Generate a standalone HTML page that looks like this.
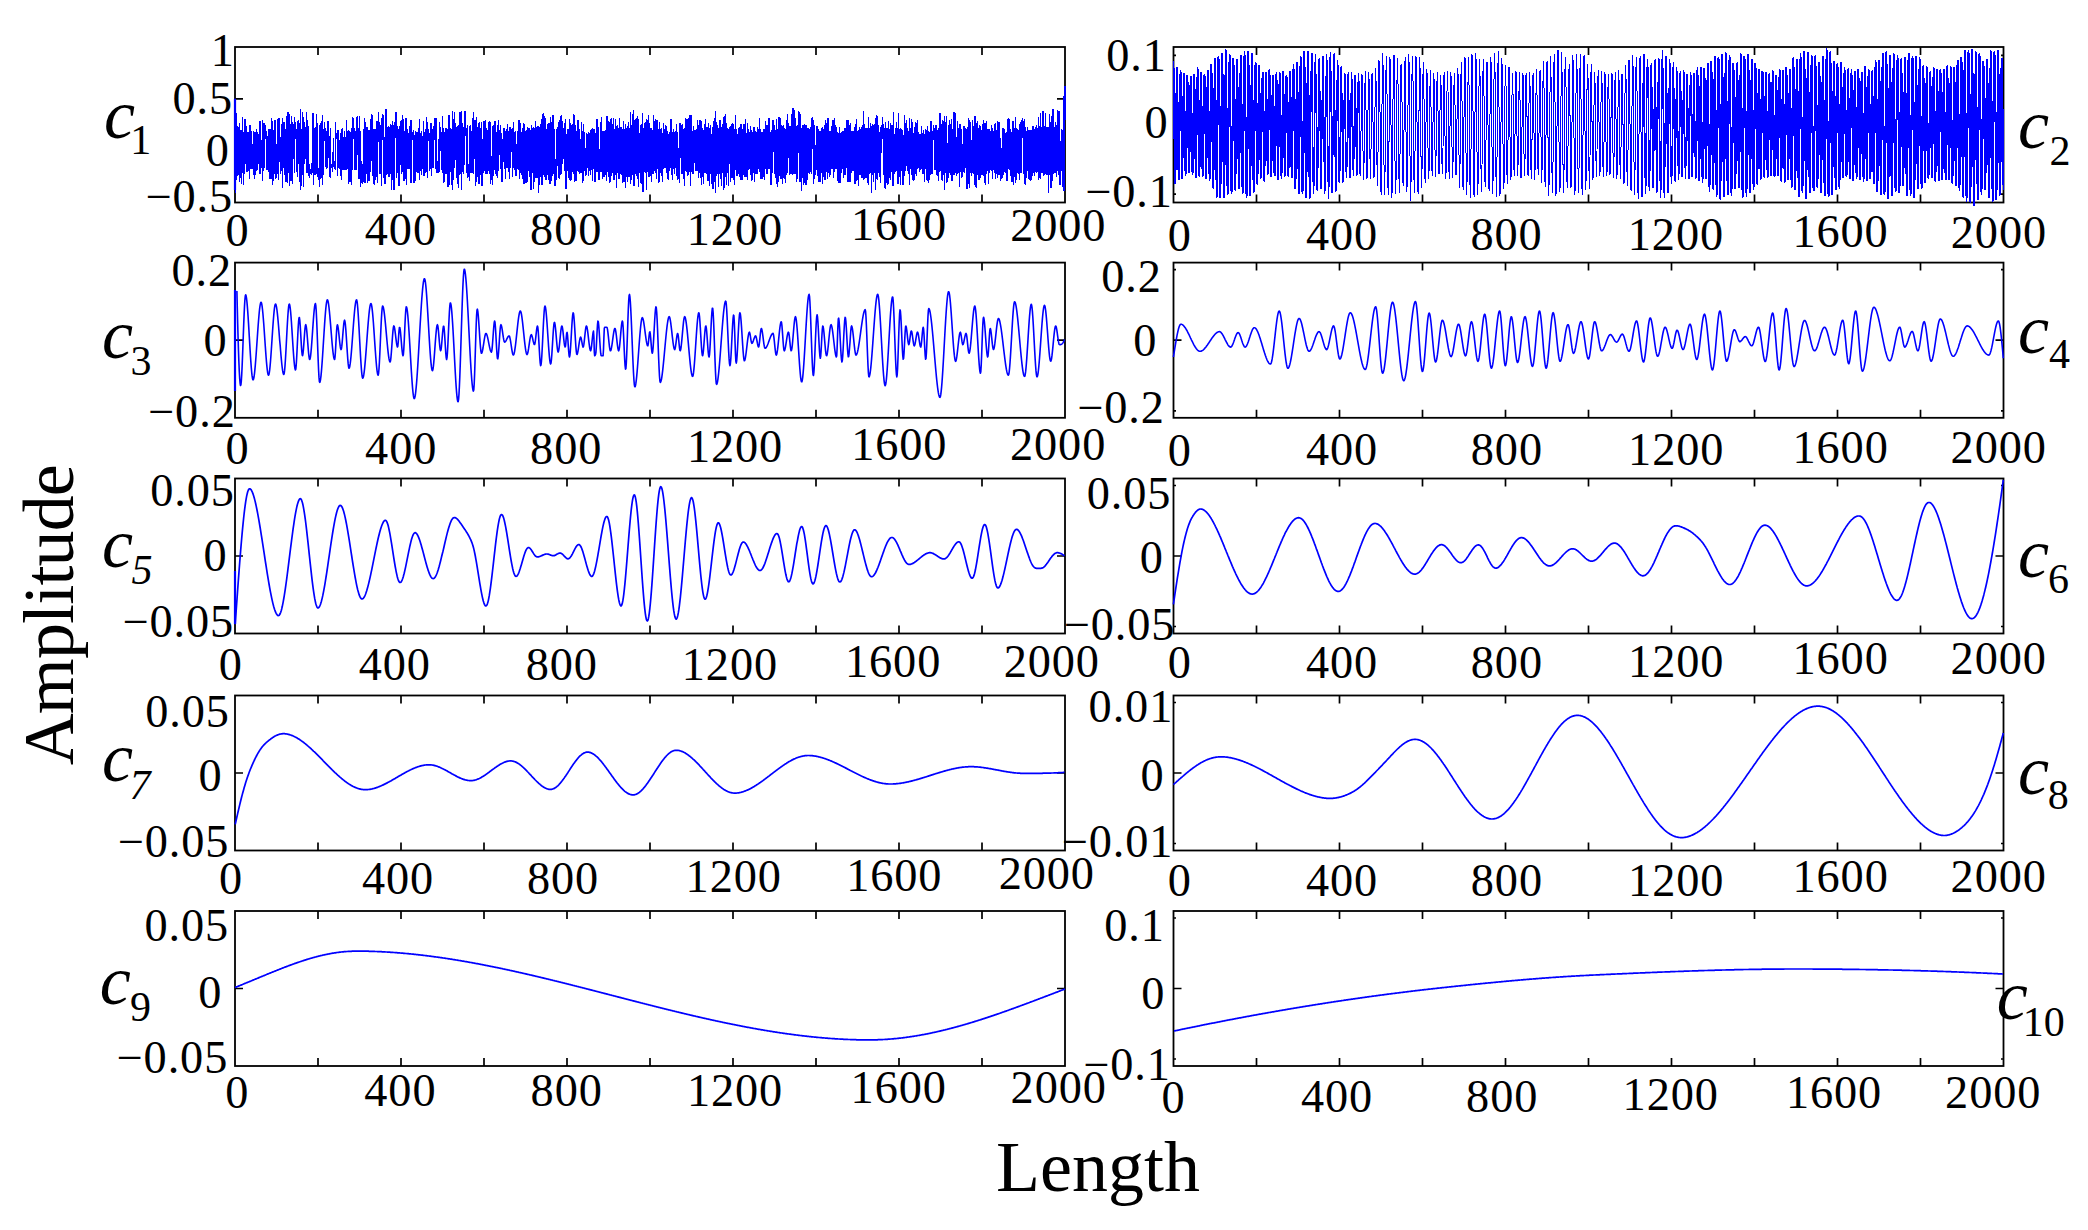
<!DOCTYPE html>
<html lang="en"><head><meta charset="utf-8"><title>IMF components</title>
<style>html,body{margin:0;padding:0;background:#fff}svg{display:block}</style></head>
<body>
<svg width="2088" height="1230" viewBox="0 0 2088 1230" font-family="'Liberation Serif', 'Times New Roman', serif" fill="#000">
<rect width="2088" height="1230" fill="#fff"/>
<rect x="235.0" y="47.0" width="830.0" height="155.5" fill="none" stroke="#000" stroke-width="1.8"/>
<path d="M318.0 47.0v8.0M318.0 202.5v-8.0M401.0 47.0v8.0M401.0 202.5v-8.0M484.0 47.0v8.0M484.0 202.5v-8.0M567.0 47.0v8.0M567.0 202.5v-8.0M650.0 47.0v8.0M650.0 202.5v-8.0M733.0 47.0v8.0M733.0 202.5v-8.0M816.0 47.0v8.0M816.0 202.5v-8.0M899.0 47.0v8.0M899.0 202.5v-8.0M982.0 47.0v8.0M982.0 202.5v-8.0M235.0 98.8h8.0M1065.0 98.8h-8.0M235.0 150.7h8.0M1065.0 150.7h-8.0" stroke="#000" stroke-width="1.7" fill="none"/>
<polyline points="235.0,98.8 235.4,192.1 235.8,119.6 236.2,179.7 236.7,113.3 237.1,175.2 237.5,126.9 237.9,138.8 238.3,130.0 238.7,174.2 239.2,123.5 239.6,181.1 240.0,163.5 240.4,169.9 240.8,130.4 241.2,183.9 241.6,131.1 242.1,172.5 242.5,117.2 242.9,139.5 243.3,165.1 243.7,184.2 244.1,131.7 244.5,173.3 245.0,119.1 245.4,139.8 245.8,163.7 246.2,134.8 246.6,126.4 247.0,171.2 247.5,132.8 247.9,171.3 248.3,162.1 248.7,138.6 249.1,132.0 249.5,178.1 249.9,125.2 250.4,168.6 250.8,129.6 251.2,168.1 251.6,131.6 252.0,168.6 252.4,164.0 252.9,168.6 253.3,131.8 253.7,174.0 254.1,132.5 254.5,178.6 254.9,134.3 255.3,174.2 255.8,132.5 256.2,139.8 256.6,129.4 257.0,170.1 257.4,132.6 257.8,166.6 258.3,134.6 258.7,137.0 259.1,162.4 259.5,173.3 259.9,121.3 260.3,173.2 260.7,160.4 261.2,140.3 261.6,163.3 262.0,167.6 262.4,120.3 262.8,180.5 263.2,123.5 263.6,170.2 264.1,123.4 264.5,167.7 264.9,132.6 265.3,138.7 265.7,125.4 266.1,138.4 266.6,133.2 267.0,169.6 267.4,162.0 267.8,169.4 268.2,132.6 268.6,170.9 269.0,129.9 269.5,178.2 269.9,167.6 270.3,172.9 270.7,129.2 271.1,178.9 271.5,119.0 272.0,176.6 272.4,121.3 272.8,184.6 273.2,162.1 273.6,131.4 274.0,130.5 274.4,173.3 274.9,120.6 275.3,178.6 275.7,130.9 276.1,177.4 276.5,162.5 276.9,172.2 277.4,119.4 277.8,173.3 278.2,124.9 278.6,179.7 279.0,118.8 279.4,132.6 279.8,130.6 280.3,173.5 280.7,164.8 281.1,170.8 281.5,125.7 281.9,134.8 282.3,118.2 282.7,187.2 283.2,130.2 283.6,138.1 284.0,122.9 284.4,171.2 284.8,163.3 285.2,176.6 285.7,129.9 286.1,182.0 286.5,116.9 286.9,171.1 287.3,125.6 287.7,182.5 288.1,112.5 288.6,172.2 289.0,129.8 289.4,185.2 289.8,114.9 290.2,171.7 290.6,164.9 291.1,180.4 291.5,117.0 291.9,138.1 292.3,122.3 292.7,183.2 293.1,124.9 293.5,138.0 294.0,129.9 294.4,172.6 294.8,117.9 295.2,138.2 295.6,129.8 296.0,136.9 296.5,129.7 296.9,171.9 297.3,129.7 297.7,176.4 298.1,120.8 298.5,136.2 298.9,163.5 299.4,136.9 299.8,123.3 300.2,189.1 300.6,110.0 301.0,172.9 301.4,129.3 301.8,185.2 302.3,112.5 302.7,135.6 303.1,117.9 303.5,186.7 303.9,122.4 304.3,128.9 304.8,163.7 305.2,137.0 305.6,127.8 306.0,137.5 306.4,112.7 306.8,172.4 307.2,120.6 307.7,172.4 308.1,126.9 308.5,175.3 308.9,163.9 309.3,177.0 309.7,166.6 310.2,173.8 310.6,169.6 311.0,172.5 311.4,163.8 311.8,174.0 312.2,164.8 312.6,172.5 313.1,113.4 313.5,184.5 313.9,129.5 314.3,173.7 314.7,129.1 315.1,174.7 315.6,128.9 316.0,135.9 316.4,114.6 316.8,173.2 317.2,123.3 317.6,176.6 318.0,168.5 318.5,170.5 318.9,168.2 319.3,186.1 319.7,125.4 320.1,171.1 320.5,124.1 320.9,178.0 321.4,124.9 321.8,169.7 322.2,115.9 322.6,184.6 323.0,129.7 323.4,174.2 323.9,132.5 324.3,130.2 324.7,122.2 325.1,136.4 325.5,166.6 325.9,139.9 326.3,132.0 326.8,168.7 327.2,164.0 327.6,140.3 328.0,121.3 328.4,138.8 328.8,131.2 329.3,167.6 329.7,164.7 330.1,177.1 330.5,128.6 330.9,167.9 331.3,165.9 331.7,167.3 332.2,166.5 332.6,171.6 333.0,161.1 333.4,138.8 333.8,163.7 334.2,167.7 334.6,166.7 335.1,169.2 335.5,122.7 335.9,134.8 336.3,134.2 336.7,137.4 337.1,133.1 337.6,175.2 338.0,130.3 338.4,139.1 338.8,167.7 339.2,140.7 339.6,163.2 340.0,168.7 340.5,133.9 340.9,175.7 341.3,129.5 341.7,179.7 342.1,128.7 342.5,169.1 343.0,170.0 343.4,140.3 343.8,161.0 344.2,135.5 344.6,131.5 345.0,169.8 345.4,168.4 345.9,169.6 346.3,120.6 346.7,136.4 347.1,131.5 347.5,168.5 347.9,132.1 348.4,183.8 348.8,130.5 349.2,168.9 349.6,131.5 350.0,181.9 350.4,132.2 350.8,178.4 351.3,132.3 351.7,184.3 352.1,128.2 352.5,169.0 352.9,117.9 353.3,138.6 353.7,123.8 354.2,137.2 354.6,132.1 355.0,169.3 355.4,131.9 355.8,169.5 356.2,132.1 356.7,169.3 357.1,116.8 357.5,139.4 357.9,128.1 358.3,169.5 358.7,131.4 359.1,178.9 359.6,116.9 360.0,137.4 360.4,161.9 360.8,186.8 361.2,162.0 361.6,171.7 362.1,164.7 362.5,183.2 362.9,168.9 363.3,175.6 363.7,129.3 364.1,181.6 364.5,118.6 365.0,182.9 365.4,122.9 365.8,139.0 366.2,130.1 366.6,173.7 367.0,127.2 367.5,182.2 367.9,130.3 368.3,134.4 368.7,163.8 369.1,180.9 369.5,130.2 369.9,136.5 370.4,130.5 370.8,171.4 371.2,114.4 371.6,137.6 372.0,115.6 372.4,175.7 372.8,130.1 373.3,131.4 373.7,129.9 374.1,184.2 374.5,129.7 374.9,179.8 375.3,129.2 375.8,173.7 376.2,174.0 376.6,176.1 377.0,121.3 377.4,182.5 377.8,128.9 378.2,129.5 378.7,112.4 379.1,137.3 379.5,167.0 379.9,173.9 380.3,170.2 380.7,137.4 381.2,123.8 381.6,185.1 382.0,118.1 382.4,137.2 382.8,114.7 383.2,136.8 383.6,115.5 384.1,177.4 384.5,164.3 384.9,183.4 385.3,115.5 385.7,182.3 386.1,109.4 386.6,174.0 387.0,127.6 387.4,173.2 387.8,167.1 388.2,135.8 388.6,126.5 389.0,176.3 389.5,127.6 389.9,172.5 390.3,125.0 390.7,173.5 391.1,125.6 391.5,189.0 391.9,128.8 392.4,179.3 392.8,122.0 393.2,137.3 393.6,126.0 394.0,189.5 394.4,128.1 394.9,132.9 395.3,117.3 395.7,137.2 396.1,112.1 396.5,177.5 396.9,126.6 397.3,133.5 397.8,128.1 398.2,178.9 398.6,130.1 399.0,185.2 399.4,126.7 399.8,170.6 400.3,128.7 400.7,131.1 401.1,121.0 401.5,172.9 401.9,130.3 402.3,171.2 402.7,116.0 403.2,169.1 403.6,119.5 404.0,180.7 404.4,132.0 404.8,170.3 405.2,128.0 405.7,178.6 406.1,118.3 406.5,184.4 406.9,132.0 407.3,168.7 407.7,129.8 408.1,137.5 408.6,165.0 409.0,168.2 409.4,127.1 409.8,132.2 410.2,168.9 410.6,182.0 411.0,120.0 411.5,182.5 411.9,133.4 412.3,132.4 412.7,132.5 413.1,139.5 413.5,130.5 414.0,182.3 414.4,164.2 414.8,169.6 415.2,131.6 415.6,180.7 416.0,167.3 416.4,140.2 416.9,132.6 417.3,169.8 417.7,132.8 418.1,172.5 418.5,132.7 418.9,137.4 419.4,119.5 419.8,179.2 420.2,133.2 420.6,168.6 421.0,162.5 421.4,174.2 421.8,131.2 422.3,168.9 422.7,162.1 423.1,139.9 423.5,121.7 423.9,175.4 424.3,162.5 424.7,175.4 425.2,129.4 425.6,172.0 426.0,131.5 426.4,171.4 426.8,117.8 427.2,177.4 427.7,122.7 428.1,140.1 428.5,129.8 428.9,139.2 429.3,133.2 429.7,170.1 430.1,133.3 430.6,168.6 431.0,123.7 431.4,174.9 431.8,126.2 432.2,140.3 432.6,133.1 433.1,167.9 433.5,133.3 433.9,140.2 434.3,118.9 434.7,132.8 435.1,132.9 435.5,168.8 436.0,118.8 436.4,172.6 436.8,162.2 437.2,171.1 437.6,161.7 438.0,173.0 438.5,165.9 438.9,172.0 439.3,122.6 439.7,168.5 440.1,127.6 440.5,130.4 440.9,132.6 441.4,137.8 441.8,165.0 442.2,170.2 442.6,117.1 443.0,172.3 443.4,129.0 443.8,182.6 444.3,132.2 444.7,181.8 445.1,162.0 445.5,171.5 445.9,128.1 446.3,173.1 446.8,131.5 447.2,171.4 447.6,129.4 448.0,186.4 448.4,116.1 448.8,176.0 449.2,115.1 449.7,184.0 450.1,128.4 450.5,171.1 450.9,166.6 451.3,172.7 451.7,130.0 452.2,189.7 452.6,111.9 453.0,176.5 453.4,122.9 453.8,179.9 454.2,112.8 454.6,135.6 455.1,123.1 455.5,137.3 455.9,128.1 456.3,177.2 456.7,128.0 457.1,172.6 457.6,126.4 458.0,183.5 458.4,164.7 458.8,187.5 459.2,119.1 459.6,132.5 460.0,112.5 460.5,173.0 460.9,127.9 461.3,189.7 461.7,111.7 462.1,137.2 462.5,171.1 462.9,137.3 463.4,128.1 463.8,173.1 464.2,127.0 464.6,135.8 465.0,111.8 465.4,135.4 465.9,128.3 466.3,136.7 466.7,128.7 467.1,172.6 467.5,125.6 467.9,177.1 468.3,164.3 468.8,174.7 469.2,163.7 469.6,180.1 470.0,126.7 470.4,172.4 470.8,125.2 471.3,172.5 471.7,164.1 472.1,171.9 472.5,118.6 472.9,172.6 473.3,112.7 473.7,173.9 474.2,129.8 474.6,133.2 475.0,120.8 475.4,185.0 475.8,130.3 476.2,181.8 476.7,117.5 477.1,171.9 477.5,127.6 477.9,176.8 478.3,130.1 478.7,183.6 479.1,122.9 479.6,182.9 480.0,128.1 480.4,174.3 480.8,130.9 481.2,171.3 481.6,122.6 482.0,185.9 482.5,162.3 482.9,139.2 483.3,162.1 483.7,172.5 484.1,121.3 484.5,170.2 485.0,128.4 485.4,173.6 485.8,120.1 486.2,169.8 486.6,131.9 487.0,173.3 487.4,130.2 487.9,170.5 488.3,122.3 488.7,135.0 489.1,161.9 489.5,173.8 489.9,121.7 490.4,183.1 490.8,161.8 491.2,179.8 491.6,161.8 492.0,176.5 492.4,126.8 492.8,184.3 493.3,126.1 493.7,169.1 494.1,125.4 494.5,169.8 494.9,121.2 495.3,139.7 495.8,162.4 496.2,175.8 496.6,132.3 497.0,175.1 497.4,165.9 497.8,177.0 498.2,120.5 498.7,170.8 499.1,132.7 499.5,139.5 499.9,131.0 500.3,168.3 500.7,125.6 501.1,168.2 501.6,133.2 502.0,181.7 502.4,167.0 502.8,139.9 503.2,161.9 503.6,134.2 504.1,128.2 504.5,168.5 504.9,131.1 505.3,178.5 505.7,133.9 506.1,131.5 506.5,129.6 507.0,167.7 507.4,124.7 507.8,167.3 508.2,132.0 508.6,171.6 509.0,133.5 509.5,178.6 509.9,127.5 510.3,167.3 510.7,134.1 511.1,140.9 511.5,130.0 511.9,140.7 512.4,162.8 512.8,176.7 513.2,123.0 513.6,167.2 514.0,133.0 514.4,169.3 514.8,132.4 515.3,169.4 515.7,131.4 516.1,175.5 516.5,161.3 516.9,168.8 517.3,131.9 517.8,167.8 518.2,128.1 518.6,169.8 519.0,120.6 519.4,178.1 519.8,132.7 520.2,139.8 520.7,123.8 521.1,172.8 521.5,132.9 521.9,174.4 522.3,130.6 522.7,178.5 523.2,123.6 523.6,183.1 524.0,124.5 524.4,183.3 524.8,162.6 525.2,138.4 525.6,131.6 526.1,182.6 526.5,131.1 526.9,136.1 527.3,127.1 527.7,181.8 528.1,128.6 528.6,170.8 529.0,128.4 529.4,170.8 529.8,163.6 530.2,177.8 530.6,130.2 531.0,189.7 531.5,125.2 531.9,137.4 532.3,170.9 532.7,171.9 533.1,128.0 533.5,188.6 533.9,128.6 534.4,181.8 534.8,163.5 535.2,177.0 535.6,121.4 536.0,172.8 536.4,127.4 536.9,177.6 537.3,167.4 537.7,172.6 538.1,126.2 538.5,192.2 538.9,127.3 539.3,184.1 539.8,128.4 540.2,176.0 540.6,124.3 541.0,133.8 541.4,119.4 541.8,184.4 542.3,169.1 542.7,184.7 543.1,113.9 543.5,173.9 543.9,116.1 544.3,176.9 544.7,128.2 545.2,172.5 545.6,118.4 546.0,179.3 546.4,129.3 546.8,178.0 547.2,129.4 547.7,174.3 548.1,123.9 548.5,179.3 548.9,129.3 549.3,171.7 549.7,124.0 550.1,184.0 550.6,118.1 551.0,173.6 551.4,124.1 551.8,180.7 552.2,115.7 552.6,175.4 553.0,115.8 553.5,172.9 553.9,129.3 554.3,172.6 554.7,168.7 555.1,185.7 555.5,165.2 556.0,179.7 556.4,129.9 556.8,175.4 557.2,127.2 557.6,136.6 558.0,129.7 558.4,177.7 558.9,122.4 559.3,178.0 559.7,120.5 560.1,174.4 560.5,117.1 560.9,135.2 561.4,116.1 561.8,173.6 562.2,121.8 562.6,138.2 563.0,130.3 563.4,128.9 563.8,128.3 564.3,170.9 564.7,124.0 565.1,129.0 565.5,120.1 565.9,188.7 566.3,172.3 566.8,174.0 567.2,129.9 567.6,170.7 568.0,129.7 568.4,177.2 568.8,171.4 569.2,138.8 569.7,119.4 570.1,180.3 570.5,123.2 570.9,170.3 571.3,131.2 571.7,179.1 572.1,124.8 572.6,171.8 573.0,129.9 573.4,169.7 573.8,114.7 574.2,181.1 574.6,115.7 575.1,132.9 575.5,129.1 575.9,180.7 576.3,131.9 576.7,175.8 577.1,131.9 577.5,170.7 578.0,120.7 578.4,170.9 578.8,120.4 579.2,173.4 579.6,132.1 580.0,168.8 580.5,161.0 580.9,172.4 581.3,123.0 581.7,168.2 582.1,162.6 582.5,182.3 582.9,132.0 583.4,180.5 583.8,124.2 584.2,170.3 584.6,163.8 585.0,167.0 585.4,162.5 585.9,175.0 586.3,134.0 586.7,166.8 587.1,134.6 587.5,166.9 587.9,134.1 588.3,175.7 588.8,132.1 589.2,170.3 589.6,133.6 590.0,167.6 590.4,130.7 590.8,174.3 591.2,134.4 591.7,169.0 592.1,129.0 592.5,180.2 592.9,133.7 593.3,168.7 593.7,130.1 594.2,167.2 594.6,129.2 595.0,181.4 595.4,133.3 595.8,170.3 596.2,133.9 596.6,171.1 597.1,119.3 597.5,171.7 597.9,133.1 598.3,139.6 598.7,127.7 599.1,179.4 599.6,162.8 600.0,171.6 600.4,122.8 600.8,168.6 601.2,118.0 601.6,171.8 602.0,131.0 602.5,178.6 602.9,131.4 603.3,169.4 603.7,131.2 604.1,176.5 604.5,131.7 604.9,137.5 605.4,130.9 605.8,174.4 606.2,131.2 606.6,180.1 607.0,116.3 607.4,171.6 607.9,129.3 608.3,176.1 608.7,121.6 609.1,170.5 609.5,123.1 609.9,182.2 610.3,119.7 610.8,173.7 611.2,118.5 611.6,175.7 612.0,130.0 612.4,172.1 612.8,124.5 613.3,176.1 613.7,118.8 614.1,180.0 614.5,129.6 614.9,173.6 615.3,119.4 615.7,174.5 616.2,129.4 616.6,187.5 617.0,126.9 617.4,172.6 617.8,125.8 618.2,172.6 618.7,129.0 619.1,178.9 619.5,118.6 619.9,173.9 620.3,129.7 620.7,136.1 621.1,127.5 621.6,174.3 622.0,129.2 622.4,182.0 622.8,163.4 623.2,171.3 623.6,121.3 624.0,181.2 624.5,129.2 624.9,171.8 625.3,124.2 625.7,187.3 626.1,129.0 626.5,176.4 627.0,128.8 627.4,181.4 627.8,126.2 628.2,173.8 628.6,122.2 629.0,176.4 629.4,129.1 629.9,174.5 630.3,112.1 630.7,183.6 631.1,125.1 631.5,179.6 631.9,129.2 632.4,174.6 632.8,114.2 633.2,172.4 633.6,110.6 634.0,185.6 634.4,120.7 634.8,174.3 635.3,129.2 635.7,173.4 636.1,119.0 636.5,175.1 636.9,170.9 637.3,172.9 637.8,116.2 638.2,186.4 638.6,119.5 639.0,172.8 639.4,164.0 639.8,172.3 640.2,129.1 640.7,182.3 641.1,125.0 641.5,183.0 641.9,128.0 642.3,174.0 642.7,113.9 643.1,191.5 643.6,129.2 644.0,131.2 644.4,124.1 644.8,171.8 645.2,122.9 645.6,172.8 646.1,127.8 646.5,189.4 646.9,120.0 647.3,171.4 647.7,122.0 648.1,171.1 648.5,116.0 649.0,176.9 649.4,123.8 649.8,170.7 650.2,130.7 650.6,174.9 651.0,128.8 651.5,181.8 651.9,130.1 652.3,172.3 652.7,131.3 653.1,173.6 653.5,116.1 653.9,170.4 654.4,121.8 654.8,169.5 655.2,119.3 655.6,172.8 656.0,132.4 656.4,178.3 656.9,120.1 657.3,139.9 657.7,132.9 658.1,169.0 658.5,129.5 658.9,182.2 659.3,122.1 659.8,169.1 660.2,133.6 660.6,172.6 661.0,129.3 661.4,168.1 661.8,128.9 662.2,181.9 662.7,133.9 663.1,168.3 663.5,123.7 663.9,167.3 664.3,160.6 664.7,167.3 665.2,126.0 665.6,167.1 666.0,134.4 666.4,172.2 666.8,126.2 667.2,174.9 667.6,132.1 668.1,179.2 668.5,134.2 668.9,169.4 669.3,132.7 669.7,170.9 670.1,133.9 670.6,167.3 671.0,119.7 671.4,168.2 671.8,130.9 672.2,179.8 672.6,132.9 673.0,169.0 673.5,129.6 673.9,167.5 674.3,133.8 674.7,173.3 675.1,131.9 675.5,167.8 676.0,161.6 676.4,175.0 676.8,124.7 677.2,171.6 677.6,132.7 678.0,179.1 678.4,161.5 678.9,177.1 679.3,132.7 679.7,182.5 680.1,123.5 680.5,137.8 680.9,130.1 681.3,173.6 681.8,125.9 682.2,173.4 682.6,124.9 683.0,169.0 683.4,129.9 683.8,178.1 684.3,129.5 684.7,185.0 685.1,127.9 685.5,170.5 685.9,118.8 686.3,171.8 686.7,127.5 687.2,175.8 687.6,119.7 688.0,170.0 688.4,119.1 688.8,174.5 689.2,129.9 689.7,171.1 690.1,115.1 690.5,185.0 690.9,127.2 691.3,171.3 691.7,115.3 692.1,169.7 692.6,131.6 693.0,173.3 693.4,126.2 693.8,169.8 694.2,131.1 694.6,139.1 695.1,130.6 695.5,170.3 695.9,131.2 696.3,170.2 696.7,129.3 697.1,170.2 697.5,121.1 698.0,137.5 698.4,131.0 698.8,177.2 699.2,120.4 699.6,172.2 700.0,130.9 700.4,177.5 700.9,121.0 701.3,184.7 701.7,122.0 702.1,176.6 702.5,128.8 702.9,171.7 703.4,130.4 703.8,183.1 704.2,125.0 704.6,172.4 705.0,129.9 705.4,172.6 705.8,119.6 706.3,172.2 706.7,129.7 707.1,174.0 707.5,127.8 707.9,180.6 708.3,124.0 708.8,175.8 709.2,174.7 709.6,185.8 710.0,128.9 710.4,173.2 710.8,126.0 711.2,172.5 711.7,170.3 712.1,183.8 712.5,127.4 712.9,188.9 713.3,123.1 713.7,173.5 714.1,121.4 714.6,181.4 715.0,118.6 715.4,192.1 715.8,111.6 716.2,175.9 716.6,125.2 717.1,173.0 717.5,125.4 717.9,173.4 718.3,128.2 718.7,186.0 719.1,128.4 719.5,173.1 720.0,120.2 720.4,133.9 720.8,125.5 721.2,185.3 721.6,127.9 722.0,173.1 722.5,124.3 722.9,172.5 723.3,120.3 723.7,189.3 724.1,116.8 724.5,186.9 724.9,129.4 725.4,174.7 725.8,114.2 726.2,184.7 726.6,123.8 727.0,133.8 727.4,129.1 727.9,172.1 728.3,130.3 728.7,185.6 729.1,129.4 729.5,127.9 729.9,130.9 730.3,181.4 730.8,126.7 731.2,170.1 731.6,124.2 732.0,177.9 732.4,123.6 732.8,177.4 733.2,124.5 733.7,179.0 734.1,130.0 734.5,184.6 734.9,163.7 735.3,169.9 735.7,116.1 736.2,169.8 736.6,130.0 737.0,176.0 737.4,167.3 737.8,139.2 738.2,133.0 738.6,173.1 739.1,128.0 739.5,176.2 739.9,132.4 740.3,178.4 740.7,124.3 741.1,179.4 741.6,124.9 742.0,136.4 742.4,129.2 742.8,179.1 743.2,132.9 743.6,174.2 744.0,124.1 744.5,176.7 744.9,133.4 745.3,169.0 745.7,120.1 746.1,176.7 746.5,133.3 747.0,171.0 747.4,123.6 747.8,179.1 748.2,129.8 748.6,167.9 749.0,132.9 749.4,167.9 749.9,133.1 750.3,167.9 750.7,126.2 751.1,175.2 751.5,130.7 751.9,180.0 752.3,161.2 752.8,168.4 753.2,127.9 753.6,172.0 754.0,133.1 754.4,181.0 754.8,127.6 755.3,173.5 755.7,131.4 756.1,173.5 756.5,133.1 756.9,169.3 757.3,127.3 757.7,173.4 758.2,129.3 758.6,168.2 759.0,131.8 759.4,130.9 759.8,119.0 760.2,178.5 760.7,133.1 761.1,168.2 761.5,132.7 761.9,178.7 762.3,161.4 762.7,168.7 763.1,132.4 763.6,176.2 764.0,129.3 764.4,179.6 764.8,133.2 765.2,168.1 765.6,122.1 766.1,168.2 766.5,125.5 766.9,173.4 767.3,132.7 767.7,169.0 768.1,124.9 768.5,168.2 769.0,118.5 769.4,168.3 769.8,132.8 770.2,136.4 770.6,132.9 771.0,184.6 771.4,130.3 771.9,168.5 772.3,132.5 772.7,172.9 773.1,120.5 773.5,139.4 773.9,130.4 774.4,173.7 774.8,125.9 775.2,177.2 775.6,130.8 776.0,171.1 776.4,119.4 776.8,183.2 777.3,129.4 777.7,186.8 778.1,131.3 778.5,181.2 778.9,117.2 779.3,175.0 779.8,167.1 780.2,170.2 780.6,118.6 781.0,178.3 781.4,125.3 781.8,176.2 782.2,130.2 782.7,183.8 783.1,125.7 783.5,177.5 783.9,129.7 784.3,178.2 784.7,129.0 785.2,182.2 785.6,129.6 786.0,137.8 786.4,163.8 786.8,174.7 787.2,114.6 787.6,172.2 788.1,123.5 788.5,137.6 788.9,126.5 789.3,174.0 789.7,128.3 790.1,135.0 790.5,126.6 791.0,173.9 791.4,121.5 791.8,173.8 792.2,109.1 792.6,174.0 793.0,108.3 793.5,173.4 793.9,109.9 794.3,173.1 794.7,128.3 795.1,173.2 795.5,118.7 795.9,173.9 796.4,127.1 796.8,181.6 797.2,128.4 797.6,178.2 798.0,125.8 798.4,137.2 798.9,112.0 799.3,174.8 799.7,127.4 800.1,181.6 800.5,114.6 800.9,173.2 801.3,128.8 801.8,190.4 802.2,126.1 802.6,177.0 803.0,125.9 803.4,184.8 803.8,126.5 804.2,182.2 804.7,125.1 805.1,171.6 805.5,125.6 805.9,184.8 806.3,125.4 806.7,173.5 807.2,130.3 807.6,179.5 808.0,128.1 808.4,172.3 808.8,128.6 809.2,173.2 809.6,129.2 810.1,171.6 810.5,127.8 810.9,170.2 811.3,130.5 811.7,173.0 812.1,117.8 812.6,137.5 813.0,126.6 813.4,183.5 813.8,120.7 814.2,178.0 814.6,125.6 815.0,175.1 815.5,162.3 815.9,169.7 816.3,131.9 816.7,169.5 817.1,126.1 817.5,175.1 818.0,132.0 818.4,180.9 818.8,129.3 819.2,173.6 819.6,132.1 820.0,181.3 820.4,132.1 820.9,169.7 821.3,129.1 821.7,172.7 822.1,128.0 822.5,183.6 822.9,132.3 823.3,176.1 823.8,129.7 824.2,179.6 824.6,125.5 825.0,179.5 825.4,120.3 825.8,178.6 826.3,132.3 826.7,137.2 827.1,123.1 827.5,178.2 827.9,118.6 828.3,171.1 828.7,132.7 829.2,176.8 829.6,131.8 830.0,175.0 830.4,132.8 830.8,170.1 831.2,126.9 831.7,168.5 832.1,131.7 832.5,168.5 832.9,120.6 833.3,177.3 833.7,127.2 834.1,171.9 834.6,118.2 835.0,168.8 835.4,126.1 835.8,167.9 836.2,128.0 836.6,168.2 837.1,133.7 837.5,180.3 837.9,132.8 838.3,182.7 838.7,164.7 839.1,173.8 839.5,127.5 840.0,182.4 840.4,133.5 840.8,182.1 841.2,132.9 841.6,167.3 842.0,168.2 842.4,167.2 842.9,131.3 843.3,177.3 843.7,133.3 844.1,174.4 844.5,128.5 844.9,173.8 845.4,134.0 845.8,174.1 846.2,123.9 846.6,167.4 847.0,120.2 847.4,180.9 847.8,132.8 848.3,181.2 848.7,120.6 849.1,167.6 849.5,125.8 849.9,181.8 850.3,123.5 850.8,167.9 851.2,131.3 851.6,172.4 852.0,131.5 852.4,170.1 852.8,133.0 853.2,168.3 853.7,131.7 854.1,171.0 854.5,127.7 854.9,183.8 855.3,132.4 855.7,170.7 856.2,119.7 856.6,180.5 857.0,131.8 857.4,135.0 857.8,131.6 858.2,185.3 858.6,130.5 859.1,135.5 859.5,127.7 859.9,174.5 860.3,130.3 860.7,172.5 861.1,129.5 861.5,177.2 862.0,127.6 862.4,177.0 862.8,125.4 863.2,179.0 863.6,111.9 864.0,176.3 864.5,124.6 864.9,178.3 865.3,166.4 865.7,174.6 866.1,128.5 866.5,177.0 866.9,128.3 867.4,180.1 867.8,172.7 868.2,184.4 868.6,117.3 869.0,173.0 869.4,128.9 869.9,173.0 870.3,123.1 870.7,137.5 871.1,128.7 871.5,192.5 871.9,126.8 872.3,172.6 872.8,124.2 873.2,181.6 873.6,125.2 874.0,172.7 874.4,124.2 874.8,172.5 875.3,118.9 875.7,189.7 876.1,129.0 876.5,178.1 876.9,115.9 877.3,179.7 877.7,128.9 878.2,172.2 878.6,125.7 879.0,172.1 879.4,171.4 879.8,176.5 880.2,127.9 880.6,182.8 881.1,128.9 881.5,135.3 881.9,125.3 882.3,138.0 882.7,117.9 883.1,132.9 883.6,129.3 884.0,174.5 884.4,128.5 884.8,187.9 885.2,122.2 885.6,188.0 886.0,169.3 886.5,182.5 886.9,128.7 887.3,184.3 887.7,128.5 888.1,183.4 888.5,121.5 889.0,175.3 889.4,129.9 889.8,177.1 890.2,123.7 890.6,179.1 891.0,130.4 891.4,171.8 891.9,125.2 892.3,183.9 892.7,129.7 893.1,185.4 893.5,113.0 893.9,170.9 894.3,168.2 894.8,173.2 895.2,130.3 895.6,171.4 896.0,128.7 896.4,170.7 896.8,122.4 897.3,173.9 897.7,128.9 898.1,184.0 898.5,113.8 898.9,173.8 899.3,129.5 899.7,176.4 900.2,128.4 900.6,184.4 901.0,129.9 901.4,170.5 901.8,131.1 902.2,170.5 902.7,131.1 903.1,184.5 903.5,166.8 903.9,175.2 904.3,116.0 904.7,175.8 905.1,123.6 905.6,169.9 906.0,130.7 906.4,135.8 906.8,120.5 907.2,170.3 907.6,129.2 908.1,170.1 908.5,131.3 908.9,173.8 909.3,118.8 909.7,184.3 910.1,128.1 910.5,168.4 911.0,161.8 911.4,174.6 911.8,119.7 912.2,168.3 912.6,122.9 913.0,179.7 913.4,133.5 913.9,180.2 914.3,128.8 914.7,178.2 915.1,127.5 915.5,173.8 915.9,122.8 916.4,175.5 916.8,132.2 917.2,168.8 917.6,120.4 918.0,167.7 918.4,132.8 918.8,167.0 919.3,161.1 919.7,171.2 920.1,134.3 920.5,168.9 920.9,163.2 921.3,168.4 921.8,126.8 922.2,170.0 922.6,133.5 923.0,173.8 923.4,130.7 923.8,169.2 924.2,134.4 924.7,181.1 925.1,134.2 925.5,168.6 925.9,129.9 926.3,179.8 926.7,133.3 927.2,167.2 927.6,127.1 928.0,180.8 928.4,131.4 928.8,182.7 929.2,132.6 929.6,179.3 930.1,133.6 930.5,174.5 930.9,121.3 931.3,169.0 931.7,122.1 932.1,173.5 932.5,131.7 933.0,140.0 933.4,126.1 933.8,138.7 934.2,128.2 934.6,169.4 935.0,132.3 935.5,169.3 935.9,125.6 936.3,169.6 936.7,130.6 937.1,175.1 937.5,130.6 937.9,173.2 938.4,128.9 938.8,180.3 939.2,128.8 939.6,171.3 940.0,113.5 940.4,170.8 940.9,124.0 941.3,177.0 941.7,128.9 942.1,180.3 942.5,120.6 942.9,174.5 943.3,128.9 943.8,171.1 944.2,116.5 944.6,189.2 945.0,129.1 945.4,172.7 945.8,122.9 946.3,182.2 946.7,117.0 947.1,181.9 947.5,167.9 947.9,178.0 948.3,130.0 948.7,175.3 949.2,121.0 949.6,172.8 950.0,129.0 950.4,174.2 950.8,124.9 951.2,171.4 951.6,119.7 952.1,180.4 952.5,129.2 952.9,172.3 953.3,129.5 953.7,174.2 954.1,112.4 954.6,173.9 955.0,113.7 955.4,171.9 955.8,129.1 956.2,175.7 956.6,163.3 957.0,171.6 957.5,121.9 957.9,173.3 958.3,168.4 958.7,172.2 959.1,128.5 959.5,186.5 960.0,124.0 960.4,171.7 960.8,126.9 961.2,171.7 961.6,129.7 962.0,177.1 962.4,163.3 962.9,172.3 963.3,129.6 963.7,171.9 964.1,126.3 964.5,172.1 964.9,128.0 965.4,136.1 965.8,129.0 966.2,172.1 966.6,129.2 967.0,189.0 967.4,127.5 967.8,175.4 968.3,118.9 968.7,183.6 969.1,120.5 969.5,187.3 969.9,124.4 970.3,172.4 970.7,122.6 971.2,175.5 971.6,171.3 972.0,172.9 972.4,121.0 972.8,172.0 973.2,126.9 973.7,173.9 974.1,129.3 974.5,184.6 974.9,116.6 975.3,172.8 975.7,120.3 976.1,187.3 976.6,123.8 977.0,173.8 977.4,121.4 977.8,174.0 978.2,166.5 978.6,179.1 979.1,128.7 979.5,178.9 979.9,125.9 980.3,177.0 980.7,129.1 981.1,132.7 981.5,130.3 982.0,174.3 982.4,126.2 982.8,170.4 983.2,120.1 983.6,175.1 984.0,131.2 984.4,182.3 984.9,123.2 985.3,184.1 985.7,124.3 986.1,173.3 986.5,121.8 986.9,138.5 987.4,129.6 987.8,170.7 988.2,131.1 988.6,183.2 989.0,129.1 989.4,172.1 989.8,131.1 990.3,169.6 990.7,132.6 991.1,131.8 991.5,125.5 991.9,170.9 992.3,128.6 992.8,178.1 993.2,132.1 993.6,168.3 994.0,131.0 994.4,139.1 994.8,124.1 995.2,178.9 995.7,123.5 996.1,173.7 996.5,130.7 996.9,167.2 997.3,121.7 997.7,177.3 998.2,130.9 998.6,174.8 999.0,122.8 999.4,167.9 999.8,130.2 1000.2,180.3 1000.6,160.7 1001.1,167.0 1001.5,168.3 1001.9,178.0 1002.3,134.4 1002.7,171.5 1003.1,128.6 1003.5,174.3 1004.0,129.1 1004.4,171.4 1004.8,129.1 1005.2,172.6 1005.6,133.9 1006.0,167.7 1006.5,132.9 1006.9,180.7 1007.3,130.8 1007.7,173.0 1008.1,119.0 1008.5,167.9 1008.9,133.0 1009.4,169.0 1009.8,120.0 1010.2,175.9 1010.6,132.9 1011.0,140.1 1011.4,132.6 1011.9,181.9 1012.3,162.9 1012.7,180.7 1013.1,121.2 1013.5,184.2 1013.9,128.2 1014.3,169.8 1014.8,128.5 1015.2,182.2 1015.6,117.2 1016.0,171.4 1016.4,128.7 1016.8,179.6 1017.3,129.8 1017.7,139.0 1018.1,130.9 1018.5,172.9 1018.9,131.1 1019.3,179.1 1019.7,124.7 1020.2,130.4 1020.6,122.5 1021.0,172.7 1021.4,131.2 1021.8,138.8 1022.2,118.1 1022.6,135.3 1023.1,131.4 1023.5,173.7 1023.9,121.7 1024.3,180.8 1024.7,119.4 1025.1,184.3 1025.6,127.8 1026.0,134.7 1026.4,162.3 1026.8,177.2 1027.2,127.2 1027.6,170.7 1028.0,162.9 1028.5,178.5 1028.9,130.5 1029.3,171.9 1029.7,163.7 1030.1,180.2 1030.5,130.5 1031.0,170.4 1031.4,130.5 1031.8,179.1 1032.2,130.8 1032.6,175.5 1033.0,126.7 1033.4,172.8 1033.9,128.8 1034.3,175.5 1034.7,130.5 1035.1,137.6 1035.5,127.6 1035.9,171.3 1036.4,125.7 1036.8,172.6 1037.2,130.0 1037.6,171.5 1038.0,128.3 1038.4,179.2 1038.8,118.0 1039.3,175.6 1039.7,129.6 1040.1,178.3 1040.5,113.8 1040.9,172.0 1041.3,127.4 1041.7,172.1 1042.2,123.3 1042.6,172.4 1043.0,111.7 1043.4,175.1 1043.8,121.9 1044.2,174.2 1044.7,127.0 1045.1,172.6 1045.5,114.0 1045.9,173.8 1046.3,127.7 1046.7,174.9 1047.1,128.0 1047.6,174.4 1048.0,127.2 1048.4,192.1 1048.8,173.1 1049.2,174.1 1049.6,114.6 1050.1,172.9 1050.5,122.6 1050.9,187.6 1051.3,127.8 1051.7,173.2 1052.1,116.3 1052.5,180.7 1053.0,109.6 1053.4,173.0 1053.8,164.0 1054.2,172.5 1054.6,127.2 1055.0,172.4 1055.5,122.3 1055.9,172.3 1056.3,125.8 1056.7,176.6 1057.1,163.5 1057.5,132.8 1057.9,110.7 1058.4,174.0 1058.8,125.4 1059.2,173.6 1059.6,112.0 1060.0,184.3 1060.4,173.3 1060.8,173.2 1061.3,129.1 1061.7,170.6 1062.1,130.8 1062.5,186.7 1062.9,165.7 1063.3,137.2 1063.8,190.1 1064.2,88.5 1064.6,190.1 1065.0,86.4" fill="none" stroke="#0000ff" stroke-width="1.3" stroke-linejoin="round" shape-rendering="crispEdges"/>
<path d="M235 98.7V190" stroke="#0000ff" stroke-width="2.2"/>
<rect x="1173.5" y="47.0" width="830.0" height="155.5" fill="none" stroke="#000" stroke-width="1.8"/>
<path d="M1256.5 47.0v8.0M1256.5 202.5v-8.0M1339.5 47.0v8.0M1339.5 202.5v-8.0M1422.5 47.0v8.0M1422.5 202.5v-8.0M1505.5 47.0v8.0M1505.5 202.5v-8.0M1588.5 47.0v8.0M1588.5 202.5v-8.0M1671.5 47.0v8.0M1671.5 202.5v-8.0M1754.5 47.0v8.0M1754.5 202.5v-8.0M1837.5 47.0v8.0M1837.5 202.5v-8.0M1920.5 47.0v8.0M1920.5 202.5v-8.0M1173.5 124.8h8.0M2003.5 124.8h-8.0M1173.5 55.3h2.5M2003.5 55.3h-2.5M1173.5 194.2h2.5M2003.5 194.2h-2.5" stroke="#000" stroke-width="1.7" fill="none"/>
<polyline points="1173.5,61.2 1173.9,84.8 1174.3,128.1 1174.7,168.3 1175.2,183.3 1175.6,172.5 1176.0,133.1 1176.4,93.3 1176.8,68.0 1177.2,74.6 1177.7,107.0 1178.1,147.2 1178.5,176.1 1178.9,179.4 1179.3,150.3 1179.7,111.4 1180.1,79.9 1180.6,71.2 1181.0,93.2 1181.4,130.8 1181.8,166.0 1182.2,178.5 1182.6,160.9 1183.0,125.4 1183.5,90.3 1183.9,74.2 1184.3,85.4 1184.7,118.5 1185.1,155.4 1185.5,175.3 1186.0,167.2 1186.4,136.5 1186.8,98.5 1187.2,76.1 1187.6,79.8 1188.0,108.8 1188.4,147.8 1188.9,170.8 1189.3,172.4 1189.7,145.8 1190.1,107.0 1190.5,79.1 1190.9,76.8 1191.4,101.8 1191.8,139.8 1192.2,169.7 1192.6,173.7 1193.0,151.9 1193.4,113.9 1193.8,81.9 1194.3,74.5 1194.7,93.3 1195.1,131.6 1195.5,165.5 1195.9,177.3 1196.3,158.1 1196.8,121.6 1197.2,86.7 1197.6,67.9 1198.0,88.0 1198.4,123.8 1198.8,159.8 1199.2,175.8 1199.7,164.9 1200.1,130.1 1200.5,92.5 1200.9,72.3 1201.3,80.2 1201.7,113.9 1202.1,155.0 1202.6,176.5 1203.0,173.7 1203.4,141.1 1203.8,101.4 1204.2,75.3 1204.6,75.7 1205.1,102.1 1205.5,142.7 1205.9,172.1 1206.3,178.5 1206.7,152.2 1207.1,113.5 1207.5,79.8 1208.0,70.4 1208.4,92.4 1208.8,128.3 1209.2,166.8 1209.6,179.9 1210.0,169.8 1210.5,130.5 1210.9,88.5 1211.3,64.7 1211.7,75.3 1212.1,108.0 1212.5,151.7 1212.9,184.4 1213.4,187.8 1213.8,154.5 1214.2,108.0 1214.6,72.3 1215.0,58.8 1215.4,81.4 1215.9,127.1 1216.3,173.3 1216.7,196.8 1217.1,180.5 1217.5,139.2 1217.9,91.8 1218.3,57.2 1218.8,59.5 1219.2,94.8 1219.6,142.8 1220.0,182.3 1220.4,197.6 1220.8,173.5 1221.2,126.5 1221.7,76.7 1222.1,54.1 1222.5,63.4 1222.9,101.9 1223.3,152.4 1223.7,188.0 1224.2,197.1 1224.6,168.2 1225.0,119.4 1225.4,76.2 1225.8,50.2 1226.2,63.7 1226.6,106.4 1227.1,156.8 1227.5,193.3 1227.9,193.7 1228.3,166.1 1228.7,117.1 1229.1,75.2 1229.6,54.7 1230.0,68.8 1230.4,107.8 1230.8,156.9 1231.2,188.8 1231.6,193.2 1232.0,166.0 1232.5,117.8 1232.9,76.2 1233.3,58.8 1233.7,66.3 1234.1,107.8 1234.5,150.6 1235.0,180.2 1235.4,190.0 1235.8,161.1 1236.2,120.8 1236.6,81.4 1237.0,59.9 1237.4,74.5 1237.9,106.0 1238.3,149.4 1238.7,184.2 1239.1,188.0 1239.5,165.6 1239.9,122.6 1240.3,78.5 1240.8,55.7 1241.2,67.0 1241.6,102.5 1242.0,149.3 1242.4,187.1 1242.8,192.8 1243.3,168.8 1243.7,122.3 1244.1,72.4 1244.5,51.7 1244.9,63.3 1245.3,103.4 1245.7,154.0 1246.2,189.4 1246.6,197.1 1247.0,168.7 1247.4,118.4 1247.8,74.0 1248.2,51.5 1248.7,68.6 1249.1,110.2 1249.5,159.8 1249.9,195.0 1250.3,194.0 1250.7,158.6 1251.1,111.4 1251.6,69.6 1252.0,53.5 1252.4,76.3 1252.8,120.8 1253.2,166.1 1253.6,192.4 1254.1,182.6 1254.5,144.7 1254.9,99.0 1255.3,65.8 1255.7,63.2 1256.1,92.9 1256.5,136.5 1257.0,173.5 1257.4,183.9 1257.8,166.2 1258.2,125.4 1258.6,85.3 1259.0,66.2 1259.4,78.5 1259.9,113.3 1260.3,151.9 1260.7,178.0 1261.1,175.7 1261.5,144.4 1261.9,104.4 1262.4,78.0 1262.8,72.8 1263.2,97.8 1263.6,136.7 1264.0,169.0 1264.4,180.8 1264.8,154.3 1265.3,120.4 1265.7,86.6 1266.1,72.5 1266.5,88.6 1266.9,123.0 1267.3,157.1 1267.8,173.8 1268.2,164.0 1268.6,132.4 1269.0,95.7 1269.4,69.9 1269.8,79.9 1270.2,112.6 1270.7,151.2 1271.1,176.0 1271.5,169.1 1271.9,140.6 1272.3,101.8 1272.7,77.7 1273.1,75.5 1273.6,103.6 1274.0,142.0 1274.4,172.7 1274.8,175.2 1275.2,150.1 1275.6,110.2 1276.1,78.7 1276.5,73.3 1276.9,97.1 1277.3,136.1 1277.7,169.5 1278.1,179.0 1278.5,156.2 1279.0,117.4 1279.4,84.6 1279.8,73.2 1280.2,89.4 1280.6,127.8 1281.0,163.2 1281.5,178.0 1281.9,160.5 1282.3,125.9 1282.7,88.3 1283.1,72.2 1283.5,85.3 1283.9,118.6 1284.4,157.5 1284.8,175.9 1285.2,168.0 1285.6,135.2 1286.0,98.1 1286.4,75.9 1286.9,78.8 1287.3,107.9 1287.7,148.2 1288.1,174.7 1288.5,176.3 1288.9,147.9 1289.3,108.5 1289.8,78.6 1290.2,71.9 1290.6,94.9 1291.0,134.7 1291.4,167.4 1291.8,177.6 1292.2,164.9 1292.7,123.5 1293.1,82.8 1293.5,65.3 1293.9,79.9 1294.3,115.3 1294.7,159.6 1295.2,188.1 1295.6,181.4 1296.0,145.4 1296.4,99.8 1296.8,63.7 1297.2,62.6 1297.6,89.7 1298.1,137.6 1298.5,177.0 1298.9,193.1 1299.3,173.6 1299.7,128.1 1300.1,81.0 1300.6,57.1 1301.0,63.9 1301.4,104.6 1301.8,154.3 1302.2,190.1 1302.6,192.6 1303.0,163.8 1303.5,113.4 1303.9,72.0 1304.3,51.6 1304.7,70.9 1305.1,115.2 1305.5,164.5 1306.0,197.2 1306.4,191.0 1306.8,155.5 1307.2,105.8 1307.6,64.3 1308.0,52.2 1308.4,76.3 1308.9,121.1 1309.3,169.3 1309.7,198.1 1310.1,187.7 1310.5,153.1" fill="none" stroke="#0000ff" stroke-width="1.8" stroke-linejoin="round" shape-rendering="crispEdges"/>
<polyline points="1309.7,198.1 1310.1,187.7 1310.5,153.1 1310.9,101.8 1311.3,62.7 1311.8,53.3 1312.2,77.6 1312.6,122.7 1313.0,168.2 1313.4,193.4 1313.8,186.5 1314.3,151.9 1314.7,102.2 1315.1,65.4 1315.5,54.5 1315.9,79.5 1316.3,121.7 1316.7,165.1 1317.2,190.2 1317.6,186.4 1318.0,153.0 1318.4,106.5 1318.8,69.1 1319.2,58.8 1319.7,79.8 1320.1,119.3 1320.5,161.0 1320.9,188.6 1321.3,181.1 1321.7,150.7 1322.1,108.6 1322.6,69.8 1323.0,56.1 1323.4,76.9 1323.8,117.2 1324.2,162.2 1324.6,192.9 1325.1,187.6 1325.5,155.2 1325.9,107.2 1326.3,68.5 1326.7,55.1 1327.1,70.6 1327.5,117.5 1328.0,163.5 1328.4,197.9 1328.8,188.4 1329.2,154.4 1329.6,104.7 1330.0,60.6 1330.4,53.0 1330.9,74.8 1331.3,122.5 1331.7,170.6 1332.1,192.3 1332.5,186.4 1332.9,147.2 1333.4,98.7 1333.8,60.9 1334.2,54.0 1334.6,84.0 1335.0,132.6 1335.4,177.8 1335.8,191.9 1336.3,177.7 1336.7,134.7 1337.1,88.0 1337.5,61.1 1337.9,65.6 1338.3,100.8 1338.8,146.3 1339.2,181.8 1339.6,182.3 1340.0,161.5 1340.4,116.9 1340.8,78.4 1341.2,66.6 1341.7,82.4 1342.1,120.6 1342.5,161.3 1342.9,182.2 1343.3,173.8 1343.7,138.7 1344.2,100.2 1344.6,74.1 1345.0,74.8 1345.4,102.4 1345.8,141.7 1346.2,172.3 1346.6,177.0 1347.1,152.9 1347.5,114.8 1347.9,78.9 1348.3,72.3 1348.7,89.1 1349.1,127.9 1349.5,161.9 1350.0,177.5 1350.4,161.7 1350.8,127.5 1351.2,93.5 1351.6,72.8 1352.0,84.4 1352.5,116.4 1352.9,154.4 1353.3,175.0 1353.7,167.4 1354.1,137.6 1354.5,99.4 1354.9,76.0 1355.4,75.7 1355.8,107.8 1356.2,147.3 1356.6,175.6 1357.0,173.7 1357.4,146.1 1357.9,106.2 1358.3,76.1 1358.7,74.0 1359.1,99.8 1359.5,139.4 1359.9,169.8 1360.3,175.3" fill="none" stroke="#0000ff" stroke-width="1.4" stroke-linejoin="round" shape-rendering="crispEdges"/>
<polyline points="1359.5,139.4 1359.9,169.8 1360.3,175.3 1360.8,152.2 1361.2,113.8 1361.6,79.2 1362.0,74.0 1362.4,94.0 1362.8,131.6 1363.2,166.3 1363.7,179.3 1364.1,159.1 1364.5,121.8 1364.9,88.4 1365.3,71.6 1365.7,86.2 1366.2,123.2 1366.6,158.9 1367.0,178.9 1367.4,166.0 1367.8,131.6 1368.2,93.2 1368.6,72.0 1369.1,80.5 1369.5,112.8 1369.9,150.7 1370.3,178.7 1370.7,173.7 1371.1,142.6 1371.6,103.1 1372.0,74.1 1372.4,73.3 1372.8,100.7 1373.2,140.0 1373.6,172.0 1374.0,178.0 1374.5,156.4 1374.9,117.0 1375.3,80.8 1375.7,68.9 1376.1,84.9 1376.5,123.2 1377.0,165.4 1377.4,185.5 1377.8,169.7 1378.2,137.0 1378.6,92.2 1379.0,60.5 1379.4,63.8 1379.9,99.1 1380.3,146.0 1380.7,182.6 1381.1,194.4 1381.5,165.0 1381.9,117.5 1382.3,71.7 1382.8,53.2 1383.2,75.0 1383.6,115.6 1384.0,165.1 1384.4,194.9 1384.8,185.9 1385.3,151.8 1385.7,101.2 1386.1,62.3 1386.5,56.5 1386.9,80.6 1387.3,128.3 1387.7,175.4 1388.2,194.9 1388.6,188.4 1389.0,142.7 1389.4,93.5 1389.8,57.8 1390.2,60.3 1390.7,86.7 1391.1,135.6 1391.5,183.6 1391.9,197.8 1392.3,181.2 1392.7,137.9 1393.1,88.6 1393.6,58.5 1394.0,55.0 1394.4,89.0 1394.8,138.2 1395.2,180.9 1395.6,193.3 1396.1,177.5 1396.5,136.4 1396.9,90.0 1397.3,58.5 1397.7,60.0 1398.1,90.9 1398.5,136.8 1399.0,178.8 1399.4,192.6 1399.8,175.3 1400.2,137.4 1400.6,93.7 1401.0,65.3 1401.4,64.6 1401.9,90.2 1402.3,133.5 1402.7,172.3 1403.1,186.0 1403.5,175.1 1403.9,140.0 1404.4,95.8 1404.8,66.1 1405.2,57.0 1405.6,87.7 1406.0,131.7 1406.4,174.5 1406.8,191.3 1407.3,180.0 1407.7,142.4 1408.1,94.8 1408.5,62.9 1408.9,54.4 1409.3,83.3 1409.8,132.2 1410.2,177.4 1410.6,200.5 1411.0,184.0 1411.4,141.6 1411.8,91.4 1412.2,58.6 1412.7,56.8 1413.1,87.3 1413.5,136.3 1413.9,175.4 1414.3,192.7 1414.7,178.9 1415.2,135.2 1415.6,87.0 1416.0,56.4 1416.4,62.0 1416.8,96.3 1417.2,144.7 1417.6,184.1 1418.1,193.4 1418.5,168.4 1418.9,123.5 1419.3,78.5 1419.7,57.6 1420.1,70.0 1420.5,109.7 1421.0,156.5 1421.4,186.6 1421.8,187.6 1422.2,154.2 1422.6,108.1 1423.0,74.1 1423.5,62.8 1423.9,87.4 1424.3,128.6 1424.7,165.5 1425.1,182.8 1425.5,171.0 1425.9,132.1 1426.4,91.4 1426.8,69.0 1427.2,77.3 1427.6,108.0 1428.0,147.9 1428.4,175.3 1428.9,178.9 1429.3,148.5 1429.7,108.9 1430.1,79.6 1430.5,70.4 1430.9,95.7 1431.3,133.0 1431.8,165.9 1432.2,175.7 1432.6,157.8 1433.0,122.8 1433.4,88.3 1433.8,73.0 1434.3,87.6 1434.7,121.2 1435.1,157.6 1435.5,176.4 1435.9,165.4 1436.3,133.4 1436.7,95.7 1437.2,72.1 1437.6,79.4 1438.0,111.4 1438.4,151.1 1438.8,174.0 1439.2,173.4 1439.6,142.2 1440.1,103.1 1440.5,75.2 1440.9,77.6 1441.3,102.5 1441.7,143.2 1442.1,170.3 1442.6,173.4 1443.0,149.1 1443.4,110.3 1443.8,78.1 1444.2,71.9 1444.6,95.7 1445.0,135.9 1445.5,167.6 1445.9,179.0 1446.3,157.5 1446.7,118.1 1447.1,83.6 1447.5,72.0 1448.0,90.5 1448.4,127.5 1448.8,164.3 1449.2,178.6 1449.6,162.0 1450.0,126.6 1450.4,90.0 1450.9,72.3 1451.3,83.8 1451.7,117.9 1452.1,155.0 1452.5,177.3 1452.9,170.8 1453.3,137.6 1453.8,98.3 1454.2,73.0 1454.6,76.0 1455.0,104.7 1455.4,144.9 1455.8,174.6 1456.3,174.5 1456.7,151.8 1457.1,110.7 1457.5,76.2 1457.9,68.5 1458.3,90.0 1458.7,130.1 1459.2,169.2 1459.6,187.1 1460.0,165.5 1460.4,129.7 1460.8,87.3 1461.2,62.2 1461.7,72.7 1462.1,108.0 1462.5,154.8 1462.9,185.6 1463.3,190.0 1463.7,155.4 1464.1,107.2 1464.6,68.5 1465.0,57.1 1465.4,80.4 1465.8,126.6 1466.2,174.9 1466.6,194.7 1467.1,179.7 1467.5,140.1 1467.9,92.3 1468.3,57.1 1468.7,58.1 1469.1,92.2 1469.5,140.7 1470.0,184.5 1470.4,197.6 1470.8,174.4 1471.2,129.2 1471.6,80.2 1472.0,54.5 1472.4,60.2 1472.9,97.2 1473.3,148.7 1473.7,190.3 1474.1,196.3 1474.5,171.5 1474.9,123.1 1475.4,76.3 1475.8,53.7 1476.2,63.8 1476.6,102.4 1477.0,152.3 1477.4,185.1 1477.8,194.9 1478.3,169.4 1478.7,121.6 1479.1,77.0 1479.5,59.1 1479.9,64.8 1480.3,103.2 1480.8,151.9 1481.2,183.9 1481.6,191.6 1482.0,166.4 1482.4,123.1 1482.8,82.7 1483.2,59.8 1483.7,68.7 1484.1,103.1 1484.5,148.4 1484.9,179.7 1485.3,187.0 1485.7,167.2 1486.2,125.4 1486.6,83.9 1487.0,61.9 1487.4,69.8 1487.8,101.7 1488.2,145.5 1488.6,180.5 1489.1,190.9 1489.5,169.0 1489.9,127.2 1490.3,83.4 1490.7,57.8 1491.1,63.1 1491.5,99.1 1492.0,146.6 1492.4,185.6 1492.8,193.8 1493.2,171.1 1493.6,126.7 1494.0,79.3 1494.5,53.3 1494.9,62.5 1495.3,98.5 1495.7,149.7 1496.1,184.5 1496.5,196.5 1496.9,168.0 1497.4,121.7 1497.8,76.0 1498.2,51.0 1498.6,65.3 1499.0,107.1 1499.4,157.6 1499.9,195.3 1500.3,190.7 1500.7,161.6 1501.1,111.6 1501.5,68.9 1501.9,58.0 1502.3,77.2 1502.8,119.7 1503.2,165.7 1503.6,188.9 1504.0,184.3 1504.4,145.4 1504.8,98.2 1505.3,68.6 1505.7,65.0 1506.1,91.6 1506.5,136.3 1506.9,171.6 1507.3,183.4 1507.7,166.0 1508.2,124.7 1508.6,84.9 1509.0,67.0 1509.4,79.3 1509.8,114.4 1510.2,157.8 1510.6,179.3 1511.1,175.8 1511.5,143.1 1511.9,102.1 1512.3,74.6 1512.7,73.0 1513.1,99.6 1513.6,138.4 1514.0,169.6 1514.4,175.6 1514.8,154.5 1515.2,117.3 1515.6,83.3 1516.0,71.0 1516.5,89.1 1516.9,125.7 1517.3,161.4 1517.7,175.6 1518.1,162.9 1518.5,129.1 1519.0,91.7 1519.4,72.6 1519.8,82.2 1520.2,115.7 1520.6,154.0 1521.0,178.1 1521.4,172.7 1521.9,138.8 1522.3,99.3 1522.7,73.6 1523.1,76.1 1523.5,106.7 1523.9,147.6 1524.4,176.0 1524.8,174.5 1525.2,145.9 1525.6,107.1 1526.0,75.2 1526.4,73.2 1526.8,100.5 1527.3,139.6 1527.7,170.5 1528.1,176.0 1528.5,154.7 1528.9,113.9 1529.3,77.2 1529.7,72.0 1530.2,93.4 1530.6,131.7 1531.0,169.8 1531.4,178.2 1531.8,160.9 1532.2,122.5 1532.7,85.0 1533.1,72.8 1533.5,85.7 1533.9,122.0 1534.3,160.0 1534.7,180.0 1535.1,167.4 1535.6,132.8 1536.0,93.4 1536.4,69.6 1536.8,78.1 1537.2,110.4 1537.6,149.7 1538.1,174.0 1538.5,174.8 1538.9,145.6 1539.3,105.3 1539.7,74.0 1540.1,70.0 1540.5,96.7 1541.0,136.9 1541.4,172.6 1541.8,182.6 1542.2,160.3 1542.6,121.9 1543.0,81.5 1543.4,61.6 1543.9,77.3 1544.3,116.8 1544.7,162.2 1545.1,187.1 1545.5,180.7 1545.9,146.4 1546.4,98.3 1546.8,64.1 1547.2,60.9 1547.6,89.6 1548.0,137.5 1548.4,179.4 1548.8,195.4 1549.3,171.3 1549.7,128.9 1550.1,81.9 1550.5,56.3 1550.9,67.4 1551.3,102.9 1551.8,153.9 1552.2,189.6 1552.6,192.8 1553.0,164.0 1553.4,116.3 1553.8,70.8 1554.2,54.0 1554.7,69.2 1555.1,111.8 1555.5,163.1 1555.9,195.5 1556.3,189.6 1556.7,158.3 1557.2,108.1 1557.6,68.6 1558.0,49.6 1558.4,72.5 1558.8,116.9 1559.2,164.6 1559.6,191.2 1560.1,187.7 1560.5,156.6 1560.9,107.1 1561.3,69.3 1561.7,52.9 1562.1,77.1 1562.5,118.1 1563.0,164.5 1563.4,192.1 1563.8,188.6 1564.2,154.8 1564.6,109.5 1565.0,69.4 1565.5,57.4 1565.9,76.2 1566.3,116.6 1566.7,161.4 1567.1,187.7 1567.5,187.5 1567.9,156.8 1568.4,111.4 1568.8,75.5 1569.2,64.3 1569.6,77.0 1570.0,115.5 1570.4,159.1 1570.9,187.4 1571.3,184.8 1571.7,158.0 1572.1,113.2 1572.5,74.8 1572.9,55.3 1573.3,73.8 1573.8,112.6 1574.2,159.6 1574.6,194.3 1575.0,192.5 1575.4,162.4 1575.8,111.5 1576.3,69.4 1576.7,54.0 1577.1,73.0 1577.5,113.5 1577.9,159.6 1578.3,192.1 1578.7,186.9 1579.2,157.2 1579.6,107.8 1580.0,68.2 1580.4,54.4 1580.8,75.0 1581.2,119.7 1581.6,165.5 1582.1,194.4 1582.5,186.8 1582.9,148.8 1583.3,100.8 1583.7,60.6 1584.1,54.8 1584.6,83.0 1585.0,130.9 1585.4,174.0 1585.8,189.8 1586.2,173.8 1586.6,135.0 1587.0,90.1 1587.5,64.7 1587.9,69.3 1588.3,100.5 1588.7,145.5 1589.1,177.4 1589.5,188.8 1590.0,157.6 1590.4,116.6 1590.8,80.3 1591.2,64.3 1591.6,82.9 1592.0,121.5 1592.4,160.9 1592.9,179.4 1593.3,173.2 1593.7,137.3 1594.1,97.3 1594.5,72.1 1594.9,75.9 1595.4,104.1 1595.8,145.4 1596.2,175.9 1596.6,177.0 1597.0,152.1 1597.4,112.1 1597.8,81.1 1598.3,70.0 1598.7,92.7 1599.1,130.3 1599.5,165.5 1599.9,175.6 1600.3,161.1 1600.7,124.6 1601.2,88.8 1601.6,71.8 1602.0,83.4 1602.4,120.0 1602.8,155.6 1603.2,176.9 1603.7,167.3 1604.1,134.9 1604.5,94.7 1604.9,72.2 1605.3,79.4 1605.7,111.7 1606.1,149.4 1606.6,175.1 1607.0,172.6 1607.4,142.3 1607.8,102.5 1608.2,74.0 1608.6,76.4 1609.1,103.6 1609.5,142.8 1609.9,174.8 1610.3,172.6 1610.7,150.3 1611.1,109.5 1611.5,81.0 1612.0,73.2 1612.4,95.1 1612.8,135.4 1613.2,168.5 1613.6,178.0 1614.0,158.4 1614.5,117.9 1614.9,83.6 1615.3,72.9 1615.7,90.3 1616.1,126.7 1616.5,161.2 1616.9,178.3 1617.4,165.4 1617.8,128.0 1618.2,90.0 1618.6,70.6 1619.0,80.0 1619.4,115.9 1619.8,155.2 1620.3,178.1 1620.7,172.4 1621.1,139.8 1621.5,99.8 1621.9,74.4 1622.3,74.0 1622.8,102.5 1623.2,143.6 1623.6,174.6 1624.0,184.0 1624.4,155.9 1624.8,114.9 1625.2,75.4 1625.7,65.1 1626.1,82.7 1626.5,124.5 1626.9,166.5 1627.3,185.5 1627.7,174.9 1628.2,137.4 1628.6,91.0 1629.0,59.7 1629.4,65.3 1629.8,99.0 1630.2,145.9 1630.6,183.9 1631.1,191.1 1631.5,165.3 1631.9,118.0 1632.3,74.6 1632.7,55.4 1633.1,69.5 1633.6,114.4 1634.0,162.3 1634.4,194.9 1634.8,191.7 1635.2,153.3 1635.6,103.8 1636.0,67.2 1636.5,57.1 1636.9,78.4 1637.3,125.7 1637.7,175.4 1638.1,198.6 1638.5,185.2 1638.9,146.0 1639.4,96.4 1639.8,59.0 1640.2,56.8 1640.6,83.3 1641.0,132.0 1641.4,179.8 1641.9,197.0 1642.3,183.2 1642.7,140.7" fill="none" stroke="#0000ff" stroke-width="1.0" stroke-linejoin="round" shape-rendering="crispEdges"/>
<polyline points="1641.9,197.0 1642.3,183.2 1642.7,140.7 1643.1,93.6 1643.5,56.6 1643.9,54.7 1644.3,85.1 1644.8,133.1 1645.2,178.2 1645.6,193.8 1646.0,180.3 1646.4,142.4 1646.8,95.0 1647.3,61.0 1647.7,59.6 1648.1,84.8 1648.5,131.3 1648.9,171.9 1649.3,190.3 1649.7,180.1 1650.2,141.5 1650.6,99.0 1651.0,67.0 1651.4,63.5 1651.8,86.7 1652.2,128.6 1652.6,166.7 1653.1,187.8 1653.5,178.9 1653.9,144.4 1654.3,99.7 1654.7,69.6 1655.1,59.9 1655.6,83.6 1656.0,127.3 1656.4,171.4 1656.8,192.7 1657.2,186.0 1657.6,146.3 1658.0,96.8 1658.5,63.2 1658.9,58.8 1659.3,81.4 1659.7,128.5 1660.1,174.1 1660.5,196.9 1661.0,185.8 1661.4,144.5 1661.8,94.6 1662.2,59.2 1662.6,51.0 1663.0,83.1 1663.4,133.1 1663.9,178.4 1664.3,197.3 1664.7,178.4 1665.1,137.9 1665.5,89.4 1665.9,56.1 1666.4,59.4 1666.8,92.7 1667.2,143.5 1667.6,183.8 1668.0,192.4 1668.4,169.6 1668.8,124.7 1669.3,80.9 1669.7,59.7 1670.1,71.1 1670.5,109.6 1670.9,155.3 1671.3,183.4 1671.7,183.0 1672.2,152.2 1672.6,108.8 1673.0,71.2 1673.4,62.8 1673.8,88.1 1674.2,129.3 1674.7,168.0 1675.1,181.0 1675.5,169.5 1675.9,130.4 1676.3,91.1 1676.7,68.1 1677.1,78.6 1677.6,109.1 1678.0,149.9 1678.4,178.9 1678.8,175.2 1679.2,147.4 1679.6,106.8 1680.1,73.2 1680.5,71.9 1680.9,95.8 1681.3,136.0 1681.7,168.8 1682.1,176.9 1682.5,157.8 1683.0,119.7 1683.4,83.8 1683.8,70.9 1684.2,87.9 1684.6,124.2 1685.0,160.0 1685.5,177.9 1685.9,162.9 1686.3,130.1 1686.7,92.1 1687.1,74.1 1687.5,82.6 1687.9,114.5 1688.4,154.5 1688.8,178.8 1689.2,172.5 1689.6,139.1 1690.0,98.2 1690.4,72.8 1690.8,74.6 1691.3,107.6 1691.7,147.1 1692.1,176.7 1692.5,176.1 1692.9,146.6 1693.3,106.1 1693.8,74.5 1694.2,73.3 1694.6,100.1 1695.0,140.3 1695.4,171.5 1695.8,178.1 1696.2,152.6 1696.7,114.6" fill="none" stroke="#0000ff" stroke-width="1.4" stroke-linejoin="round" shape-rendering="crispEdges"/>
<polyline points="1695.8,178.1 1696.2,152.6 1696.7,114.6 1697.1,79.1 1697.5,67.9 1697.9,93.9 1698.3,131.1 1698.7,167.9 1699.2,180.0 1699.6,161.8 1700.0,123.4 1700.4,86.8 1700.8,67.7 1701.2,82.5 1701.6,120.4 1702.1,157.2 1702.5,182.5 1702.9,169.8 1703.3,135.5 1703.7,93.4 1704.1,68.7 1704.6,75.9 1705.0,106.6 1705.4,148.5 1705.8,175.6 1706.2,178.0 1706.6,149.0 1707.0,109.2 1707.5,73.9 1707.9,63.8 1708.3,90.6 1708.7,132.4 1709.1,172.1 1709.5,190.9 1709.9,169.8 1710.4,128.8 1710.8,84.5 1711.2,61.9 1711.6,70.0 1712.0,108.9 1712.4,155.4 1712.9,186.9 1713.3,189.1 1713.7,155.9 1714.1,108.8 1714.5,71.4 1714.9,56.9 1715.3,80.8 1715.8,125.7 1716.2,170.6 1716.6,195.9 1717.0,182.7 1717.4,142.7 1717.8,92.1 1718.3,57.9 1718.7,59.1 1719.1,88.7 1719.5,139.0 1719.9,181.6 1720.3,198.8 1720.7,175.8 1721.2,132.0 1721.6,82.4 1722.0,54.4 1722.4,56.1 1722.8,94.9 1723.2,145.6 1723.7,184.3 1724.1,196.7 1724.5,172.2 1724.9,127.1 1725.3,81.7 1725.7,52.9 1726.1,61.7 1726.6,98.7 1727.0,148.2 1727.4,181.0 1727.8,194.4 1728.2,170.7 1728.6,126.4 1729.0,80.6 1729.5,55.6 1729.9,61.5 1730.3,100.6 1730.7,145.4 1731.1,184.6 1731.5,194.8 1732.0,169.0 1732.4,128.0 1732.8,83.9 1733.2,63.5 1733.6,67.6 1734.0,98.6 1734.4,142.5 1734.9,180.2 1735.3,188.6 1735.7,169.8 1736.1,129.9 1736.5,89.4 1736.9,63.6 1737.4,62.9 1737.8,94.8 1738.2,141.0 1738.6,179.2 1739.0,187.5 1739.4,176.0 1739.8,131.6 1740.3,84.3 1740.7,54.0 1741.1,62.1 1741.5,94.3 1741.9,143.3 1742.3,187.2 1742.7,196.8 1743.2,174.9 1743.6,130.7 1744.0,80.6 1744.4,56.5 1744.8,61.4 1745.2,95.4 1745.7,146.6 1746.1,184.4 1746.5,195.8 1746.9,172.1 1747.3,124.6 1747.7,77.6 1748.1,54.4 1748.6,68.0 1749.0,104.5 1749.4,154.7 1749.8,189.4 1750.2,192.0 1750.6,161.9 1751.1,113.1 1751.5,72.2 1751.9,59.4 1752.3,74.8 1752.7,119.2 1753.1,163.7 1753.5,189.2 1754.0,179.8 1754.4,144.4 1754.8,100.3 1755.2,64.1 1755.6,67.0 1756.0,92.1 1756.5,137.0 1756.9,173.1 1757.3,184.0 1757.7,165.2 1758.1,123.7 1758.5,85.2 1758.9,69.5 1759.4,78.6 1759.8,116.0 1760.2,156.8 1760.6,179.5 1761.0,173.0 1761.4,142.1 1761.8,100.7 1762.3,71.4 1762.7,72.9 1763.1,101.9 1763.5,141.6 1763.9,172.4 1764.3,177.0 1764.8,151.2 1765.2,115.1 1765.6,81.3 1766.0,72.7 1766.4,90.7 1766.8,128.9 1767.2,164.6 1767.7,177.0 1768.1,163.2 1768.5,125.9 1768.9,88.6 1769.3,74.0 1769.7,84.9 1770.2,118.7 1770.6,157.5 1771.0,175.4 1771.4,168.8 1771.8,135.0 1772.2,94.6 1772.6,71.1 1773.1,77.5 1773.5,110.8 1773.9,149.6 1774.3,175.9 1774.7,175.6 1775.1,142.1 1775.6,101.5 1776.0,76.1 1776.4,76.1 1776.8,102.7 1777.2,143.3 1777.6,173.9 1778.0,175.2 1778.5,150.7 1778.9,109.2 1779.3,79.2 1779.7,70.2 1780.1,94.7 1780.5,135.8 1780.9,167.0 1781.4,181.0 1781.8,157.3 1782.2,118.8 1782.6,82.8 1783.0,70.9 1783.4,87.8 1783.9,125.4 1784.3,163.8 1784.7,181.8 1785.1,166.5 1785.5,130.3 1785.9,90.3 1786.3,67.5 1786.8,80.3 1787.2,112.6 1787.6,153.4 1788.0,179.0 1788.4,175.5 1788.8,144.7 1789.3,102.6 1789.7,71.2 1790.1,69.6 1790.5,96.2 1790.9,138.9 1791.3,177.2 1791.7,187.1 1792.2,165.1 1792.6,120.4 1793.0,78.7 1793.4,57.7 1793.8,75.5 1794.2,117.4 1794.7,162.9 1795.1,189.3 1795.5,182.0 1795.9,146.1 1796.3,98.8 1796.7,63.7 1797.1,59.9 1797.6,89.5 1798.0,136.6 1798.4,178.0 1798.8,196.3 1799.2,176.7 1799.6,130.1 1800.0,82.7 1800.5,54.0 1800.9,62.9 1801.3,99.3 1801.7,148.8 1802.1,183.9 1802.5,192.5 1803.0,167.7 1803.4,118.4 1803.8,73.5 1804.2,52.0 1804.6,66.9 1805.0,108.7 1805.4,161.4 1805.9,188.3 1806.3,198.4 1806.7,163.0 1807.1,112.7 1807.5,68.6 1807.9,52.8 1808.4,69.3 1808.8,112.9 1809.2,162.0 1809.6,189.9 1810.0,192.2 1810.4,158.4 1810.8,111.6 1811.3,69.1 1811.7,55.8 1812.1,71.5 1812.5,113.3 1812.9,159.9 1813.3,187.3 1813.8,190.2 1814.2,159.0 1814.6,112.5 1815.0,75.2 1815.4,56.0 1815.8,74.1 1816.2,112.3 1816.7,157.6 1817.1,184.5 1817.5,187.0 1817.9,158.5 1818.3,116.5 1818.7,79.0 1819.1,62.5 1819.6,74.2 1820.0,109.4 1820.4,154.6 1820.8,182.1 1821.2,192.2 1821.6,162.4 1822.1,117.1 1822.5,72.8 1822.9,57.2 1823.3,67.6 1823.7,108.0 1824.1,156.1 1824.5,190.3 1825.0,194.8 1825.4,166.6 1825.8,115.7 1826.2,70.6 1826.6,49.1 1827.0,71.1 1827.5,109.8 1827.9,159.8 1828.3,193.0 1828.7,195.7 1829.1,160.8 1829.5,110.7 1829.9,69.0 1830.4,51.8 1830.8,72.4 1831.2,117.2 1831.6,165.9 1832.0,194.6 1832.4,186.1 1832.8,152.1 1833.3,102.0 1833.7,63.7 1834.1,62.2 1834.5,83.3 1834.9,129.5 1835.3,174.1 1835.8,189.5 1836.2,175.2 1836.6,135.4 1837.0,91.9 1837.4,63.7 1837.8,70.4 1838.2,100.5 1838.7,147.0 1839.1,182.6 1839.5,187.9 1839.9,158.9 1840.3,116.1 1840.7,77.3 1841.2,62.4 1841.6,84.6 1842.0,122.7 1842.4,162.4 1842.8,177.5 1843.2,171.4 1843.6,136.6 1844.1,94.3 1844.5,68.4 1844.9,74.0 1845.3,106.8 1845.7,145.4 1846.1,174.2 1846.6,176.4 1847.0,149.2 1847.4,110.0 1847.8,76.6 1848.2,69.3 1848.6,96.1 1849.0,133.4 1849.5,167.9 1849.9,178.4 1850.3,157.2 1850.7,121.0 1851.1,83.9 1851.5,69.7 1851.9,88.2 1852.4,123.1 1852.8,160.1 1853.2,180.2 1853.6,167.3 1854.0,131.0 1854.4,91.0 1854.9,71.4 1855.3,79.5 1855.7,115.0 1856.1,155.3 1856.5,178.1 1856.9,175.8 1857.3,139.3 1857.8,100.1 1858.2,69.5 1858.6,76.3 1859.0,106.9 1859.4,147.7 1859.8,178.4 1860.3,179.2 1860.7,146.9 1861.1,105.4 1861.5,74.2 1861.9,72.7 1862.3,98.8 1862.7,139.8 1863.2,172.9 1863.6,181.0 1864.0,153.4 1864.4,114.0 1864.8,78.4 1865.2,66.8 1865.7,90.5 1866.1,130.2 1866.5,167.6 1866.9,180.2 1867.3,163.1 1867.7,125.0 1868.1,86.8 1868.6,69.9 1869.0,82.0 1869.4,118.2 1869.8,157.7 1870.2,178.4 1870.6,174.0 1871.0,138.8 1871.5,97.2 1871.9,72.3 1872.3,71.2 1872.7,102.7 1873.1,145.5 1873.5,178.6 1874.0,183.1 1874.4,157.9 1874.8,113.0 1875.2,74.9 1875.6,60.9 1876.0,82.1 1876.4,125.6 1876.9,169.1 1877.3,191.2 1877.7,177.8 1878.1,136.7 1878.5,90.4 1878.9,61.2 1879.4,61.2 1879.8,98.1 1880.2,146.4 1880.6,183.4 1881.0,194.6 1881.4,165.3 1881.8,119.1 1882.3,72.7 1882.7,53.4 1883.1,68.4 1883.5,112.3 1883.9,162.4 1884.3,193.7 1884.8,190.6 1885.2,155.0 1885.6,106.9 1886.0,68.2 1886.4,51.9 1886.8,74.6 1887.2,122.7 1887.7,169.8 1888.1,198.3 1888.5,188.3 1888.9,149.1 1889.3,98.8 1889.7,63.0 1890.1,55.8 1890.6,79.7 1891.0,127.8 1891.4,175.9 1891.8,195.4 1892.2,185.6 1892.6,145.6 1893.1,96.9 1893.5,61.0 1893.9,54.2 1894.3,83.9 1894.7,128.5 1895.1,172.0 1895.5,191.6 1896.0,187.1 1896.4,145.0 1896.8,98.7 1897.2,65.8 1897.6,56.1 1898.0,86.4 1898.5,126.5 1898.9,166.3 1899.3,192.6 1899.7,184.2 1900.1,146.8 1900.5,103.0 1900.9,67.7 1901.4,58.6 1901.8,84.0 1902.2,124.1 1902.6,166.9 1903.0,185.6 1903.4,181.4 1903.9,148.6 1904.3,103.4 1904.7,65.4 1905.1,57.7 1905.5,80.6 1905.9,122.8 1906.3,168.0 1906.8,195.1 1907.2,189.5 1907.6,151.7 1908.0,102.4 1908.4,60.7 1908.8,53.7 1909.2,75.1 1909.7,124.2 1910.1,171.1 1910.5,195.2 1910.9,189.0 1911.3,148.1 1911.7,95.9 1912.2,58.7 1912.6,57.1 1913.0,82.2 1913.4,130.3 1913.8,176.5 1914.2,197.1 1914.6,182.0 1915.1,139.0 1915.5,92.2 1915.9,56.9 1916.3,60.4 1916.7,92.1 1917.1,141.4 1917.6,177.8 1918.0,188.4 1918.4,170.6 1918.8,125.5 1919.2,82.2 1919.6,58.1 1920.0,72.2 1920.5,109.6 1920.9,154.4 1921.3,182.9 1921.7,187.8 1922.1,153.1 1922.5,107.5 1922.9,69.8 1923.4,65.8 1923.8,88.7 1924.2,130.0 1924.6,168.5 1925.0,182.4 1925.4,168.2 1925.9,129.4 1926.3,88.6 1926.7,66.8 1927.1,76.2 1927.5,111.2 1927.9,152.9 1928.3,177.7 1928.8,172.8 1929.2,145.6 1929.6,104.9 1930.0,73.6 1930.4,72.0 1930.8,98.3 1931.3,138.8 1931.7,172.1 1932.1,177.0 1932.5,156.5 1932.9,116.3 1933.3,80.3 1933.7,68.1 1934.2,89.1 1934.6,127.6 1935.0,167.2 1935.4,180.9 1935.8,164.8 1936.2,126.8 1936.7,88.8 1937.1,69.6 1937.5,81.2 1937.9,118.3 1938.3,159.9 1938.7,180.6 1939.1,171.7 1939.6,135.2 1940.0,94.4 1940.4,70.3 1940.8,75.9 1941.2,109.8 1941.6,151.7 1942.0,179.3 1942.5,178.2 1942.9,143.5 1943.3,101.9 1943.7,70.4 1944.1,70.2 1944.5,101.8 1945.0,144.7 1945.4,172.5 1945.8,179.5 1946.2,151.5 1946.6,108.6 1947.0,75.6 1947.4,66.3 1947.9,93.7 1948.3,135.0 1948.7,170.2 1949.1,179.4 1949.5,159.9 1949.9,119.8 1950.4,83.9 1950.8,67.3 1951.2,83.0 1951.6,123.4 1952.0,163.8 1952.4,182.7 1952.8,170.5 1953.3,132.6 1953.7,90.3 1954.1,67.7 1954.5,72.5 1954.9,107.8 1955.3,153.1 1955.8,185.6 1956.2,182.1 1956.6,150.9 1957.0,105.2 1957.4,65.1 1957.8,60.9 1958.2,86.2 1958.7,134.2 1959.1,178.5 1959.5,190.4 1959.9,171.4 1960.3,128.1 1960.7,80.7 1961.1,57.7 1961.6,61.7 1962.0,107.3 1962.4,156.6 1962.8,189.4 1963.2,196.9 1963.6,159.1 1964.1,106.6 1964.5,61.4 1964.9,50.5 1965.3,74.1 1965.7,124.5 1966.1,174.5 1966.5,201.2 1967.0,188.2 1967.4,145.0 1967.8,90.6 1968.2,53.6 1968.6,51.3 1969.0,86.8 1969.5,136.6 1969.9,182.4 1970.3,201.9 1970.7,183.7 1971.1,136.0 1971.5,83.4 1971.9,49.9 1972.4,52.8 1972.8,89.5 1973.2,142.2 1973.6,188.8 1974.0,205.4 1974.4,180.8 1974.9,131.6 1975.3,82.6 1975.7,52.0 1976.1,53.9 1976.5,92.9 1976.9,143.0 1977.3,179.8 1977.8,199.1 1978.2,180.8 1978.6,131.1 1979.0,83.8 1979.4,54.2 1979.8,57.7 1980.2,92.4 1980.7,141.3 1981.1,182.5 1981.5,194.1 1981.9,177.2 1982.3,133.2 1982.7,85.9 1983.2,61.5 1983.6,63.8 1984.0,93.8 1984.4,138.5 1984.8,176.0 1985.2,189.5 1985.6,174.9 1986.1,134.8 1986.5,88.0 1986.9,59.5 1987.3,61.1 1987.7,89.5 1988.1,137.3 1988.6,181.5 1989.0,197.5 1989.4,184.2 1989.8,137.4 1990.2,87.3 1990.6,50.9 1991.0,52.5 1991.5,86.2 1991.9,138.3 1992.3,184.3 1992.7,200.9 1993.1,184.2 1993.5,134.7 1994.0,82.8 1994.4,51.9 1994.8,57.8 1995.2,92.4 1995.6,144.7 1996.0,186.9 1996.4,199.5 1996.9,175.9 1997.3,127.3 1997.7,77.1 1998.1,51.2 1998.5,63.5 1998.9,101.9 1999.3,154.1 1999.8,195.0 2000.2,193.3 2000.6,166.2 2001.0,114.4 2001.4,67.7 2001.8,58.6 2002.3,74.2 2002.7,118.8 2003.1,163.5 2003.5,189.9" fill="none" stroke="#0000ff" stroke-width="1.8" stroke-linejoin="round" shape-rendering="crispEdges"/>
<text x="222.8" y="66" font-size="46.3" letter-spacing="0.9" text-anchor="middle"  >1</text>
<text x="202.7" y="114.4" font-size="46.3" letter-spacing="0.9" text-anchor="middle"  >0.5</text>
<text x="217.8" y="166" font-size="46.3" letter-spacing="0.9" text-anchor="middle"  >0</text>
<text x="189.2" y="212" font-size="46.3" letter-spacing="0.9" text-anchor="middle"  >−0.5</text>
<text x="237.5" y="245.6" font-size="46.3" letter-spacing="0.9" text-anchor="middle"  >0</text>
<text x="400.9" y="244.9" font-size="46.3" letter-spacing="0.9" text-anchor="middle"  >400</text>
<text x="566.2" y="244.9" font-size="46.3" letter-spacing="0.9" text-anchor="middle"  >800</text>
<text x="734.9" y="245" font-size="46.3" letter-spacing="0.9" text-anchor="middle"  >1200</text>
<text x="899" y="240.3" font-size="46.3" letter-spacing="0.9" text-anchor="middle"  >1600</text>
<text x="1058.3" y="240.8" font-size="46.3" letter-spacing="0.9" text-anchor="middle"  >2000</text>
<text x="104" y="137.7" font-size="70" font-style="italic">c</text>
<text x="130.2" y="153.8" font-size="42">1</text>
<text x="1136.5" y="71" font-size="46.3" letter-spacing="0.9" text-anchor="middle"  >0.1</text>
<text x="1156.5" y="138" font-size="46.3" letter-spacing="0.9" text-anchor="middle"  >0</text>
<text x="1129" y="207" font-size="46.3" letter-spacing="0.9" text-anchor="middle"  >−0.1</text>
<text x="1179.7" y="250.5" font-size="46.3" letter-spacing="0.9" text-anchor="middle"  >0</text>
<text x="1342.1" y="250.3" font-size="46.3" letter-spacing="0.9" text-anchor="middle"  >400</text>
<text x="1506.6" y="250.3" font-size="46.3" letter-spacing="0.9" text-anchor="middle"  >800</text>
<text x="1675.9" y="250.3" font-size="46.3" letter-spacing="0.9" text-anchor="middle"  >1200</text>
<text x="1840.5" y="247" font-size="46.3" letter-spacing="0.9" text-anchor="middle"  >1600</text>
<text x="1998.9" y="248" font-size="46.3" letter-spacing="0.9" text-anchor="middle"  >2000</text>
<text x="2018" y="148.3" font-size="70" font-style="italic">c</text>
<text x="2049.5" y="164.5" font-size="42">2</text>
<rect x="235.0" y="262.6" width="830.0" height="155.2" fill="none" stroke="#000" stroke-width="1.8"/>
<path d="M318.0 262.6v8.0M318.0 417.8v-8.0M401.0 262.6v8.0M401.0 417.8v-8.0M484.0 262.6v8.0M484.0 417.8v-8.0M567.0 262.6v8.0M567.0 417.8v-8.0M650.0 262.6v8.0M650.0 417.8v-8.0M733.0 262.6v8.0M733.0 417.8v-8.0M816.0 262.6v8.0M816.0 417.8v-8.0M899.0 262.6v8.0M899.0 417.8v-8.0M982.0 262.6v8.0M982.0 417.8v-8.0M235.0 340.2h8.0M1065.0 340.2h-8.0" stroke="#000" stroke-width="1.7" fill="none"/>
<polyline points="236.9,291.1 237.3,308.1 237.7,324.0 238.1,338.4 238.5,351.3 238.9,362.4 239.3,371.6 239.7,378.6 240.1,383.3 240.5,385.5 240.9,384.9 241.3,381.2 241.7,375.0 242.1,366.7 242.5,357.0 242.9,346.4 243.3,335.4 243.7,324.7 244.1,314.9 244.5,306.4 244.9,299.9 245.3,295.8 245.7,294.8 246.1,295.8 246.5,298.1 246.9,301.5 247.3,305.9 247.7,311.0 248.1,316.8 248.5,323.1 248.9,329.8 249.3,336.6 249.7,343.4 250.1,350.1 250.5,356.5 250.9,362.4 251.3,367.7 251.7,372.3 252.1,375.9 252.5,378.5 252.9,379.8 253.3,379.8 253.7,378.6 254.1,376.5 254.5,373.5 254.9,369.7 255.3,365.2 255.7,360.3 256.1,355.0 256.5,349.3 256.9,343.5 257.3,337.7 257.7,331.9 258.1,326.3 258.5,321.0 258.9,316.2 259.3,311.8 259.7,308.2 260.1,305.3 260.5,303.3 260.9,302.3 261.3,302.5 261.7,303.8 262.1,306.2 262.5,309.5 262.9,313.5 263.3,318.2 263.7,323.3 264.1,328.8 264.5,334.6 264.9,340.5 265.3,346.3 265.7,351.9 266.1,357.2 266.5,362.1 266.9,366.4 267.3,370.0 267.7,372.8 268.1,374.6 268.5,375.2 268.9,374.6 269.3,372.7 269.7,369.8 270.1,365.9 270.5,361.2 270.9,356.0 271.3,350.2 271.7,344.2 272.1,338.1 272.5,332.0 272.9,326.2 273.3,320.7 273.7,315.7 274.1,311.4 274.5,307.9 274.9,305.4 275.3,304.2 275.7,304.1 276.1,305.1 276.5,306.9 276.9,309.5 277.3,312.8 277.7,316.6 278.1,320.8 278.5,325.5 278.9,330.4 279.3,335.4 279.7,340.6 280.2,345.7 280.6,350.7 281.0,355.5 281.4,359.9 281.8,364.0 282.2,367.5 282.6,370.4 283.0,372.6 283.4,374.0 283.8,374.5 284.2,373.4 284.6,370.4 285.0,365.9 285.4,360.0 285.8,353.2 286.2,345.8 286.6,338.1 287.0,330.5 287.4,323.2 287.8,316.7 288.2,311.2 288.6,307.0 289.0,304.5 289.4,304.1 289.8,305.3 290.2,307.9 290.6,311.6 291.0,316.3 291.4,321.8 291.8,327.7 292.2,333.9 292.6,340.3 293.0,346.5 293.4,352.5 293.8,357.9 294.2,362.5 294.6,366.2 295.0,368.8 295.4,369.9 295.8,369.1 296.2,365.2 296.6,359.0 297.0,351.4 297.4,343.0 297.8,334.7 298.2,327.2 298.6,321.3 299.0,317.8 299.4,317.5 299.8,320.3 300.2,325.4 300.6,331.9 301.0,339.1 301.4,345.9 301.8,351.5 302.2,355.0 302.6,355.7 303.0,353.6 303.4,349.6 303.8,344.4 304.2,338.7 304.6,333.2 305.0,328.5 305.4,325.5 305.8,324.7 306.2,326.1 306.6,329.1 307.0,333.3 307.4,338.2 307.8,343.4 308.2,348.5 308.6,353.1 309.0,356.7 309.4,359.0 309.8,359.5 310.2,358.3 310.6,355.8 311.0,352.1 311.4,347.6 311.8,342.4 312.2,336.7 312.6,330.9 313.0,325.1 313.4,319.5 313.8,314.4 314.2,310.1 314.6,306.6 315.0,304.4 315.4,303.5 315.8,305.3 316.2,310.5 316.6,318.5 317.0,328.3 317.4,339.2 317.8,350.3 318.2,360.9 318.6,370.2 319.0,377.4 319.4,381.6 319.8,382.4 320.2,381.3 320.6,379.0 321.0,375.8 321.4,371.7 321.8,366.8 322.2,361.4 322.6,355.5 323.0,349.3 323.4,342.9 323.8,336.5 324.2,330.2 324.6,324.1 325.0,318.4 325.4,313.2 325.8,308.6 326.2,304.9 326.6,302.1 327.0,300.3 327.4,299.8 327.8,300.4 328.2,302.0 328.6,304.4 329.0,307.5 329.4,311.3 329.8,315.5 330.2,320.1 330.6,324.9 331.0,329.9 331.4,334.8 331.8,339.7 332.2,344.2 332.6,348.4 333.0,352.1 333.4,355.2 333.8,357.5 334.2,359.0 334.6,359.5 335.0,357.4 335.4,352.2 335.8,345.1 336.2,337.6 336.6,330.8 337.0,326.1 337.4,324.7 337.8,325.8 338.2,328.1 338.6,331.4 339.0,335.2 339.4,339.2 339.8,343.0 340.2,346.2 340.6,348.5 341.0,349.6 341.4,348.8 341.8,346.2 342.2,342.2 342.6,337.5 343.0,332.4 343.4,327.7 343.8,323.7 344.2,321.0 344.6,320.2 345.0,321.6 345.4,324.7 345.8,329.3 346.2,335.0 346.6,341.2 347.0,347.6 347.4,353.8 347.8,359.4 348.2,363.9 348.6,367.0 349.0,368.3 349.4,367.8 349.8,366.2 350.2,363.7 350.6,360.4 351.0,356.5 351.4,351.9 351.8,347.0 352.2,341.7 352.6,336.3 353.0,330.8 353.4,325.3 353.8,320.1 354.2,315.2 354.6,310.8 355.0,306.9 355.4,303.8 355.8,301.5 356.2,300.1 356.6,299.8 357.0,301.2 357.4,304.2 357.8,308.6 358.2,314.2 358.6,320.6 359.0,327.6 359.4,335.0 359.8,342.6 360.2,350.0 360.6,357.1 361.0,363.5 361.4,369.1 361.8,373.6 362.2,376.7 362.6,378.1 363.0,378.0 363.4,376.8 363.8,374.7 364.2,371.8 364.6,368.3 365.0,364.2 365.4,359.6 365.8,354.6 366.2,349.4 366.6,344.0 367.0,338.5 367.4,333.1 367.8,327.9 368.2,322.9 368.6,318.2 369.0,314.0 369.4,310.4 369.8,307.4 370.2,305.2 370.6,303.9 371.0,303.5 371.4,304.4 371.8,306.3 372.2,309.3 372.6,313.2 373.0,317.7 373.4,322.8 373.8,328.4 374.2,334.2 374.6,340.2 375.0,346.1 375.4,351.8 375.8,357.3 376.2,362.3 376.6,366.7 377.0,370.3 377.4,373.0 377.8,374.7 378.2,375.2 378.6,373.3 379.0,368.8 379.4,362.2 379.8,354.1 380.2,345.2 380.6,335.9 381.0,327.0 381.4,318.9 381.8,312.4 382.2,307.9 382.6,306.0 383.0,306.4 383.4,307.6 383.8,309.6 384.2,312.3 384.6,315.6 385.0,319.3 385.4,323.3 385.8,327.6 386.2,332.1 386.6,336.6 387.0,341.0 387.4,345.3 387.8,349.3 388.2,352.9 388.6,356.1 389.0,358.7 389.4,360.6 389.8,361.8 390.2,362.0 390.6,360.3 391.0,356.8 391.4,352.0 391.8,346.5 392.2,340.7 392.6,335.2 393.0,330.6 393.4,327.3 393.8,325.9 394.2,326.5 394.6,328.2 395.0,330.8 395.4,333.9 395.8,337.3 396.2,340.6 396.6,343.5 397.0,345.7 397.4,347.0 397.8,346.4 398.2,342.4 398.6,336.7 399.0,331.1 399.4,327.6 399.8,327.5 400.2,329.7 400.6,333.2 401.0,337.7 401.4,342.6 401.8,347.4 402.2,351.5 402.6,354.5 403.0,355.8 403.4,354.2 403.8,349.2 404.2,341.7 404.6,332.9 405.0,323.9 405.4,315.8 405.8,309.8 406.2,306.9 406.6,307.2 407.0,308.8 407.4,311.6 407.8,315.4 408.2,320.1 408.6,325.5 409.0,331.4 409.4,337.8 409.8,344.6 410.2,351.4 410.6,358.3 411.0,365.1 411.4,371.7 411.8,377.8 412.2,383.4 412.6,388.4 413.0,392.5 413.4,395.7 413.8,397.8 414.2,398.6 414.6,398.2 415.0,396.8 415.4,394.5 415.8,391.2 416.2,387.2 416.6,382.6 417.0,377.3 417.4,371.5 417.8,365.3 418.2,358.7 418.6,351.9 419.0,344.9 419.4,337.9 419.8,330.9 420.2,323.9 420.6,317.2 421.0,310.7 421.4,304.5 421.8,298.8 422.2,293.7 422.6,289.1 423.0,285.3 423.4,282.2 423.8,280.1 424.2,278.8 424.6,278.7 425.0,279.8 425.4,282.1 425.8,285.5 426.2,289.8 426.6,294.9 427.0,300.7 427.4,306.9 427.8,313.6 428.2,320.4 428.6,327.3 429.0,334.2 429.4,340.9 429.8,347.3 430.2,353.1 430.6,358.4 431.0,362.9 431.4,366.5 431.8,369.1 432.2,370.5 432.6,370.6 433.0,369.1 433.4,366.2 433.8,362.2 434.2,357.4 434.6,352.1 435.0,346.6 435.4,341.1 435.8,336.0 436.2,331.5 436.6,327.9 437.0,325.6 437.4,324.7 437.8,325.7 438.2,328.6 438.6,332.7 439.0,337.4 439.4,342.2 439.8,346.4 440.2,349.5 440.6,350.8 441.0,349.9 441.4,346.9 441.8,342.5 442.2,337.6 442.6,332.8 443.0,328.8 443.4,326.3 443.8,326.2 444.2,329.1 444.6,334.2 445.0,340.6 445.4,347.3 445.8,353.3 446.2,357.7 446.6,359.5 447.0,357.9 447.4,353.1 447.8,346.1 448.2,337.6 448.6,328.6 449.0,319.7 449.4,312.0 449.8,306.1 450.2,303.0 450.6,303.1 451.0,304.7 451.4,307.7 451.8,311.9 452.2,317.1 452.6,323.1 453.0,329.7 453.4,336.9 453.8,344.4 454.2,352.1 454.6,359.7 455.0,367.3 455.4,374.5 455.8,381.2 456.2,387.2 456.6,392.4 457.0,396.7 457.4,399.8 457.8,401.5 458.2,401.7 458.6,399.2 459.0,393.9 459.4,386.3 459.8,376.9 460.2,365.9 460.6,354.0 461.0,341.4 461.4,328.6 461.8,316.1 462.2,304.2 462.6,293.3 463.0,284.0 463.4,276.6 463.8,271.5 464.2,269.2 464.6,269.5 465.0,271.2 465.4,274.0 465.8,277.8 466.2,282.6 466.6,288.2 467.0,294.5 467.4,301.4 467.8,308.7 468.2,316.3 468.6,324.2 469.0,332.1 469.4,340.0 469.8,347.8 470.2,355.3 470.6,362.4 471.0,369.0 471.4,374.9 471.8,380.1 472.2,384.5 472.6,387.9 473.0,390.1 473.4,391.1 473.8,389.7 474.2,383.7 474.6,374.2 475.0,362.3 475.4,349.2 475.8,336.3 476.2,324.6 476.6,315.4 477.0,310.0 477.4,309.2 477.8,311.1 478.2,314.8 478.6,319.8 479.0,325.6 479.4,331.8 479.8,338.0 480.2,343.7 480.6,348.4 481.0,351.8 481.4,353.3 481.8,353.0 482.2,351.9 482.6,350.2 483.0,348.0 483.4,345.4 483.8,342.8 484.2,340.2 484.6,337.8 485.0,335.7 485.4,334.2 485.8,333.5 486.2,333.5 486.6,334.1 487.0,335.2 487.4,336.6 487.8,338.3 488.2,340.2 488.6,342.3 489.0,344.3 489.4,346.3 489.8,348.1 490.2,349.7 490.6,350.9 491.0,351.7 491.4,352.1 491.8,351.0 492.2,347.6 492.6,342.8 493.0,337.2 493.4,331.5 493.8,326.5 494.2,322.7 494.6,321.0 495.0,322.2 495.4,326.7 495.8,333.2 496.2,340.7 496.6,348.1 497.0,354.3 497.4,358.3 497.8,358.8 498.2,356.5 498.6,352.0 499.0,346.2 499.4,339.9 499.8,333.8 500.2,328.7 500.6,325.5 501.0,324.7 501.4,325.6 501.8,327.3 502.2,329.6 502.6,332.3 503.0,335.1 503.4,337.7 503.8,339.9 504.2,341.5 504.6,342.1 505.0,342.0 505.4,341.6 505.8,341.0 506.2,340.3 506.6,339.5 507.0,338.7 507.4,337.9 507.8,337.2 508.2,336.5 508.6,336.1 509.0,335.9 509.4,336.1 509.8,337.3 510.2,339.1 510.6,341.4 511.0,344.0 511.4,346.7 511.8,349.3 512.2,351.6 512.6,353.5 513.0,354.7 513.4,355.0 513.8,354.5 514.2,353.2 514.6,351.3 515.0,348.7 515.4,345.8 515.8,342.5 516.2,338.9 516.6,335.1 517.0,331.4 517.4,327.6 517.8,324.0 518.2,320.7 518.6,317.6 519.0,315.1 519.4,313.0 519.8,311.7 520.2,311.0 520.6,311.2 521.0,312.3 521.4,314.0 521.8,316.4 522.2,319.4 522.6,322.7 523.0,326.3 523.4,330.1 523.8,334.0 524.2,337.9 524.6,341.6 525.0,345.0 525.4,348.1 525.8,350.7 526.2,352.7 526.6,354.0 527.0,354.6 527.4,354.1 527.8,352.8 528.2,350.8 528.6,348.4 529.0,345.6 529.4,342.8 529.8,340.1 530.2,337.8 530.6,336.0 531.0,334.9 531.4,334.7 531.8,335.4 532.2,336.7 532.6,338.3 533.0,340.2 533.4,341.9 533.8,343.4 534.2,344.4 534.6,344.5 535.0,343.2 535.4,340.5 535.8,337.1 536.2,333.3 536.6,329.9 537.0,327.3 537.4,326.0 537.8,327.0 538.2,330.9 538.6,336.8 539.0,343.9 539.4,351.2 539.8,357.9 540.2,363.0 540.6,365.6 541.0,365.0 541.4,361.7 541.8,356.2 542.2,349.0 542.6,341.0 543.0,332.5 543.4,324.3 543.8,317.0 544.2,311.0 544.6,307.2 545.0,306.0 545.4,307.0 545.8,309.4 546.2,313.0 546.6,317.6 547.0,322.9 547.4,328.7 547.8,334.7 548.2,340.8 548.6,346.6 549.0,351.9 549.4,356.6 549.8,360.3 550.2,362.9 550.6,364.0 551.0,363.2 551.4,360.0 551.8,355.0 552.2,348.9 552.6,342.3 553.0,335.7 553.4,329.8 553.8,325.2 554.2,322.6 554.6,322.4 555.0,324.1 555.4,327.3 555.8,331.4 556.2,336.1 556.6,340.9 557.0,345.3 557.4,348.9 557.8,351.3 558.2,352.1 558.6,351.0 559.0,348.6 559.4,345.3 559.8,341.3 560.2,337.1 560.6,333.1 561.0,329.6 561.4,327.1 561.8,326.0 562.2,326.5 562.6,328.6 563.0,331.7 563.4,335.5 563.8,339.4 564.2,342.9 564.6,345.6 565.1,347.0 565.5,346.1 565.9,342.1 566.3,337.0 566.7,333.1 567.1,332.4 567.5,335.1 567.9,340.0 568.3,345.9 568.7,351.6 569.1,355.7 569.5,357.0 569.9,355.3 570.3,351.3 570.7,345.5 571.1,338.8 571.5,331.7 571.9,324.9 572.3,319.1 572.7,314.8 573.1,312.8 573.5,313.5 573.9,316.7 574.3,321.6 574.7,327.7 575.1,334.4 575.5,341.0 575.9,346.9 576.3,351.5 576.7,354.1 577.1,354.4 577.5,353.4 577.9,351.6 578.3,349.2 578.7,346.5 579.1,343.7 579.5,341.1 579.9,339.0 580.3,337.6 580.7,337.1 581.1,338.0 581.5,339.8 581.9,342.1 582.3,344.4 582.7,346.2 583.1,347.1 583.5,346.4 583.9,344.2 584.3,340.9 584.7,337.1 585.1,333.3 585.5,329.8 585.9,327.2 586.3,326.0 586.7,326.3 587.1,327.8 587.5,330.2 587.9,333.2 588.3,336.6 588.7,340.1 589.1,343.5 589.5,346.5 589.9,348.9 590.3,350.4 590.7,350.8 591.1,349.4 591.5,346.6 591.9,342.9 592.3,339.0 592.7,335.3 593.1,332.4 593.5,331.0 593.9,337.0 594.3,352.1 594.7,355.8 595.1,355.4 595.5,354.7 595.9,352.6 596.3,346.9 596.7,339.2 597.1,331.2 597.5,324.6 597.9,321.1 598.3,321.7 598.7,325.0 599.1,330.2 599.5,336.3 599.9,342.8 600.3,348.6 600.7,353.2 601.1,355.6 601.5,355.8 601.9,355.8 602.3,355.8 602.7,355.8 603.1,355.7 603.5,349.3 603.9,337.6 604.3,328.4 604.7,327.2 605.1,327.2 605.5,327.2 605.9,327.2 606.3,327.2 606.7,327.2 607.1,327.6 607.5,329.4 607.9,332.3 608.3,335.9 608.7,339.7 609.1,343.5 609.5,346.8 609.9,349.4 610.3,350.7 610.7,350.6 611.1,349.6 611.5,347.7 611.9,345.3 612.3,342.6 612.7,339.6 613.1,336.6 613.5,333.8 613.9,331.5 614.3,329.6 614.7,328.6 615.1,328.5 615.5,329.8 615.9,332.1 616.3,335.2 616.7,338.7 617.1,342.3 617.5,345.6 617.9,348.4 618.3,350.2 618.7,350.8 619.1,349.7 619.5,347.1 619.9,343.2 620.3,338.7 620.7,333.9 621.1,329.3 621.5,325.4 621.9,322.4 622.3,321.0 622.7,322.1 623.1,326.7 623.5,333.8 623.9,342.4 624.3,351.4 624.7,359.6 625.1,365.9 625.5,369.2 625.9,368.5 626.3,363.3 626.7,354.8 627.1,344.1 627.5,332.2 627.9,320.3 628.3,309.4 628.7,300.8 629.1,295.5 629.5,294.4 629.9,296.7 630.3,301.3 630.7,307.9 631.1,316.0 631.5,325.3 631.9,335.2 632.3,345.3 632.7,355.2 633.1,364.5 633.5,372.8 633.9,379.5 634.3,384.3 634.7,386.7 635.1,386.7 635.5,385.5 635.9,383.2 636.3,380.1 636.7,376.3 637.1,371.9 637.5,367.0 637.9,361.8 638.3,356.3 638.7,350.8 639.1,345.2 639.5,339.9 639.9,334.8 640.3,330.2 640.7,326.1 641.1,322.7 641.5,320.0 641.9,318.3 642.3,317.7 642.7,318.1 643.1,319.2 643.5,321.0 643.9,323.4 644.3,326.1 644.7,329.0 645.1,332.1 645.5,335.1 645.9,338.0 646.3,340.7 646.7,342.9 647.1,344.6 647.5,345.6 647.9,345.7 648.3,343.6 648.7,339.8 649.1,335.6 649.5,332.5 649.9,331.8 650.3,334.0 650.7,338.2 651.1,343.3 651.5,348.3 651.9,352.0 652.3,353.3 652.7,351.7 653.1,347.6 653.5,341.6 653.9,334.6 654.3,327.2 654.7,320.0 655.1,313.8 655.5,309.1 655.9,306.9 656.3,307.7 656.7,312.1 657.1,319.1 657.5,328.2 657.9,338.4 658.3,349.1 658.7,359.5 659.1,368.8 659.5,376.2 659.9,381.0 660.3,382.4 660.7,382.0 661.1,380.8 661.5,379.0 661.9,376.6 662.3,373.7 662.7,370.4 663.1,366.7 663.5,362.7 663.9,358.6 664.3,354.3 664.7,349.9 665.1,345.5 665.5,341.2 665.9,337.0 666.3,333.0 666.7,329.3 667.1,325.9 667.5,323.0 667.9,320.5 668.3,318.6 668.7,317.3 669.1,316.7 669.5,317.0 669.9,318.1 670.3,320.1 670.7,322.7 671.1,325.8 671.5,329.2 671.9,332.7 672.3,336.3 672.7,339.7 673.1,342.9 673.5,345.6 673.9,347.7 674.3,349.1 674.7,349.6 675.1,348.7 675.5,346.6 675.9,343.7 676.3,340.5 676.7,337.4 677.1,335.0 677.5,333.5 677.9,333.8 678.3,336.1 678.7,339.8 679.1,344.0 679.5,347.8 679.9,350.3 680.3,350.7 680.7,349.5 681.1,347.0 681.5,343.5 681.9,339.4 682.3,334.9 682.7,330.4 683.1,326.1 683.5,322.2 683.9,319.2 684.3,317.3 684.7,316.7 685.1,317.3 685.5,318.6 685.9,320.7 686.3,323.4 686.7,326.6 687.1,330.2 687.5,334.2 687.9,338.5 688.3,342.9 688.7,347.4 689.1,351.9 689.5,356.3 689.9,360.4 690.3,364.3 690.7,367.8 691.1,370.8 691.5,373.3 691.9,375.1 692.3,376.2 692.7,376.4 693.1,375.4 693.5,372.9 693.9,369.4 694.3,364.9 694.7,359.7 695.1,354.0 695.5,348.0 695.9,341.9 696.3,335.8 696.7,330.1 697.1,324.8 697.5,320.3 697.9,316.6 698.3,314.0 698.7,312.8 699.1,313.3 699.5,316.3 699.9,321.2 700.3,327.4 700.7,334.2 701.1,341.1 701.5,347.2 701.9,352.2 702.3,355.2 702.7,355.7 703.1,353.7 703.5,349.8 703.9,344.8 704.3,339.3 704.7,334.0 705.1,329.6 705.5,326.7 705.9,326.0 706.3,327.9 706.7,331.7 707.1,336.9 707.5,342.6 707.9,348.2 708.3,352.9 708.7,356.1 709.1,357.0 709.5,354.7 709.9,349.5 710.3,342.4 710.7,334.2 711.1,325.8 711.5,318.1 711.9,312.0 712.3,308.3 712.7,308.2 713.1,312.0 713.5,319.2 713.9,328.8 714.3,339.8 714.7,351.3 715.1,362.4 715.5,372.1 715.9,379.6 716.3,383.8 716.7,384.3 717.1,383.5 717.5,381.8 717.9,379.3 718.3,376.2 718.7,372.5 719.1,368.4 719.5,363.8 719.9,358.9 720.3,353.7 720.7,348.4 721.1,342.9 721.5,337.5 721.9,332.2 722.3,327.0 722.7,322.1 723.1,317.4 723.5,313.2 723.9,309.5 724.3,306.4 724.7,303.9 725.1,302.1 725.5,301.2 725.9,301.4 726.3,304.3 726.7,309.8 727.1,317.1 727.5,325.7 727.9,334.8 728.3,343.8 728.7,352.1 729.1,358.9 729.5,363.7 729.9,365.7 730.3,364.5 730.7,360.5 731.1,354.3 731.5,346.8 731.9,338.6 732.3,330.6 732.7,323.5 733.1,318.1 733.5,315.1 733.9,315.7 734.3,322.1 734.7,332.3 735.1,343.9 735.5,354.4 735.9,361.6 736.3,363.1 736.7,360.6 737.1,355.5 737.5,348.7 737.9,340.9 738.3,332.8 738.7,325.2 739.1,318.9 739.5,314.4 739.9,312.7 740.3,313.7 740.7,316.7 741.1,321.1 741.5,326.6 741.9,332.7 742.3,339.1 742.7,345.4 743.1,351.1 743.5,355.8 743.9,359.2 744.3,360.7 744.7,360.5 745.1,359.2 745.5,357.2 745.9,354.5 746.3,351.4 746.7,348.0 747.1,344.6 747.5,341.2 747.9,338.2 748.3,335.6 748.7,333.6 749.1,332.4 749.5,332.2 749.9,333.4 750.3,335.7 750.7,338.3 751.1,340.8 751.5,342.7 751.9,343.4 752.3,343.1 752.7,342.4 753.1,341.4 753.5,340.3 753.9,339.1 754.3,338.0 754.7,337.0 755.1,336.2 755.5,335.9 755.9,336.2 756.3,337.5 756.7,339.3 757.1,341.5 757.5,343.7 757.9,345.6 758.3,346.8 758.7,347.0 759.1,345.3 759.5,342.2 759.9,338.3 760.3,334.3 760.7,330.9 761.1,328.8 761.5,328.5 761.9,329.7 762.3,331.8 762.7,334.5 763.1,337.7 763.5,340.8 763.9,343.8 764.3,346.2 764.7,347.8 765.1,348.3 765.5,348.2 765.9,347.9 766.3,347.4 766.7,346.7 767.1,345.9 767.5,345.0 767.9,344.0 768.3,342.9 768.7,341.8 769.1,340.7 769.5,339.6 769.9,338.5 770.3,337.4 770.7,336.5 771.1,335.6 771.5,334.8 771.9,334.2 772.3,333.7 772.7,333.5 773.1,333.4 773.5,334.7 773.9,337.3 774.3,340.8 774.7,344.8 775.1,348.7 775.5,352.0 775.9,354.3 776.3,355.1 776.7,354.3 777.1,352.5 777.5,349.9 777.9,346.6 778.3,342.8 778.7,338.9 779.1,334.9 779.5,331.0 779.9,327.6 780.3,324.8 780.7,322.8 781.1,321.8 781.5,322.3 781.9,325.3 782.3,330.1 782.7,335.8 783.1,341.5 783.5,346.5 783.9,349.9 784.3,350.8 784.7,350.2 785.1,348.8 785.5,346.8 785.9,344.4 786.3,341.8 786.7,339.1 787.1,336.7 787.5,334.6 787.9,333.0 788.3,332.2 788.7,332.6 789.1,334.7 789.5,338.2 789.9,342.2 790.3,346.1 790.7,349.2 791.1,350.8 791.5,350.3 791.9,348.3 792.3,345.1 792.7,341.0 793.1,336.3 793.5,331.5 793.9,326.8 794.3,322.7 794.7,319.4 795.1,317.3 795.5,316.7 795.9,317.8 796.3,320.2 796.7,323.8 797.1,328.3 797.5,333.6 797.9,339.4 798.3,345.6 798.7,351.8 799.1,358.0 799.5,363.9 799.9,369.3 800.3,374.0 800.7,377.8 801.1,380.5 801.5,381.8 801.9,381.7 802.3,380.1 802.7,377.3 803.1,373.4 803.5,368.5 803.9,362.9 804.3,356.7 804.7,350.1 805.1,343.2 805.5,336.1 805.9,329.1 806.3,322.4 806.7,316.0 807.1,310.1 807.5,304.9 807.9,300.6 808.3,297.2 808.7,295.1 809.1,294.3 809.5,296.1 809.9,301.5 810.3,309.7 810.7,319.8 811.1,331.0 811.5,342.5 811.9,353.5 812.3,363.1 812.7,370.5 813.1,374.9 813.5,375.5 813.9,372.2 814.3,366.0 814.7,357.7 815.1,348.2 815.5,338.4 815.9,329.3 816.3,321.7 816.7,316.6 817.1,314.7 817.5,316.7 817.9,321.6 818.3,328.5 818.7,336.4 819.1,344.3 819.5,351.3 819.9,356.2 820.3,358.3 820.7,356.3 821.1,350.8 821.5,343.5 821.9,335.8 822.3,329.5 822.7,326.1 823.1,326.4 823.5,328.6 823.9,332.0 824.3,336.4 824.7,341.1 825.1,345.8 825.5,350.1 825.9,353.4 826.3,355.4 826.7,355.7 827.1,354.5 827.5,352.2 827.9,349.0 828.3,345.3 828.7,341.2 829.1,337.0 829.5,333.1 829.9,329.6 830.3,326.9 830.7,325.2 831.1,324.7 831.5,325.4 831.9,326.9 832.3,329.1 832.7,331.9 833.1,335.1 833.5,338.5 833.9,342.0 834.3,345.5 834.7,348.8 835.1,351.7 835.5,354.2 835.9,355.9 836.3,356.9 836.7,356.0 837.1,348.6 837.5,337.4 837.9,326.2 838.3,318.8 838.7,318.1 839.1,321.2 839.5,326.6 839.9,333.4 840.3,341.0 840.7,348.4 841.1,354.9 841.5,359.7 841.9,362.0 842.3,360.8 842.7,356.4 843.1,349.7 843.5,341.7 843.9,333.5 844.3,326.0 844.7,320.3 845.1,317.4 845.5,318.0 845.9,321.7 846.3,327.6 846.7,334.6 847.1,341.9 847.5,348.7 847.9,353.9 848.3,356.8 848.7,356.5 849.1,353.3 849.5,348.3 850.0,342.3 850.4,336.1 850.8,330.7 851.2,327.1 851.6,325.9 852.0,326.8 852.4,328.7 852.8,331.5 853.2,334.9 853.6,338.7 854.0,342.6 854.4,346.3 854.8,349.7 855.2,352.5 855.6,354.3 856.0,355.1 856.4,354.8 856.8,354.1 857.2,353.0 857.6,351.5 858.0,349.7 858.4,347.6 858.8,345.2 859.2,342.6 859.6,339.9 860.0,337.0 860.4,334.1 860.8,331.1 861.2,328.2 861.6,325.3 862.0,322.6 862.4,320.0 862.8,317.6 863.2,315.4 863.6,313.5 864.0,312.0 864.4,310.8 864.8,310.0 865.2,309.7 865.6,311.5 866.0,317.0 866.4,325.3 866.8,335.2 867.2,346.0 867.6,356.4 868.0,365.7 868.4,372.7 868.8,376.6 869.2,376.8 869.6,375.7 870.0,373.8 870.4,371.0 870.8,367.6 871.2,363.5 871.6,358.9 872.0,353.9 872.4,348.6 872.8,343.1 873.2,337.4 873.6,331.8 874.0,326.1 874.4,320.7 874.8,315.5 875.2,310.6 875.6,306.2 876.0,302.4 876.4,299.1 876.8,296.7 877.2,295.0 877.6,294.3 878.0,294.8 878.4,296.7 878.8,299.8 879.2,304.1 879.6,309.3 880.0,315.2 880.4,321.8 880.8,328.7 881.2,336.0 881.6,343.3 882.0,350.6 882.4,357.6 882.8,364.2 883.2,370.2 883.6,375.5 884.0,379.8 884.4,383.1 884.8,385.1 885.2,385.7 885.6,384.8 886.0,382.5 886.4,379.1 886.8,374.6 887.2,369.3 887.6,363.3 888.0,356.8 888.4,349.9 888.8,342.8 889.2,335.7 889.6,328.7 890.0,321.9 890.4,315.7 890.8,310.1 891.2,305.2 891.6,301.3 892.0,298.5 892.4,297.0 892.8,297.2 893.2,300.9 893.6,307.7 894.0,316.8 894.4,327.4 894.8,338.7 895.2,349.8 895.6,360.0 896.0,368.5 896.4,374.4 896.8,376.9 897.2,374.8 897.6,367.9 898.0,357.6 898.4,345.6 898.8,333.3 899.2,322.2 899.6,313.9 900.0,309.9 900.4,311.0 900.8,315.9 901.2,323.3 901.6,332.1 902.0,341.3 902.4,349.6 902.8,356.0 903.2,359.3 903.6,358.4 904.0,353.5 904.4,346.2 904.8,338.1 905.2,331.1 905.6,326.6 906.0,326.1 906.4,327.8 906.8,330.7 907.2,334.2 907.6,337.9 908.0,341.3 908.4,343.7 908.8,344.6 909.2,343.7 909.6,341.3 910.0,338.1 910.4,334.9 910.8,332.3 911.2,331.0 911.6,331.3 912.0,333.0 912.4,335.5 912.8,338.5 913.2,341.4 913.6,343.9 914.0,345.5 914.4,345.8 914.8,344.9 915.2,343.2 915.6,340.9 916.0,338.4 916.4,335.9 916.8,333.9 917.2,332.5 917.6,332.2 918.0,333.0 918.4,334.9 918.8,337.3 919.2,340.1 919.6,342.7 920.0,345.0 920.4,346.6 920.8,347.1 921.2,345.4 921.6,341.7 922.0,337.1 922.4,332.5 922.8,328.8 923.2,327.2 923.6,329.0 924.0,334.3 924.4,341.6 924.8,349.3 925.2,355.7 925.6,359.3 926.0,358.4 926.4,353.0 926.8,344.6 927.2,334.7 927.6,324.6 928.0,315.9 928.4,310.1 928.8,308.5 929.2,309.0 929.6,310.0 930.0,311.7 930.4,313.9 930.8,316.5 931.2,319.6 931.6,323.1 932.0,326.9 932.4,331.0 932.8,335.3 933.2,339.8 933.6,344.4 934.0,349.1 934.4,353.9 934.8,358.6 935.2,363.3 935.6,367.9 936.0,372.3 936.4,376.6 936.8,380.5 937.2,384.2 937.6,387.5 938.0,390.4 938.4,392.9 938.8,394.9 939.2,396.3 939.6,397.2 940.0,397.4 940.4,396.5 940.8,394.4 941.2,391.2 941.6,387.1 942.0,382.2 942.4,376.6 942.8,370.4 943.2,363.7 943.6,356.8 944.0,349.6 944.4,342.3 944.8,335.0 945.2,327.9 945.6,321.1 946.0,314.8 946.4,308.9 946.8,303.7 947.2,299.2 947.6,295.7 948.0,293.2 948.4,291.8 948.8,291.7 949.2,292.8 949.6,295.2 950.0,298.5 950.4,302.7 950.8,307.5 951.2,312.9 951.6,318.7 952.0,324.6 952.4,330.6 952.8,336.5 953.2,342.1 953.6,347.3 954.0,351.9 954.4,355.7 954.8,358.7 955.2,360.6 955.6,361.3 956.0,360.7 956.4,359.1 956.8,356.7 957.2,353.6 957.6,350.1 958.0,346.5 958.4,342.8 958.8,339.4 959.2,336.4 959.6,334.0 960.0,332.6 960.4,332.2 960.8,333.3 961.2,335.6 961.6,338.5 962.0,341.4 962.4,343.6 962.8,344.6 963.2,344.2 963.6,343.0 964.0,341.2 964.4,339.2 964.8,337.2 965.2,335.4 965.6,334.0 966.0,333.4 966.4,334.1 966.8,336.4 967.2,339.9 967.6,343.8 968.0,347.7 968.4,350.9 968.8,352.9 969.2,353.2 969.6,352.1 970.0,349.8 970.4,346.7 970.8,342.8 971.2,338.3 971.6,333.5 972.0,328.6 972.4,323.7 972.8,319.0 973.2,314.8 973.6,311.2 974.0,308.4 974.4,306.6 974.8,306.0 975.2,307.0 975.6,309.8 976.0,313.9 976.4,319.2 976.8,325.3 977.2,331.9 977.6,338.9 978.0,345.9 978.4,352.7 978.8,358.9 979.2,364.4 979.6,368.8 980.0,371.8 980.4,373.2 980.8,371.7 981.2,365.5 981.6,356.1 982.0,345.1 982.4,334.1 982.8,324.8 983.2,318.7 983.6,317.3 984.0,318.8 984.4,321.9 984.8,326.3 985.2,331.5 985.6,337.0 986.0,342.6 986.4,347.8 986.8,352.2 987.2,355.4 987.6,357.0 988.0,356.1 988.4,351.8 988.8,345.6 989.2,338.8 989.6,332.7 990.0,329.0 990.4,328.6 990.8,330.3 991.2,333.1 991.6,336.8 992.0,340.7 992.4,344.4 992.8,347.4 993.2,349.2 993.6,349.5 994.0,348.5 994.4,346.6 994.8,343.9 995.2,340.7 995.6,337.2 996.0,333.4 996.4,329.7 996.8,326.2 997.2,323.2 997.6,320.7 998.0,319.1 998.4,318.5 998.8,318.7 999.2,319.4 999.6,320.6 1000.0,322.3 1000.4,324.3 1000.8,326.6 1001.2,329.2 1001.6,332.1 1002.0,335.1 1002.4,338.4 1002.8,341.7 1003.2,345.1 1003.6,348.5 1004.0,351.9 1004.4,355.2 1004.8,358.4 1005.2,361.5 1005.6,364.4 1006.0,367.0 1006.4,369.4 1006.8,371.4 1007.2,373.0 1007.6,374.2 1008.0,375.0 1008.4,375.2 1008.8,374.3 1009.2,371.8 1009.6,367.9 1010.0,363.0 1010.4,357.1 1010.8,350.6 1011.2,343.7 1011.6,336.7 1012.0,329.7 1012.4,323.0 1012.8,316.8 1013.2,311.4 1013.6,306.9 1014.0,303.7 1014.4,302.0 1014.8,301.8 1015.2,302.5 1015.6,303.8 1016.0,305.7 1016.4,308.1 1016.8,311.0 1017.2,314.3 1017.6,317.9 1018.0,321.9 1018.4,326.0 1018.8,330.3 1019.2,334.8 1019.6,339.3 1020.0,343.7 1020.4,348.2 1020.8,352.5 1021.2,356.6 1021.6,360.5 1022.0,364.1 1022.4,367.4 1022.8,370.3 1023.2,372.6 1023.6,374.5 1024.0,375.8 1024.4,376.4 1024.8,376.2 1025.2,374.7 1025.6,371.9 1026.0,368.0 1026.4,363.3 1026.8,357.9 1027.2,351.9 1027.6,345.6 1028.0,339.2 1028.4,332.8 1028.8,326.6 1029.2,320.8 1029.6,315.6 1030.0,311.2 1030.4,307.7 1030.8,305.3 1031.2,304.3 1031.6,304.9 1032.0,307.3 1032.4,311.4 1032.8,316.8 1033.2,323.1 1033.6,330.2 1034.0,337.7 1034.4,345.3 1034.8,352.7 1035.2,359.7 1035.6,365.8 1036.0,370.9 1036.4,374.6 1036.8,376.7 1037.2,376.8 1037.6,375.7 1038.0,373.6 1038.4,370.5 1038.8,366.6 1039.2,362.1 1039.6,357.1 1040.0,351.8 1040.4,346.1 1040.8,340.4 1041.2,334.7 1041.6,329.1 1042.0,323.8 1042.4,318.9 1042.8,314.5 1043.2,310.9 1043.6,308.0 1044.0,306.1 1044.4,305.3 1044.8,305.7 1045.2,307.3 1045.6,310.0 1046.0,313.6 1046.4,317.9 1046.8,322.8 1047.2,328.0 1047.6,333.3 1048.0,338.7 1048.4,343.9 1048.8,348.7 1049.2,353.0 1049.6,356.6 1050.0,359.3 1050.4,360.9 1050.8,361.2 1051.2,360.3 1051.6,358.3 1052.0,355.4 1052.4,351.8 1052.8,347.8 1053.2,343.6 1053.6,339.3 1054.0,335.3 1054.4,331.8 1054.8,328.9 1055.2,326.9 1055.6,326.0 1056.0,326.3 1056.4,327.7 1056.8,329.9 1057.2,332.6 1057.6,335.6 1058.0,338.5 1058.4,341.2 1058.8,343.2 1059.2,344.4 1059.6,344.6 1060.0,344.6 1060.4,344.6 1060.8,344.5 1061.2,344.4 1061.6,344.2 1062.0,343.9 1062.4,343.5 1062.8,343.0 1063.2,342.4 1063.6,341.7 1064.0,340.7 1064.4,339.6" fill="none" stroke="#0000ff" stroke-width="1.6" stroke-linejoin="round" />
<path d="M235 290V391" stroke="#0000ff" stroke-width="2.2"/>
<rect x="1173.5" y="262.6" width="830.0" height="155.2" fill="none" stroke="#000" stroke-width="1.8"/>
<path d="M1256.5 262.6v8.0M1256.5 417.8v-8.0M1339.5 262.6v8.0M1339.5 417.8v-8.0M1422.5 262.6v8.0M1422.5 417.8v-8.0M1505.5 262.6v8.0M1505.5 417.8v-8.0M1588.5 262.6v8.0M1588.5 417.8v-8.0M1671.5 262.6v8.0M1671.5 417.8v-8.0M1754.5 262.6v8.0M1754.5 417.8v-8.0M1837.5 262.6v8.0M1837.5 417.8v-8.0M1920.5 262.6v8.0M1920.5 417.8v-8.0M1173.5 340.2h8.0M2003.5 340.2h-8.0M1173.5 269.6h2.5M2003.5 269.6h-2.5M1173.5 410.8h2.5M2003.5 410.8h-2.5" stroke="#000" stroke-width="1.7" fill="none"/>
<polyline points="1173.4,357.0 1173.8,354.6 1174.2,352.2 1174.6,349.7 1175.0,347.2 1175.4,344.8 1175.8,342.4 1176.2,340.1 1176.6,337.8 1177.0,335.7 1177.4,333.7 1177.8,331.8 1178.2,330.1 1178.6,328.5 1179.0,327.2 1179.4,326.1 1179.8,325.2 1180.2,324.6 1180.6,324.2 1181.0,324.2 1181.4,324.2 1181.8,324.4 1182.2,324.6 1182.6,324.8 1183.0,325.1 1183.4,325.5 1183.8,325.9 1184.2,326.4 1184.6,326.9 1185.0,327.4 1185.4,328.0 1185.8,328.6 1186.2,329.3 1186.6,330.0 1187.0,330.7 1187.4,331.5 1187.8,332.3 1188.2,333.1 1188.6,333.9 1189.0,334.7 1189.4,335.5 1189.8,336.4 1190.2,337.2 1190.6,338.1 1191.0,338.9 1191.4,339.8 1191.8,340.6 1192.2,341.4 1192.6,342.2 1193.0,343.0 1193.4,343.8 1193.8,344.6 1194.2,345.3 1194.6,346.0 1195.0,346.7 1195.4,347.3 1195.8,347.9 1196.2,348.5 1196.6,349.0 1197.0,349.5 1197.4,349.9 1197.8,350.3 1198.2,350.6 1198.6,350.9 1199.0,351.1 1199.4,351.2 1199.8,351.3 1200.2,351.3 1200.6,351.3 1201.0,351.2 1201.4,351.0 1201.8,350.9 1202.2,350.6 1202.6,350.4 1203.0,350.1 1203.4,349.8 1203.8,349.4 1204.2,349.0 1204.6,348.6 1205.0,348.1 1205.4,347.6 1205.8,347.2 1206.2,346.6 1206.6,346.1 1207.0,345.5 1207.4,345.0 1207.8,344.4 1208.2,343.8 1208.6,343.2 1209.0,342.6 1209.4,342.0 1209.8,341.4 1210.2,340.8 1210.6,340.2 1211.0,339.6 1211.4,339.0 1211.8,338.4 1212.2,337.8 1212.6,337.3 1213.0,336.7 1213.4,336.2 1213.8,335.7 1214.2,335.2 1214.6,334.7 1215.0,334.3 1215.4,333.9 1215.8,333.5 1216.2,333.1 1216.6,332.8 1217.0,332.5 1217.4,332.3 1217.8,332.1 1218.2,331.9 1218.6,331.8 1219.0,331.7 1219.4,331.6 1219.8,331.7 1220.2,331.8 1220.6,332.1 1221.0,332.4 1221.4,332.9 1221.8,333.4 1222.2,334.0 1222.6,334.6 1223.0,335.3 1223.4,336.0 1223.8,336.8 1224.2,337.6 1224.6,338.4 1225.0,339.3 1225.4,340.1 1225.8,340.9 1226.2,341.7 1226.6,342.5 1227.0,343.2 1227.4,343.9 1227.8,344.6 1228.2,345.2 1228.6,345.7 1229.0,346.2 1229.4,346.5 1229.8,346.8 1230.2,347.0 1230.6,347.1 1231.0,347.0 1231.4,346.7 1231.8,346.2 1232.2,345.5 1232.6,344.7 1233.0,343.7 1233.4,342.7 1233.8,341.6 1234.2,340.4 1234.6,339.3 1235.0,338.1 1235.4,337.0 1235.8,336.0 1236.2,335.0 1236.6,334.2 1237.0,333.5 1237.4,333.0 1237.8,332.7 1238.2,332.6 1238.6,332.8 1239.0,333.3 1239.4,333.9 1239.8,334.7 1240.2,335.7 1240.6,336.8 1241.0,338.0 1241.4,339.2 1241.8,340.5 1242.2,341.7 1242.6,342.9 1243.0,344.0 1243.4,344.9 1243.8,345.8 1244.2,346.4 1244.6,346.9 1245.0,347.1 1245.4,347.0 1245.8,346.8 1246.2,346.3 1246.6,345.7 1247.0,344.9 1247.4,344.0 1247.8,343.0 1248.2,342.0 1248.6,340.8 1249.0,339.6 1249.4,338.3 1249.8,337.1 1250.2,335.8 1250.6,334.6 1251.0,333.4 1251.4,332.2 1251.8,331.2 1252.2,330.2 1252.6,329.4 1253.0,328.7 1253.4,328.2 1253.8,327.8 1254.2,327.7 1254.6,327.7 1255.0,327.9 1255.4,328.1 1255.8,328.5 1256.2,329.0 1256.6,329.6 1257.0,330.4 1257.4,331.1 1257.8,332.0 1258.2,333.0 1258.6,334.0 1259.0,335.1 1259.4,336.2 1259.8,337.4 1260.2,338.6 1260.6,339.9 1261.0,341.2 1261.4,342.5 1261.8,343.8 1262.2,345.2 1262.6,346.5 1263.0,347.9 1263.4,349.2 1263.8,350.5 1264.2,351.8 1264.6,353.1 1265.0,354.3 1265.4,355.5 1265.8,356.6 1266.2,357.7 1266.6,358.7 1267.0,359.7 1267.4,360.6 1267.8,361.3 1268.2,362.0 1268.6,362.7 1269.0,363.2 1269.4,363.6 1269.8,363.8 1270.2,364.0 1270.6,364.0 1271.0,363.5 1271.4,362.4 1271.8,360.8 1272.2,358.7 1272.6,356.2 1273.0,353.3 1273.4,350.2 1273.8,346.8 1274.2,343.3 1274.6,339.7 1275.0,336.1 1275.4,332.4 1275.8,328.9 1276.2,325.5 1276.6,322.3 1277.0,319.4 1277.4,316.8 1277.8,314.6 1278.2,312.9 1278.6,311.7 1279.0,311.1 1279.4,311.1 1279.8,311.8 1280.2,313.1 1280.6,314.9 1281.0,317.3 1281.4,320.1 1281.8,323.2 1282.2,326.7 1282.6,330.3 1283.0,334.2 1283.4,338.1 1283.8,342.0 1284.2,345.9 1284.6,349.7 1285.0,353.3 1285.4,356.7 1285.8,359.8 1286.2,362.5 1286.6,364.7 1287.0,366.5 1287.4,367.7 1287.8,368.2 1288.2,368.2 1288.6,367.7 1289.0,366.9 1289.4,365.9 1289.8,364.5 1290.2,362.9 1290.6,361.0 1291.0,359.0 1291.4,356.8 1291.8,354.4 1292.2,352.0 1292.6,349.4 1293.0,346.8 1293.4,344.1 1293.8,341.4 1294.2,338.8 1294.6,336.2 1295.0,333.7 1295.4,331.3 1295.8,329.0 1296.2,326.8 1296.6,324.9 1297.0,323.1 1297.4,321.6 1297.8,320.3 1298.2,319.4 1298.6,318.8 1299.0,318.5 1299.4,318.5 1299.8,318.9 1300.2,319.5 1300.6,320.4 1301.0,321.5 1301.4,322.8 1301.8,324.3 1302.2,326.0 1302.6,327.7 1303.0,329.6 1303.4,331.5 1303.8,333.4 1304.2,335.4 1304.6,337.4 1305.0,339.3 1305.4,341.2 1305.8,343.0 1306.2,344.7 1306.6,346.2 1307.0,347.6 1307.4,348.8 1307.8,349.8 1308.2,350.6 1308.6,351.1 1309.0,351.3 1309.4,351.3 1309.8,351.0 1310.2,350.6 1310.6,350.1 1311.0,349.4 1311.4,348.6 1311.8,347.7 1312.2,346.7 1312.6,345.7 1313.0,344.6 1313.4,343.4 1313.8,342.2 1314.2,341.0 1314.6,339.9 1315.0,338.7 1315.4,337.6 1315.8,336.5 1316.2,335.5 1316.6,334.6 1317.0,333.8 1317.4,333.1 1317.8,332.5 1318.2,332.0 1318.6,331.8 1319.0,331.6 1319.4,331.8 1319.8,332.2 1320.3,332.8 1320.7,333.7 1321.1,334.7 1321.5,335.9 1321.9,337.2 1322.3,338.6 1322.7,340.0 1323.1,341.5 1323.5,342.9 1323.9,344.2 1324.3,345.5 1324.7,346.7 1325.1,347.7 1325.5,348.5 1325.9,349.1 1326.3,349.5 1326.7,349.6 1327.1,349.2 1327.5,348.5 1327.9,347.4 1328.3,346.0 1328.7,344.4 1329.1,342.6 1329.5,340.7 1329.9,338.7 1330.3,336.7 1330.7,334.6 1331.1,332.7 1331.5,330.9 1331.9,329.3 1332.3,328.0 1332.7,326.9 1333.1,326.2 1333.5,325.9 1333.9,326.2 1334.3,327.2 1334.7,328.8 1335.1,330.9 1335.5,333.5 1335.9,336.4 1336.3,339.5 1336.7,342.6 1337.1,345.8 1337.5,348.9 1337.9,351.7 1338.3,354.2 1338.7,356.3 1339.1,357.9 1339.5,358.8 1339.9,359.0 1340.3,358.7 1340.7,358.1 1341.1,357.1 1341.5,355.7 1341.9,354.2 1342.3,352.3 1342.7,350.3 1343.1,348.1 1343.5,345.7 1343.9,343.2 1344.3,340.6 1344.7,338.0 1345.1,335.4 1345.5,332.7 1345.9,330.1 1346.3,327.5 1346.7,325.1 1347.1,322.8 1347.5,320.6 1347.9,318.7 1348.3,316.9 1348.7,315.5 1349.1,314.3 1349.5,313.4 1349.9,312.9 1350.3,312.7 1350.7,312.9 1351.1,313.3 1351.5,313.8 1351.9,314.6 1352.3,315.6 1352.7,316.8 1353.1,318.1 1353.5,319.6 1353.9,321.2 1354.3,323.0 1354.7,324.8 1355.1,326.8 1355.5,328.8 1355.9,331.0 1356.3,333.1 1356.7,335.3 1357.1,337.6 1357.5,339.9 1357.9,342.2 1358.3,344.4 1358.7,346.7 1359.1,348.9 1359.5,351.1 1359.9,353.2 1360.3,355.3 1360.7,357.2 1361.1,359.1 1361.5,360.8 1361.9,362.5 1362.3,364.0 1362.7,365.3 1363.1,366.5 1363.5,367.5 1363.9,368.3 1364.3,368.9 1364.7,369.3 1365.1,369.5 1365.5,369.3 1365.9,368.7 1366.3,367.5 1366.7,365.9 1367.1,364.0 1367.5,361.6 1367.9,359.0 1368.3,356.1 1368.7,353.0 1369.1,349.7 1369.5,346.3 1369.9,342.7 1370.3,339.1 1370.7,335.5 1371.1,332.0 1371.5,328.5 1371.9,325.1 1372.3,321.9 1372.7,318.8 1373.1,316.1 1373.5,313.6 1373.9,311.4 1374.3,309.6 1374.7,308.2 1375.1,307.2 1375.5,306.8 1375.9,307.0 1376.3,308.4 1376.7,310.9 1377.1,314.3 1377.5,318.4 1377.9,323.2 1378.3,328.4 1378.7,333.9 1379.1,339.6 1379.5,345.3 1379.9,350.9 1380.3,356.2 1380.7,361.0 1381.1,365.2 1381.5,368.7 1381.9,371.3 1382.3,372.9 1382.7,373.2 1383.1,372.7 1383.5,371.6 1383.9,370.0 1384.3,367.8 1384.7,365.2 1385.1,362.2 1385.5,358.8 1385.9,355.1 1386.3,351.2 1386.7,347.2 1387.1,343.0 1387.5,338.7 1387.9,334.4 1388.3,330.2 1388.7,326.1 1389.1,322.1 1389.5,318.3 1389.9,314.8 1390.3,311.6 1390.7,308.8 1391.1,306.4 1391.5,304.5 1391.9,303.2 1392.3,302.4 1392.7,302.3 1393.1,302.8 1393.5,303.8 1393.9,305.3 1394.3,307.3 1394.7,309.7 1395.1,312.5 1395.5,315.6 1395.9,318.9 1396.3,322.6 1396.7,326.4 1397.1,330.4 1397.5,334.5 1397.9,338.7 1398.3,342.9 1398.7,347.0 1399.1,351.2 1399.5,355.2 1399.9,359.1 1400.3,362.8 1400.7,366.3 1401.1,369.5 1401.5,372.3 1401.9,374.9 1402.3,377.0 1402.7,378.7 1403.1,379.9 1403.5,380.6 1403.9,380.7 1404.3,380.2 1404.7,379.3 1405.1,377.9 1405.5,376.0 1405.9,373.8 1406.3,371.2 1406.7,368.3 1407.1,365.1 1407.5,361.7 1407.9,358.1 1408.3,354.3 1408.7,350.4 1409.1,346.4 1409.5,342.3 1409.9,338.3 1410.3,334.2 1410.7,330.3 1411.1,326.4 1411.5,322.7 1411.9,319.1 1412.3,315.8 1412.7,312.7 1413.1,310.0 1413.5,307.5 1413.9,305.4 1414.3,303.7 1414.7,302.5 1415.1,301.7 1415.5,301.5 1415.9,302.3 1416.3,304.2 1416.7,307.3 1417.1,311.2 1417.5,315.8 1417.9,321.1 1418.3,326.7 1418.7,332.6 1419.1,338.7 1419.5,344.6 1419.9,350.4 1420.3,355.7 1420.7,360.6 1421.1,364.7 1421.5,368.0 1421.9,370.3 1422.3,371.4 1422.7,371.2 1423.1,369.9 1423.5,367.6 1423.9,364.4 1424.3,360.5 1424.7,356.1 1425.1,351.3 1425.5,346.2 1425.9,341.0 1426.3,335.8 1426.7,330.8 1427.1,326.1 1427.5,321.9 1427.9,318.4 1428.3,315.6 1428.7,313.8 1429.1,313.0 1429.5,313.4 1429.9,314.7 1430.3,317.0 1430.7,320.0 1431.1,323.5 1431.5,327.5 1431.9,331.9 1432.3,336.4 1432.7,340.9 1433.1,345.3 1433.5,349.5 1433.9,353.3 1434.3,356.6 1434.7,359.3 1435.1,361.1 1435.5,362.0 1435.9,361.8 1436.3,360.9 1436.7,359.2 1437.1,356.9 1437.5,354.2 1437.9,351.0 1438.3,347.5 1438.7,343.9 1439.1,340.1 1439.5,336.4 1439.9,332.9 1440.3,329.5 1440.7,326.6 1441.1,324.0 1441.5,322.1 1441.9,320.7 1442.3,320.2 1442.7,320.4 1443.1,320.9 1443.5,321.9 1443.9,323.2 1444.3,324.8 1444.7,326.7 1445.1,328.7 1445.5,331.0 1445.9,333.3 1446.3,335.8 1446.7,338.3 1447.1,340.8 1447.5,343.2 1447.9,345.6 1448.3,347.9 1448.7,349.9 1449.1,351.8 1449.5,353.4 1449.9,354.8 1450.3,355.8 1450.7,356.4 1451.1,356.6 1451.5,356.2 1451.9,355.4 1452.3,354.2 1452.7,352.6 1453.1,350.7 1453.5,348.5 1453.9,346.1 1454.3,343.6 1454.7,341.0 1455.1,338.4 1455.5,335.9 1455.9,333.4 1456.3,331.2 1456.7,329.1 1457.1,327.3 1457.5,325.9 1457.9,324.8 1458.3,324.3 1458.7,324.2 1459.1,324.8 1459.5,325.8 1459.9,327.3 1460.3,329.2 1460.7,331.4 1461.1,333.9 1461.5,336.5 1461.9,339.2 1462.3,341.9 1462.7,344.5 1463.1,347.1 1463.5,349.4 1463.9,351.5 1464.3,353.3 1464.7,354.6 1465.1,355.5 1465.5,355.8 1465.9,355.4 1466.3,354.2 1466.7,352.3 1467.1,349.8 1467.5,347.0 1467.9,343.8 1468.3,340.4 1468.7,337.0 1469.1,333.6 1469.5,330.5 1469.9,327.6 1470.3,325.2 1470.7,323.3 1471.1,322.1 1471.5,321.7 1471.9,322.2 1472.3,323.4 1472.7,325.4 1473.1,327.9 1473.5,330.8 1473.9,334.1 1474.3,337.7 1474.7,341.3 1475.1,345.0 1475.5,348.5 1475.9,351.8 1476.3,354.8 1476.7,357.4 1477.1,359.4 1477.5,360.7 1477.9,361.3 1478.3,360.9 1478.7,359.7 1479.1,357.7 1479.5,355.0 1479.9,351.7 1480.3,348.1 1480.7,344.2 1481.1,340.0 1481.5,335.8 1481.9,331.7 1482.3,327.7 1482.7,324.0 1483.1,320.8 1483.5,318.0 1483.9,316.0 1484.3,314.6 1484.7,314.2 1485.1,314.8 1485.5,316.4 1485.9,318.9 1486.3,322.1 1486.7,326.0 1487.1,330.2 1487.5,334.8 1487.9,339.6 1488.3,344.4 1488.7,349.1 1489.1,353.6 1489.5,357.8 1489.9,361.4 1490.3,364.4 1490.7,366.6 1491.1,367.9 1491.5,368.2 1491.9,367.6 1492.3,366.3 1492.7,364.4 1493.1,361.9 1493.5,358.9 1493.9,355.6 1494.3,351.9 1494.7,347.9 1495.1,343.8 1495.5,339.7 1495.9,335.5 1496.3,331.4 1496.7,327.5 1497.1,323.8 1497.5,320.4 1497.9,317.4 1498.3,314.9 1498.7,312.9 1499.1,311.6 1499.5,311.0 1499.9,311.4 1500.3,313.2 1500.7,316.1 1501.1,320.1 1501.5,324.9 1501.9,330.2 1502.3,335.8 1502.7,341.6 1503.1,347.2 1503.5,352.4 1503.9,357.1 1504.3,361.0 1504.7,363.9 1505.1,365.5 1505.5,365.7 1505.9,364.6 1506.3,362.4 1506.7,359.3 1507.1,355.5 1507.5,351.2 1507.9,346.5 1508.3,341.6 1508.7,336.7 1509.1,331.9 1509.5,327.5 1509.9,323.6 1510.3,320.5 1510.7,318.2 1511.1,316.9 1511.5,316.8 1511.9,317.8 1512.3,319.8 1512.7,322.5 1513.1,325.9 1513.5,329.7 1513.9,333.9 1514.3,338.2 1514.7,342.6 1515.1,346.9 1515.5,351.0 1515.9,354.7 1516.3,357.8 1516.7,360.3 1517.1,361.9 1517.5,362.5 1517.9,362.2 1518.3,361.2 1518.7,359.5 1519.1,357.3 1519.5,354.7 1519.9,351.7 1520.3,348.4 1520.7,344.8 1521.1,341.2 1521.5,337.5 1521.9,333.9 1522.3,330.4 1522.7,327.1 1523.1,324.1 1523.5,321.5 1523.9,319.4 1524.3,317.9 1524.7,316.9 1525.1,316.7 1525.5,317.3 1525.9,318.7 1526.3,320.7 1526.7,323.2 1527.1,326.3 1527.5,329.7 1527.9,333.3 1528.3,337.2 1528.7,341.2 1529.1,345.2 1529.5,349.1 1529.9,352.8 1530.3,356.3 1530.7,359.4 1531.1,362.1 1531.5,364.2 1531.9,365.7 1532.3,366.4 1532.7,366.3 1533.1,365.2 1533.5,363.3 1533.9,360.5 1534.3,357.1 1534.7,353.1 1535.1,348.8 1535.5,344.2 1535.9,339.5 1536.3,334.7 1536.7,330.0 1537.1,325.6 1537.5,321.5 1537.9,317.9 1538.3,315.0 1538.7,312.7 1539.1,311.4 1539.5,311.0 1539.9,311.7 1540.3,313.5 1540.7,316.2 1541.1,319.7 1541.5,323.8 1541.9,328.3 1542.3,333.2 1542.7,338.3 1543.1,343.4 1543.5,348.4 1543.9,353.1 1544.3,357.5 1544.7,361.3 1545.1,364.4 1545.5,366.7 1545.9,368.0 1546.3,368.2 1546.7,367.3 1547.1,365.5 1547.5,362.9 1547.9,359.7 1548.3,355.8 1548.7,351.6 1549.1,347.0 1549.5,342.3 1549.9,337.5 1550.3,332.8 1550.7,328.3 1551.1,324.2 1551.5,320.5 1551.9,317.3 1552.3,314.9 1552.7,313.3 1553.1,312.7 1553.5,313.1 1553.9,314.3 1554.3,316.3 1554.7,319.0 1555.1,322.1 1555.5,325.7 1555.9,329.6 1556.3,333.7 1556.7,337.8 1557.1,342.0 1557.5,346.0 1557.9,349.8 1558.3,353.2 1558.7,356.2 1559.1,358.5 1559.5,360.2 1559.9,361.2 1560.3,361.2 1560.7,360.7 1561.1,359.7 1561.5,358.2 1561.9,356.4 1562.3,354.3 1562.7,351.9 1563.1,349.4 1563.5,346.7 1563.9,343.9 1564.3,341.1 1564.7,338.3 1565.1,335.7 1565.5,333.2 1565.9,330.9 1566.3,328.9 1566.7,327.2 1567.1,325.9 1567.5,325.0 1568.0,324.7 1568.4,325.0 1568.8,326.1 1569.2,327.9 1569.6,330.3 1570.0,333.0 1570.4,336.0 1570.8,339.1 1571.2,342.2 1571.6,345.2 1572.0,347.9 1572.4,350.2 1572.8,351.9 1573.2,353.0 1573.6,353.3 1574.0,352.9 1574.4,352.1 1574.8,350.9 1575.2,349.3 1575.6,347.4 1576.0,345.2 1576.4,342.9 1576.8,340.4 1577.2,337.9 1577.6,335.4 1578.0,332.9 1578.4,330.5 1578.8,328.3 1579.2,326.3 1579.6,324.6 1580.0,323.2 1580.4,322.3 1580.8,321.7 1581.2,321.8 1581.6,322.4 1582.0,323.5 1582.4,325.2 1582.8,327.2 1583.2,329.5 1583.6,332.2 1584.0,335.0 1584.4,337.9 1584.8,340.9 1585.2,343.9 1585.6,346.8 1586.0,349.5 1586.4,352.1 1586.8,354.3 1587.2,356.2 1587.6,357.7 1588.0,358.6 1588.4,359.0 1588.8,358.7 1589.2,357.6 1589.6,355.8 1590.0,353.3 1590.4,350.4 1590.8,347.2 1591.2,343.7 1591.6,340.1 1592.0,336.6 1592.4,333.1 1592.8,329.9 1593.2,327.1 1593.6,324.7 1594.0,322.9 1594.4,321.9 1594.8,321.7 1595.2,322.1 1595.6,323.1 1596.0,324.4 1596.4,326.1 1596.8,328.1 1597.2,330.3 1597.6,332.7 1598.0,335.2 1598.4,337.7 1598.8,340.2 1599.2,342.5 1599.6,344.7 1600.0,346.7 1600.4,348.3 1600.8,349.6 1601.2,350.5 1601.6,350.8 1602.0,350.8 1602.4,350.5 1602.8,350.1 1603.2,349.5 1603.6,348.8 1604.0,347.9 1604.4,347.0 1604.8,346.0 1605.2,345.0 1605.6,343.9 1606.0,342.8 1606.4,341.7 1606.8,340.6 1607.2,339.5 1607.6,338.5 1608.0,337.6 1608.4,336.7 1608.8,336.0 1609.2,335.4 1609.6,335.0 1610.0,334.7 1610.4,334.6 1610.8,334.7 1611.2,335.0 1611.6,335.4 1612.0,335.9 1612.4,336.5 1612.8,337.2 1613.2,337.9 1613.6,338.6 1614.0,339.3 1614.4,340.0 1614.8,340.6 1615.2,341.2 1615.6,341.6 1616.0,341.9 1616.4,342.1 1616.8,342.1 1617.2,341.9 1617.6,341.5 1618.0,340.9 1618.4,340.2 1618.8,339.5 1619.2,338.7 1619.6,337.8 1620.0,337.0 1620.4,336.2 1620.8,335.5 1621.2,334.9 1621.6,334.5 1622.0,334.2 1622.4,334.1 1622.8,334.4 1623.2,334.9 1623.6,335.8 1624.0,336.8 1624.4,338.1 1624.8,339.4 1625.2,340.9 1625.6,342.4 1626.0,344.0 1626.4,345.4 1626.8,346.9 1627.2,348.2 1627.6,349.3 1628.0,350.2 1628.4,350.9 1628.8,351.3 1629.2,351.3 1629.6,350.8 1630.0,349.9 1630.4,348.7 1630.8,347.1 1631.2,345.2 1631.6,343.1 1632.0,340.8 1632.4,338.4 1632.8,336.0 1633.2,333.5 1633.6,331.2 1634.0,328.9 1634.4,326.8 1634.8,325.0 1635.2,323.4 1635.6,322.2 1636.0,321.3 1636.4,321.0 1636.8,321.1 1637.2,322.1 1637.6,323.6 1638.0,325.8 1638.4,328.4 1638.8,331.3 1639.2,334.6 1639.6,338.0 1640.0,341.5 1640.4,345.1 1640.8,348.5 1641.2,351.7 1641.6,354.7 1642.0,357.3 1642.4,359.4 1642.8,360.9 1643.2,361.8 1643.6,362.0 1644.0,361.3 1644.4,359.8 1644.8,357.6 1645.2,354.8 1645.6,351.6 1646.0,348.1 1646.4,344.3 1646.8,340.4 1647.2,336.5 1647.6,332.6 1648.0,329.0 1648.4,325.7 1648.8,322.9 1649.2,320.6 1649.6,318.9 1650.0,318.1 1650.4,318.0 1650.8,318.7 1651.2,319.8 1651.6,321.5 1652.0,323.6 1652.4,326.0 1652.8,328.7 1653.2,331.5 1653.6,334.6 1654.0,337.6 1654.4,340.7 1654.8,343.7 1655.2,346.5 1655.6,349.1 1656.0,351.4 1656.4,353.4 1656.8,354.9 1657.2,355.9 1657.6,356.3 1658.0,356.1 1658.4,355.5 1658.8,354.5 1659.2,353.1 1659.6,351.5 1660.0,349.6 1660.4,347.5 1660.8,345.2 1661.2,342.9 1661.6,340.6 1662.0,338.3 1662.4,336.0 1662.8,333.9 1663.2,332.0 1663.6,330.4 1664.0,329.0 1664.4,328.0 1664.8,327.3 1665.2,327.2 1665.6,327.4 1666.0,328.1 1666.4,329.0 1666.8,330.2 1667.2,331.6 1667.6,333.2 1668.0,334.9 1668.4,336.7 1668.8,338.6 1669.2,340.4 1669.6,342.1 1670.0,343.7 1670.4,345.1 1670.8,346.4 1671.2,347.4 1671.6,348.0 1672.0,348.3 1672.4,348.2 1672.8,347.4 1673.2,346.1 1673.6,344.4 1674.0,342.5 1674.4,340.3 1674.8,338.1 1675.2,336.0 1675.6,334.0 1676.0,332.4 1676.4,331.1 1676.8,330.3 1677.2,330.2 1677.6,330.6 1678.0,331.4 1678.4,332.6 1678.8,334.0 1679.2,335.7 1679.6,337.6 1680.0,339.5 1680.4,341.5 1680.8,343.3 1681.2,345.1 1681.6,346.7 1682.0,348.0 1682.4,348.9 1682.8,349.5 1683.2,349.5 1683.6,349.1 1684.0,348.3 1684.4,347.1 1684.8,345.6 1685.2,343.9 1685.6,341.9 1686.0,339.8 1686.4,337.7 1686.8,335.5 1687.2,333.3 1687.6,331.3 1688.0,329.4 1688.4,327.7 1688.8,326.3 1689.2,325.2 1689.6,324.5 1690.0,324.2 1690.4,324.5 1690.8,325.5 1691.2,327.0 1691.6,329.1 1692.0,331.5 1692.4,334.3 1692.8,337.2 1693.2,340.3 1693.6,343.5 1694.0,346.6 1694.4,349.6 1694.8,352.3 1695.2,354.7 1695.6,356.8 1696.0,358.3 1696.4,359.3 1696.8,359.5 1697.2,359.1 1697.6,358.0 1698.0,356.4 1698.4,354.2 1698.8,351.7 1699.2,348.8 1699.6,345.6 1700.0,342.2 1700.4,338.7 1700.8,335.2 1701.2,331.7 1701.6,328.4 1702.0,325.2 1702.4,322.2 1702.8,319.7 1703.2,317.5 1703.6,315.8 1704.0,314.7 1704.4,314.2 1704.8,314.5 1705.2,315.5 1705.6,317.3 1706.0,319.6 1706.4,322.5 1706.8,325.7 1707.2,329.4 1707.6,333.3 1708.0,337.4 1708.4,341.5 1708.8,345.7 1709.2,349.9 1709.6,353.8 1710.0,357.5 1710.4,360.9 1710.8,363.9 1711.2,366.4 1711.6,368.3 1712.0,369.5 1712.4,370.0 1712.8,369.6 1713.2,368.3 1713.6,366.1 1714.0,363.3 1714.4,359.9 1714.8,356.0 1715.2,351.7 1715.6,347.2 1716.0,342.5 1716.4,337.8 1716.8,333.1 1717.2,328.6 1717.6,324.4 1718.0,320.5 1718.4,317.2 1718.8,314.5 1719.2,312.5 1719.6,311.3 1720.0,311.0 1720.4,311.8 1720.8,313.4 1721.2,315.9 1721.6,319.0 1722.0,322.6 1722.4,326.6 1722.8,330.9 1723.2,335.4 1723.6,339.9 1724.0,344.2 1724.4,348.4 1724.8,352.2 1725.2,355.5 1725.6,358.1 1726.0,360.1 1726.4,361.1 1726.8,361.2 1727.2,360.8 1727.6,359.9 1728.0,358.6 1728.4,357.0 1728.8,355.2 1729.2,353.1 1729.6,350.8 1730.0,348.4 1730.4,346.0 1730.8,343.5 1731.2,341.1 1731.6,338.8 1732.0,336.6 1732.4,334.7 1732.8,332.9 1733.2,331.5 1733.6,330.5 1734.0,329.8 1734.4,329.7 1734.8,329.9 1735.2,330.4 1735.6,331.3 1736.0,332.3 1736.4,333.4 1736.8,334.7 1737.2,336.0 1737.6,337.3 1738.0,338.5 1738.4,339.6 1738.8,340.5 1739.2,341.2 1739.6,341.6 1740.0,341.6 1740.4,341.5 1740.8,341.2 1741.2,340.8 1741.6,340.4 1742.0,339.9 1742.4,339.3 1742.8,338.8 1743.2,338.3 1743.6,337.8 1744.0,337.3 1744.4,337.0 1744.8,336.7 1745.2,336.6 1745.6,336.7 1746.0,336.9 1746.4,337.3 1746.8,337.9 1747.2,338.6 1747.6,339.3 1748.0,340.1 1748.4,341.0 1748.8,341.8 1749.2,342.6 1749.6,343.4 1750.0,344.2 1750.4,344.8 1750.8,345.3 1751.2,345.6 1751.6,345.8 1752.0,345.8 1752.4,345.4 1752.8,344.7 1753.2,343.7 1753.6,342.4 1754.0,341.0 1754.4,339.5 1754.8,337.9 1755.2,336.2 1755.6,334.6 1756.0,333.0 1756.4,331.5 1756.8,330.1 1757.2,329.0 1757.6,328.1 1758.0,327.4 1758.4,327.2 1758.8,327.4 1759.2,328.2 1759.6,329.7 1760.0,331.6 1760.4,333.9 1760.8,336.6 1761.2,339.4 1761.6,342.4 1762.0,345.5 1762.4,348.5 1762.8,351.4 1763.2,354.1 1763.6,356.6 1764.0,358.6 1764.4,360.1 1764.8,361.2 1765.2,361.5 1765.6,361.2 1766.0,360.0 1766.4,358.2 1766.8,355.9 1767.2,353.0 1767.6,349.8 1768.0,346.3 1768.4,342.5 1768.8,338.7 1769.2,334.8 1769.6,330.9 1770.0,327.2 1770.4,323.8 1770.8,320.7 1771.2,317.9 1771.6,315.7 1772.0,314.1 1772.4,313.2 1772.8,313.0 1773.2,314.0 1773.6,316.1 1774.0,319.1 1774.4,322.9 1774.8,327.3 1775.2,332.2 1775.6,337.3 1776.0,342.6 1776.4,347.8 1776.8,352.9 1777.2,357.6 1777.6,361.7 1778.0,365.2 1778.4,367.9 1778.8,369.5 1779.2,370.0 1779.6,369.3 1780.0,367.5 1780.4,364.8 1780.8,361.3 1781.2,357.2 1781.6,352.6 1782.0,347.6 1782.4,342.4 1782.8,337.1 1783.2,331.9 1783.6,326.8 1784.0,322.1 1784.4,317.9 1784.8,314.3 1785.2,311.4 1785.6,309.5 1786.0,308.5 1786.4,308.7 1786.8,309.7 1787.2,311.4 1787.6,313.7 1788.0,316.6 1788.4,320.0 1788.8,323.7 1789.2,327.8 1789.6,332.0 1790.0,336.3 1790.4,340.7 1790.8,345.0 1791.2,349.2 1791.6,353.1 1792.0,356.6 1792.4,359.8 1792.8,362.4 1793.2,364.5 1793.6,365.9 1794.0,366.5 1794.4,366.4 1794.8,365.9 1795.2,365.1 1795.6,363.9 1796.0,362.5 1796.4,360.8 1796.8,358.8 1797.2,356.7 1797.6,354.4 1798.0,352.0 1798.4,349.5 1798.8,346.9 1799.2,344.2 1799.6,341.6 1800.0,339.0 1800.4,336.4 1800.8,333.9 1801.2,331.6 1801.6,329.3 1802.0,327.3 1802.4,325.5 1802.8,323.9 1803.2,322.5 1803.6,321.5 1804.0,320.8 1804.4,320.5 1804.8,320.5 1805.2,320.8 1805.6,321.4 1806.0,322.2 1806.4,323.2 1806.8,324.4 1807.2,325.8 1807.6,327.3 1808.0,328.9 1808.4,330.6 1808.8,332.3 1809.2,334.2 1809.6,336.0 1810.0,337.8 1810.4,339.6 1810.8,341.3 1811.2,343.0 1811.6,344.6 1812.0,346.0 1812.4,347.3 1812.8,348.5 1813.2,349.4 1813.6,350.1 1814.0,350.6 1814.4,350.8 1814.8,350.8 1815.2,350.5 1815.6,350.0 1816.1,349.4 1816.5,348.6 1816.9,347.6 1817.3,346.6 1817.7,345.4 1818.1,344.1 1818.5,342.8 1818.9,341.4 1819.3,340.0 1819.7,338.6 1820.1,337.2 1820.5,335.8 1820.9,334.4 1821.3,333.1 1821.7,331.9 1822.1,330.8 1822.5,329.8 1822.9,328.9 1823.3,328.2 1823.7,327.7 1824.1,327.3 1824.5,327.2 1824.9,327.3 1825.3,327.6 1825.7,328.2 1826.1,329.0 1826.5,329.9 1826.9,331.1 1827.3,332.3 1827.7,333.7 1828.1,335.2 1828.5,336.8 1828.9,338.4 1829.3,340.1 1829.7,341.8 1830.1,343.5 1830.5,345.1 1830.9,346.7 1831.3,348.2 1831.7,349.6 1832.1,350.9 1832.5,352.1 1832.9,353.1 1833.3,353.9 1833.7,354.5 1834.1,354.9 1834.5,355.1 1834.9,354.8 1835.3,354.2 1835.7,353.1 1836.1,351.7 1836.5,349.9 1836.9,348.0 1837.3,345.8 1837.7,343.4 1838.1,340.9 1838.5,338.4 1838.9,335.9 1839.3,333.4 1839.7,330.9 1840.1,328.6 1840.5,326.5 1840.9,324.6 1841.3,323.0 1841.7,321.7 1842.1,320.8 1842.5,320.3 1842.9,320.3 1843.3,321.3 1843.7,323.2 1844.1,326.0 1844.5,329.4 1844.9,333.2 1845.3,337.4 1845.7,341.8 1846.1,346.1 1846.5,350.3 1846.9,354.2 1847.3,357.7 1847.7,360.5 1848.1,362.5 1848.5,363.6 1848.9,363.7 1849.3,362.7 1849.7,360.9 1850.1,358.3 1850.5,355.1 1850.9,351.4 1851.3,347.3 1851.7,342.9 1852.1,338.4 1852.5,333.9 1852.9,329.4 1853.3,325.2 1853.7,321.3 1854.1,317.9 1854.5,315.0 1854.9,312.8 1855.3,311.4 1855.7,311.0 1856.1,311.7 1856.5,313.5 1856.9,316.2 1857.3,319.8 1857.7,324.1 1858.1,328.8 1858.5,333.9 1858.9,339.3 1859.3,344.6 1859.7,349.9 1860.1,354.9 1860.5,359.5 1860.9,363.6 1861.3,366.9 1861.7,369.4 1862.1,370.9 1862.5,371.2 1862.9,370.9 1863.3,370.1 1863.7,369.0 1864.1,367.4 1864.5,365.6 1864.9,363.4 1865.3,361.0 1865.7,358.4 1866.1,355.5 1866.5,352.5 1866.9,349.4 1867.3,346.1 1867.7,342.8 1868.1,339.5 1868.5,336.1 1868.9,332.8 1869.3,329.5 1869.7,326.4 1870.1,323.3 1870.5,320.5 1870.9,317.8 1871.3,315.4 1871.7,313.2 1872.1,311.3 1872.5,309.7 1872.9,308.5 1873.3,307.7 1873.7,307.3 1874.1,307.3 1874.5,307.5 1874.9,307.9 1875.3,308.5 1875.7,309.2 1876.1,310.1 1876.5,311.2 1876.9,312.4 1877.3,313.7 1877.7,315.1 1878.1,316.6 1878.5,318.3 1878.9,320.0 1879.3,321.7 1879.7,323.6 1880.1,325.5 1880.5,327.4 1880.9,329.4 1881.3,331.4 1881.7,333.4 1882.1,335.4 1882.5,337.5 1882.9,339.4 1883.3,341.4 1883.7,343.3 1884.1,345.2 1884.5,347.0 1884.9,348.8 1885.3,350.5 1885.7,352.0 1886.1,353.5 1886.5,354.9 1886.9,356.2 1887.3,357.3 1887.7,358.3 1888.1,359.1 1888.5,359.8 1888.9,360.3 1889.3,360.6 1889.7,360.8 1890.1,360.7 1890.5,360.3 1890.9,359.6 1891.3,358.7 1891.7,357.5 1892.1,356.2 1892.5,354.6 1892.9,353.0 1893.3,351.2 1893.7,349.3 1894.1,347.3 1894.5,345.3 1894.9,343.3 1895.3,341.3 1895.7,339.3 1896.1,337.4 1896.5,335.5 1896.9,333.8 1897.3,332.2 1897.7,330.8 1898.1,329.6 1898.5,328.6 1898.9,327.8 1899.3,327.4 1899.7,327.2 1900.1,327.5 1900.5,328.4 1900.9,329.9 1901.3,331.8 1901.7,334.0 1902.1,336.3 1902.5,338.7 1902.9,341.1 1903.3,343.2 1903.7,344.9 1904.1,346.2 1904.5,347.0 1904.9,347.1 1905.3,346.8 1905.7,346.3 1906.1,345.7 1906.5,344.8 1906.9,343.9 1907.3,342.8 1907.7,341.6 1908.1,340.4 1908.5,339.1 1908.9,337.8 1909.3,336.6 1909.7,335.5 1910.1,334.4 1910.5,333.4 1910.9,332.6 1911.3,332.0 1911.7,331.6 1912.1,331.4 1912.5,331.6 1912.9,332.2 1913.3,333.3 1913.7,334.7 1914.1,336.5 1914.5,338.3 1914.9,340.3 1915.3,342.4 1915.7,344.4 1916.1,346.2 1916.5,347.9 1916.9,349.2 1917.3,350.2 1917.7,350.7 1918.1,350.7 1918.5,350.1 1918.9,348.9 1919.3,347.1 1919.7,345.0 1920.1,342.6 1920.5,339.9 1920.9,337.1 1921.3,334.3 1921.7,331.6 1922.1,329.0 1922.5,326.7 1922.9,324.7 1923.3,323.1 1923.7,322.1 1924.1,321.7 1924.5,322.0 1924.9,323.0 1925.3,324.6 1925.7,326.8 1926.1,329.3 1926.5,332.3 1926.9,335.4 1927.3,338.8 1927.7,342.2 1928.1,345.5 1928.5,348.8 1928.9,351.9 1929.3,354.7 1929.7,357.1 1930.1,359.0 1930.5,360.4 1930.9,361.2 1931.3,361.2 1931.7,360.8 1932.1,359.9 1932.5,358.7 1932.9,357.1 1933.3,355.2 1933.7,353.1 1934.1,350.8 1934.5,348.3 1934.9,345.7 1935.3,343.0 1935.7,340.2 1936.1,337.4 1936.5,334.7 1936.9,332.1 1937.3,329.6 1937.7,327.3 1938.1,325.1 1938.5,323.2 1938.9,321.6 1939.3,320.4 1939.7,319.5 1940.1,319.0 1940.5,319.0 1940.9,319.2 1941.3,319.6 1941.7,320.1 1942.1,320.9 1942.5,321.8 1942.9,322.8 1943.3,324.0 1943.7,325.3 1944.1,326.6 1944.5,328.1 1944.9,329.7 1945.3,331.3 1945.7,332.9 1946.1,334.6 1946.5,336.4 1946.9,338.1 1947.3,339.8 1947.7,341.5 1948.1,343.2 1948.5,344.9 1948.9,346.4 1949.3,347.9 1949.7,349.4 1950.1,350.7 1950.5,351.9 1950.9,353.0 1951.3,354.0 1951.7,354.8 1952.1,355.5 1952.5,355.9 1952.9,356.2 1953.3,356.3 1953.7,356.2 1954.1,356.0 1954.5,355.6 1954.9,355.1 1955.3,354.5 1955.7,353.8 1956.1,353.0 1956.5,352.1 1956.9,351.2 1957.3,350.1 1957.7,349.0 1958.1,347.9 1958.5,346.7 1958.9,345.4 1959.3,344.1 1959.7,342.9 1960.1,341.5 1960.5,340.2 1960.9,338.9 1961.3,337.7 1961.7,336.4 1962.1,335.2 1962.5,334.0 1962.9,332.8 1963.3,331.7 1963.7,330.7 1964.1,329.8 1964.5,328.9 1964.9,328.1 1965.3,327.5 1965.7,326.9 1966.1,326.5 1966.5,326.1 1966.9,326.0 1967.3,325.9 1967.7,326.0 1968.1,326.1 1968.5,326.2 1968.9,326.4 1969.3,326.7 1969.7,327.0 1970.1,327.3 1970.5,327.7 1970.9,328.2 1971.3,328.7 1971.7,329.2 1972.1,329.7 1972.5,330.3 1972.9,330.9 1973.3,331.5 1973.7,332.2 1974.1,332.9 1974.5,333.6 1974.9,334.3 1975.3,335.1 1975.7,335.9 1976.1,336.6 1976.5,337.4 1976.9,338.2 1977.3,339.0 1977.7,339.8 1978.1,340.6 1978.5,341.4 1978.9,342.2 1979.3,343.0 1979.7,343.8 1980.1,344.6 1980.5,345.4 1980.9,346.1 1981.3,346.9 1981.7,347.6 1982.1,348.3 1982.5,349.0 1982.9,349.6 1983.3,350.3 1983.7,350.9 1984.1,351.5 1984.5,352.0 1984.9,352.5 1985.3,353.0 1985.7,353.4 1986.1,353.8 1986.5,354.1 1986.9,354.4 1987.3,354.6 1987.7,354.8 1988.1,355.0 1988.5,355.0 1988.9,355.1 1989.3,354.8 1989.7,354.3 1990.1,353.5 1990.5,352.3 1990.9,351.0 1991.3,349.4 1991.7,347.7 1992.1,345.8 1992.5,343.8 1992.9,341.7 1993.3,339.6 1993.7,337.4 1994.1,335.3 1994.5,333.1 1994.9,331.1 1995.3,329.2 1995.7,327.3 1996.1,325.7 1996.5,324.2 1996.9,323.0 1997.3,322.0 1997.7,321.4 1998.1,321.0 1998.5,321.0 1998.9,321.7 1999.3,323.0 1999.7,324.8 2000.1,327.2 2000.5,330.1 2000.9,333.3 2001.3,336.9 2001.7,340.8 2002.1,345.0 2002.5,349.3 2002.9,353.8 2003.3,358.3" fill="none" stroke="#0000ff" stroke-width="1.6" stroke-linejoin="round" />
<text x="201.8" y="286" font-size="46.3" letter-spacing="0.9" text-anchor="middle"  >0.2</text>
<text x="215.6" y="356" font-size="46.3" letter-spacing="0.9" text-anchor="middle"  >0</text>
<text x="191.9" y="426.5" font-size="46.3" letter-spacing="0.9" text-anchor="middle"  >−0.2</text>
<text x="237.5" y="463.5" font-size="46.3" letter-spacing="0.9" text-anchor="middle"  >0</text>
<text x="401.2" y="463.5" font-size="46.3" letter-spacing="0.9" text-anchor="middle"  >400</text>
<text x="566.2" y="463.5" font-size="46.3" letter-spacing="0.9" text-anchor="middle"  >800</text>
<text x="735" y="462" font-size="46.3" letter-spacing="0.9" text-anchor="middle"  >1200</text>
<text x="899.3" y="459.5" font-size="46.3" letter-spacing="0.9" text-anchor="middle"  >1600</text>
<text x="1058.1" y="459.5" font-size="46.3" letter-spacing="0.9" text-anchor="middle"  >2000</text>
<text x="101.9" y="358.4" font-size="70" font-style="italic">c</text>
<text x="130.5" y="375" font-size="42">3</text>
<text x="1131.5" y="292.3" font-size="46.3" letter-spacing="0.9" text-anchor="middle"  >0.2</text>
<text x="1145.2" y="355.8" font-size="46.3" letter-spacing="0.9" text-anchor="middle"  >0</text>
<text x="1121" y="423" font-size="46.3" letter-spacing="0.9" text-anchor="middle"  >−0.2</text>
<text x="1179.8" y="466" font-size="46.3" letter-spacing="0.9" text-anchor="middle"  >0</text>
<text x="1342" y="465.4" font-size="46.3" letter-spacing="0.9" text-anchor="middle"  >400</text>
<text x="1506.9" y="465.4" font-size="46.3" letter-spacing="0.9" text-anchor="middle"  >800</text>
<text x="1676.2" y="465.4" font-size="46.3" letter-spacing="0.9" text-anchor="middle"  >1200</text>
<text x="1840.6" y="463" font-size="46.3" letter-spacing="0.9" text-anchor="middle"  >1600</text>
<text x="1998.7" y="463" font-size="46.3" letter-spacing="0.9" text-anchor="middle"  >2000</text>
<text x="2018" y="353.3" font-size="70" font-style="italic">c</text>
<text x="2049.1" y="368.3" font-size="42">4</text>
<rect x="235.0" y="478.5" width="830.0" height="155.0" fill="none" stroke="#000" stroke-width="1.8"/>
<path d="M318.0 478.5v8.0M318.0 633.5v-8.0M401.0 478.5v8.0M401.0 633.5v-8.0M484.0 478.5v8.0M484.0 633.5v-8.0M567.0 478.5v8.0M567.0 633.5v-8.0M650.0 478.5v8.0M650.0 633.5v-8.0M733.0 478.5v8.0M733.0 633.5v-8.0M816.0 478.5v8.0M816.0 633.5v-8.0M899.0 478.5v8.0M899.0 633.5v-8.0M982.0 478.5v8.0M982.0 633.5v-8.0M235.0 556.0h8.0M1065.0 556.0h-8.0" stroke="#000" stroke-width="1.7" fill="none"/>
<polyline points="235.2,624.3 235.7,617.3 236.2,610.2 236.7,603.2 237.2,596.2 237.7,589.2 238.2,582.4 238.7,575.6 239.2,569.0 239.7,562.5 240.2,556.1 240.7,549.9 241.2,544.0 241.7,538.2 242.2,532.6 242.7,527.3 243.2,522.3 243.7,517.5 244.2,513.0 244.7,508.9 245.2,505.1 245.7,501.7 246.2,498.6 246.7,495.9 247.2,493.7 247.7,491.8 248.2,490.5 248.7,489.5 249.2,488.9 249.7,488.8 250.2,488.9 250.7,489.3 251.2,489.9 251.7,490.8 252.2,491.8 252.7,493.1 253.2,494.4 253.7,496.0 254.2,497.7 254.7,499.6 255.2,501.6 255.7,503.8 256.2,506.1 256.7,508.5 257.2,511.0 257.7,513.6 258.2,516.3 258.7,519.1 259.2,522.0 259.7,525.0 260.2,528.0 260.7,531.1 261.2,534.3 261.7,537.4 262.2,540.7 262.7,543.9 263.2,547.2 263.7,550.4 264.2,553.7 264.7,557.0 265.2,560.3 265.7,563.5 266.2,566.7 266.7,569.9 267.2,573.1 267.7,576.1 268.2,579.2 268.7,582.1 269.2,585.0 269.7,587.8 270.2,590.6 270.7,593.2 271.2,595.7 271.7,598.1 272.2,600.4 272.7,602.6 273.2,604.6 273.7,606.5 274.2,608.2 274.7,609.8 275.2,611.2 275.7,612.4 276.2,613.4 276.7,614.3 277.2,614.9 277.7,615.4 278.2,615.6 278.7,615.5 279.2,615.2 279.7,614.5 280.2,613.5 280.7,612.3 281.2,610.7 281.7,608.9 282.2,606.8 282.7,604.4 283.2,601.8 283.7,599.0 284.2,596.1 284.7,592.9 285.2,589.6 285.7,586.1 286.2,582.5 286.7,578.8 287.2,575.0 287.7,571.1 288.2,567.2 288.7,563.2 289.2,559.2 289.7,555.2 290.2,551.2 290.7,547.2 291.2,543.3 291.7,539.4 292.2,535.6 292.7,531.8 293.2,528.2 293.7,524.8 294.2,521.4 294.7,518.2 295.2,515.2 295.7,512.4 296.2,509.8 296.7,507.4 297.2,505.3 297.7,503.4 298.2,501.9 298.7,500.6 299.2,499.6 299.7,498.9 300.2,498.7 300.7,498.8 301.2,499.4 301.7,500.4 302.2,501.9 302.7,503.8 303.2,506.1 303.7,508.8 304.2,511.8 304.7,515.1 305.2,518.7 305.7,522.5 306.2,526.6 306.7,530.8 307.2,535.3 307.7,539.8 308.2,544.4 308.7,549.1 309.2,553.8 309.7,558.5 310.2,563.1 310.7,567.7 311.2,572.2 311.7,576.6 312.2,580.8 312.7,584.8 313.2,588.6 313.7,592.2 314.2,595.4 314.7,598.4 315.2,600.9 315.7,603.2 316.2,605.0 316.7,606.3 317.2,607.3 317.7,607.8 318.2,607.9 318.7,607.6 319.2,607.0 319.7,606.1 320.2,605.0 320.7,603.6 321.2,602.0 321.7,600.1 322.2,598.1 322.7,595.9 323.2,593.4 323.7,590.9 324.2,588.1 324.7,585.3 325.2,582.3 325.7,579.2 326.2,576.0 326.7,572.8 327.2,569.5 327.7,566.1 328.2,562.7 328.7,559.2 329.2,555.8 329.7,552.3 330.2,548.9 330.7,545.5 331.2,542.2 331.7,538.9 332.2,535.7 332.7,532.5 333.2,529.5 333.7,526.6 334.2,523.8 334.7,521.2 335.2,518.7 335.7,516.4 336.2,514.2 336.7,512.3 337.2,510.6 337.7,509.1 338.2,507.8 338.7,506.8 339.2,506.0 339.7,505.6 340.2,505.4 340.7,505.5 341.2,505.9 341.7,506.5 342.2,507.4 342.7,508.6 343.2,510.0 343.7,511.6 344.2,513.4 344.7,515.4 345.2,517.6 345.7,520.0 346.2,522.5 346.7,525.1 347.2,527.9 347.7,530.8 348.2,533.8 348.7,536.8 349.2,539.9 349.7,543.1 350.2,546.3 350.7,549.6 351.2,552.8 351.7,556.0 352.2,559.3 352.7,562.5 353.2,565.6 353.7,568.7 354.2,571.7 354.7,574.7 355.2,577.5 355.7,580.2 356.2,582.8 356.7,585.3 357.2,587.6 357.7,589.7 358.2,591.6 358.7,593.3 359.2,594.9 359.7,596.2 360.2,597.2 360.7,598.0 361.2,598.6 361.7,598.9 362.2,599.0 362.7,598.8 363.2,598.4 363.7,597.8 364.2,597.0 364.7,596.1 365.2,595.0 365.7,593.7 366.2,592.3 366.7,590.8 367.2,589.1 367.7,587.3 368.2,585.4 368.7,583.4 369.2,581.3 369.7,579.1 370.2,576.9 370.7,574.6 371.2,572.2 371.7,569.8 372.2,567.3 372.7,564.9 373.2,562.4 373.7,559.9 374.2,557.4 374.7,554.9 375.2,552.4 375.7,549.9 376.2,547.5 376.7,545.1 377.2,542.8 377.7,540.5 378.2,538.3 378.7,536.2 379.2,534.2 379.7,532.3 380.2,530.5 380.7,528.8 381.2,527.2 381.7,525.8 382.2,524.5 382.7,523.3 383.2,522.3 383.7,521.5 384.2,520.9 384.7,520.5 385.2,520.3 385.7,520.4 386.2,520.8 386.7,521.6 387.2,522.7 387.7,524.1 388.2,525.8 388.7,527.9 389.2,530.2 389.7,532.7 390.2,535.4 390.7,538.3 391.2,541.3 391.7,544.4 392.2,547.6 392.7,550.9 393.2,554.1 393.7,557.3 394.2,560.5 394.7,563.5 395.2,566.5 395.7,569.2 396.2,571.8 396.7,574.2 397.2,576.4 397.7,578.2 398.2,579.8 398.7,581.0 399.2,581.9 399.7,582.4 400.2,582.5 400.7,582.3 401.2,581.8 401.7,580.9 402.2,579.8 402.7,578.5 403.2,576.9 403.7,575.1 404.2,573.2 404.7,571.1 405.2,568.9 405.7,566.6 406.2,564.2 406.7,561.7 407.2,559.2 407.7,556.7 408.2,554.2 408.7,551.7 409.2,549.3 409.7,546.9 410.2,544.7 410.7,542.6 411.2,540.6 411.7,538.8 412.2,537.2 412.7,535.8 413.2,534.7 413.7,533.8 414.2,533.2 414.7,532.8 415.2,532.7 415.7,532.8 416.2,533.2 416.7,533.8 417.2,534.5 417.7,535.4 418.2,536.4 418.7,537.6 419.2,538.9 419.7,540.3 420.2,541.8 420.7,543.4 421.2,545.1 421.7,546.9 422.2,548.7 422.7,550.5 423.2,552.4 423.7,554.3 424.2,556.2 424.7,558.1 425.2,560.0 425.7,561.9 426.2,563.7 426.7,565.5 427.2,567.2 427.7,568.8 428.2,570.4 428.7,571.8 429.2,573.2 429.7,574.4 430.2,575.5 430.7,576.4 431.2,577.2 431.7,577.8 432.2,578.3 432.7,578.5 433.2,578.6 433.7,578.5 434.2,578.2 434.7,577.7 435.2,577.0 435.7,576.1 436.2,575.1 436.7,574.0 437.2,572.7 437.7,571.2 438.2,569.7 438.7,568.0 439.2,566.3 439.7,564.4 440.2,562.5 440.7,560.5 441.2,558.4 441.7,556.3 442.2,554.2 442.8,552.0 443.3,549.9 443.8,547.7 444.3,545.5 444.8,543.3 445.3,541.1 445.8,539.0 446.3,536.9 446.8,534.9 447.3,532.9 447.8,531.0 448.3,529.2 448.8,527.5 449.3,525.9 449.8,524.4 450.3,523.0 450.8,521.8 451.3,520.7 451.8,519.7 452.3,519.0 452.8,518.4 453.3,517.9 453.8,517.7 454.3,517.5 454.8,517.6 455.3,517.7 455.8,517.9 456.3,518.3 456.8,518.7 457.3,519.1 457.8,519.6 458.3,520.2 458.8,520.8 459.3,521.5 459.8,522.2 460.3,522.9 460.8,523.6 461.3,524.3 461.8,525.1 462.3,525.8 462.8,526.5 463.3,527.3 463.8,528.0 464.3,528.7 464.8,529.4 465.3,530.1 465.8,530.9 466.3,531.7 466.8,532.4 467.3,533.3 467.8,534.1 468.3,535.0 468.8,535.9 469.3,536.8 469.8,537.8 470.3,538.9 470.8,539.9 471.3,541.1 471.8,542.3 472.3,543.7 472.8,545.2 473.3,547.0 473.8,548.9 474.3,551.1 474.8,553.5 475.3,556.0 475.8,558.8 476.3,561.6 476.8,564.6 477.3,567.7 477.8,570.8 478.3,573.9 478.8,577.1 479.3,580.2 479.8,583.3 480.3,586.2 480.8,589.1 481.3,591.9 481.8,594.4 482.3,596.8 482.8,599.0 483.3,601.0 483.8,602.6 484.3,604.0 484.8,605.0 485.3,605.7 485.8,606.0 486.3,605.8 486.8,605.2 487.3,604.1 487.8,602.6 488.3,600.6 488.8,598.1 489.3,595.4 489.8,592.2 490.3,588.8 490.8,585.1 491.3,581.2 491.8,577.1 492.3,572.9 492.8,568.5 493.3,564.1 493.8,559.6 494.3,555.2 494.8,550.8 495.3,546.4 495.8,542.2 496.3,538.2 496.8,534.3 497.3,530.7 497.8,527.3 498.3,524.3 498.8,521.6 499.3,519.3 499.8,517.4 500.3,516.0 500.8,515.0 501.3,514.5 501.8,514.5 502.3,515.0 502.8,515.8 503.3,517.1 503.8,518.6 504.3,520.5 504.8,522.7 505.3,525.1 505.8,527.7 506.3,530.5 506.8,533.4 507.3,536.5 507.8,539.7 508.3,542.9 508.8,546.1 509.3,549.3 509.8,552.5 510.3,555.6 510.8,558.6 511.3,561.5 511.8,564.2 512.3,566.7 512.8,569.0 513.3,571.0 513.8,572.8 514.3,574.2 514.8,575.2 515.3,576.0 515.8,576.3 516.3,576.3 516.8,576.1 517.3,575.5 517.8,574.7 518.3,573.8 518.8,572.6 519.3,571.3 519.8,569.8 520.3,568.3 520.8,566.6 521.3,564.9 521.8,563.2 522.3,561.4 522.8,559.7 523.3,558.0 523.8,556.3 524.3,554.7 524.8,553.3 525.3,551.9 525.8,550.7 526.3,549.7 526.8,548.8 527.3,548.2 527.8,547.8 528.3,547.6 528.8,547.6 529.3,547.8 529.8,548.2 530.3,548.6 530.8,549.3 531.3,549.9 531.8,550.7 532.3,551.5 532.8,552.3 533.3,553.1 533.8,553.9 534.3,554.6 534.8,555.3 535.3,555.8 535.8,556.3 536.3,556.6 536.8,556.8 537.3,556.9 537.8,556.9 538.3,556.9 538.8,556.8 539.3,556.6 539.8,556.5 540.3,556.3 540.8,556.1 541.3,555.8 541.8,555.6 542.3,555.4 542.8,555.1 543.3,554.9 543.8,554.7 544.3,554.5 544.8,554.3 545.3,554.2 545.8,554.1 546.3,554.0 546.8,554.0 547.3,554.0 547.8,554.1 548.3,554.2 548.8,554.3 549.3,554.5 549.8,554.7 550.3,554.9 550.8,555.2 551.3,555.3 551.8,555.5 552.3,555.6 552.8,555.7 553.3,555.7 553.8,555.7 554.3,555.6 554.8,555.4 555.3,555.2 555.8,554.9 556.3,554.6 556.8,554.3 557.3,554.0 557.8,553.8 558.3,553.5 558.8,553.3 559.3,553.2 559.8,553.1 560.3,553.1 560.8,553.2 561.3,553.4 561.8,553.7 562.3,554.1 562.8,554.5 563.3,555.0 563.8,555.6 564.3,556.1 564.8,556.6 565.3,557.2 565.8,557.7 566.3,558.1 566.8,558.4 567.3,558.7 567.8,558.8 568.3,558.8 568.8,558.6 569.3,558.3 569.8,557.9 570.3,557.3 570.8,556.6 571.3,555.9 571.8,555.0 572.3,554.1 572.8,553.1 573.3,552.1 573.8,551.1 574.3,550.1 574.8,549.1 575.3,548.2 575.8,547.3 576.3,546.5 576.8,545.9 577.3,545.3 577.8,544.9 578.3,544.7 578.8,544.6 579.3,544.7 579.8,545.1 580.3,545.7 580.8,546.5 581.3,547.5 581.8,548.7 582.3,550.1 582.8,551.6 583.3,553.2 583.8,554.9 584.3,556.7 584.8,558.5 585.3,560.4 585.8,562.2 586.3,564.1 586.8,565.9 587.3,567.6 587.8,569.2 588.3,570.8 588.8,572.2 589.3,573.4 589.8,574.5 590.3,575.3 590.8,575.9 591.3,576.3 591.8,576.4 592.3,576.2 592.8,575.6 593.3,574.7 593.8,573.6 594.3,572.1 594.8,570.3 595.3,568.3 595.8,566.1 596.3,563.7 596.8,561.2 597.3,558.4 597.8,555.6 598.3,552.7 598.8,549.8 599.3,546.8 599.8,543.8 600.3,540.8 600.8,537.9 601.3,535.0 601.8,532.3 602.3,529.7 602.8,527.2 603.3,524.9 603.8,522.8 604.3,521.0 604.8,519.4 605.3,518.2 605.8,517.2 606.3,516.6 606.8,516.5 607.3,516.8 607.8,517.6 608.3,519.0 608.8,520.8 609.3,523.2 609.8,526.0 610.3,529.3 610.8,532.8 611.3,536.7 611.8,540.9 612.3,545.3 612.8,549.8 613.3,554.5 613.8,559.2 614.3,564.0 614.8,568.7 615.3,573.4 615.8,577.9 616.3,582.3 616.8,586.4 617.3,590.3 617.8,593.9 618.3,597.1 618.8,599.9 619.3,602.2 619.8,604.0 620.3,605.3 620.8,605.9 621.3,605.8 621.8,604.9 622.3,603.3 622.8,600.9 623.3,597.8 623.8,594.1 624.3,589.7 624.8,584.9 625.3,579.6 625.8,573.9 626.3,568.0 626.8,561.9 627.3,555.6 627.8,549.2 628.3,542.9 628.8,536.6 629.3,530.5 629.8,524.7 630.3,519.1 630.8,513.9 631.3,509.2 631.8,505.1 632.3,501.5 632.8,498.6 633.3,496.5 633.8,495.2 634.3,494.8 634.8,495.4 635.3,496.9 635.8,499.3 636.3,502.6 636.8,506.7 637.3,511.6 637.8,517.0 638.3,523.0 638.8,529.5 639.3,536.3 639.8,543.4 640.3,550.6 640.8,558.0 641.3,565.3 641.8,572.6 642.3,579.7 642.8,586.5 643.3,592.9 643.8,598.9 644.3,604.4 644.8,609.2 645.3,613.3 645.8,616.6 646.3,619.1 646.8,620.5 647.3,621.0 647.8,620.4 648.3,618.9 648.8,616.4 649.3,613.0 649.8,608.8 650.3,604.0 650.8,598.5 651.3,592.4 651.8,585.9 652.3,579.0 652.8,571.8 653.3,564.4 653.8,556.9 654.3,549.4 654.8,541.9 655.3,534.6 655.8,527.4 656.3,520.6 656.8,514.2 657.3,508.3 657.8,502.9 658.3,498.1 658.8,494.1 659.3,491.0 659.8,488.6 660.3,487.2 660.8,486.7 661.3,487.1 661.8,488.3 662.3,490.2 662.8,492.9 663.3,496.2 663.8,500.0 664.3,504.3 664.8,509.2 665.3,514.4 665.8,519.9 666.3,525.8 666.8,531.9 667.3,538.1 667.8,544.5 668.3,551.0 668.8,557.5 669.3,563.9 669.8,570.3 670.3,576.5 670.8,582.4 671.3,588.2 671.8,593.6 672.3,598.6 672.8,603.2 673.3,607.3 673.8,610.9 674.3,613.9 674.8,616.3 675.3,617.9 675.8,618.9 676.3,619.1 676.8,618.5 677.3,617.3 677.8,615.4 678.3,612.9 678.8,609.9 679.3,606.3 679.8,602.2 680.3,597.8 680.8,592.9 681.3,587.8 681.8,582.4 682.3,576.8 682.8,571.0 683.3,565.1 683.8,559.2 684.3,553.3 684.8,547.4 685.3,541.5 685.8,535.9 686.3,530.4 686.8,525.2 687.3,520.3 687.8,515.7 688.3,511.5 688.8,507.8 689.3,504.6 689.8,501.9 690.3,499.9 690.8,498.4 691.3,497.7 691.8,497.7 692.3,498.4 692.8,499.9 693.3,502.0 693.8,504.8 694.3,508.2 694.8,512.0 695.3,516.4 695.8,521.1 696.3,526.1 696.8,531.4 697.3,536.9 697.8,542.6 698.3,548.3 698.8,554.0 699.3,559.6 699.8,565.1 700.3,570.4 700.8,575.5 701.3,580.2 701.8,584.5 702.3,588.4 702.8,591.8 703.3,594.6 703.8,596.8 704.3,598.3 704.8,599.1 705.3,599.2 705.8,598.7 706.3,597.5 706.8,595.8 707.3,593.6 707.8,590.9 708.3,587.9 708.8,584.5 709.3,580.8 709.8,576.9 710.3,572.7 710.8,568.5 711.3,564.1 711.8,559.7 712.3,555.4 712.8,551.1 713.3,546.9 713.8,542.9 714.3,539.1 714.8,535.6 715.3,532.4 715.8,529.6 716.3,527.3 716.8,525.4 717.3,524.0 717.8,523.1 718.3,522.8 718.8,523.1 719.3,523.8 719.8,524.9 720.3,526.4 720.8,528.3 721.3,530.5 721.8,533.0 722.3,535.7 722.8,538.5 723.3,541.5 723.8,544.6 724.3,547.8 724.8,551.0 725.3,554.1 725.8,557.2 726.3,560.1 726.8,562.9 727.3,565.5 727.8,567.9 728.3,570.0 728.8,571.7 729.3,573.1 729.8,574.2 730.3,574.8 730.8,575.0 731.3,574.9 731.8,574.4 732.3,573.7 732.8,572.7 733.3,571.5 733.8,570.1 734.3,568.5 734.8,566.8 735.3,565.0 735.8,563.1 736.3,561.1 736.8,559.1 737.3,557.1 737.8,555.2 738.3,553.2 738.8,551.4 739.3,549.6 739.8,548.0 740.3,546.5 740.8,545.2 741.3,544.1 741.8,543.3 742.3,542.6 742.8,542.2 743.3,542.1 743.8,542.1 744.3,542.3 744.8,542.7 745.3,543.2 745.8,543.8 746.3,544.5 746.8,545.4 747.3,546.3 747.8,547.2 748.3,548.3 748.8,549.4 749.3,550.5 749.8,551.7 750.3,553.0 750.8,554.2 751.3,555.5 751.8,556.8 752.3,558.0 752.8,559.3 753.3,560.5 753.8,561.7 754.3,562.9 754.8,564.0 755.3,565.1 755.8,566.1 756.3,567.0 756.8,567.8 757.3,568.5 757.8,569.2 758.3,569.7 758.8,570.1 759.3,570.4 759.8,570.5 760.3,570.4 760.8,570.3 761.3,569.9 761.8,569.4 762.3,568.8 762.8,568.0 763.3,567.0 763.8,566.0 764.3,564.8 764.8,563.6 765.3,562.2 765.8,560.8 766.3,559.3 766.8,557.8 767.3,556.2 767.8,554.6 768.3,553.0 768.8,551.4 769.3,549.7 769.8,548.1 770.3,546.6 770.8,545.0 771.3,543.5 771.8,542.1 772.3,540.7 772.8,539.4 773.3,538.2 773.8,537.1 774.3,536.1 774.8,535.3 775.3,534.6 775.8,534.0 776.3,533.7 776.8,533.5 777.3,533.7 777.8,534.2 778.3,535.0 778.8,536.3 779.3,537.9 779.8,540.0 780.3,542.3 780.8,544.9 781.3,547.6 781.8,550.6 782.3,553.7 782.8,556.8 783.3,560.0 783.8,563.1 784.3,566.2 784.8,569.1 785.3,571.8 785.8,574.3 786.3,576.5 786.8,578.4 787.3,579.9 787.8,581.0 788.3,581.6 788.8,581.8 789.3,581.5 789.8,580.7 790.3,579.5 790.8,578.0 791.3,576.1 791.8,573.9 792.3,571.4 792.8,568.7 793.3,565.8 793.8,562.8 794.3,559.7 794.8,556.5 795.3,553.2 795.8,550.0 796.3,546.8 796.8,543.7 797.4,540.8 797.9,538.0 798.4,535.4 798.9,533.1 799.4,531.1 799.9,529.3 800.4,528.0 800.9,527.1 801.4,526.6 801.9,526.7 802.4,527.2 802.9,528.4 803.4,530.0 803.9,532.2 804.4,534.7 804.9,537.7 805.4,540.9 805.9,544.4 806.4,548.1 806.9,551.9 807.4,555.7 807.9,559.6 808.4,563.3 808.9,567.0 809.4,570.4 809.9,573.6 810.4,576.4 810.9,578.9 811.4,580.9 811.9,582.4 812.4,583.4 812.9,583.9 813.4,583.7 813.9,583.1 814.4,582.0 814.9,580.5 815.4,578.6 815.9,576.4 816.4,573.9 816.9,571.1 817.4,568.1 817.9,565.0 818.4,561.7 818.9,558.3 819.4,554.9 819.9,551.5 820.4,548.2 820.9,544.9 821.4,541.7 821.9,538.8 822.4,536.0 822.9,533.4 823.4,531.2 823.9,529.3 824.4,527.8 824.9,526.6 825.4,525.9 825.9,525.6 826.4,525.8 826.9,526.4 827.4,527.3 827.9,528.7 828.4,530.3 828.9,532.2 829.4,534.4 829.9,536.8 830.4,539.4 830.9,542.1 831.4,545.0 831.9,547.9 832.4,551.0 832.9,554.0 833.4,557.1 833.9,560.1 834.4,563.0 834.9,565.9 835.4,568.6 835.9,571.1 836.4,573.5 836.9,575.6 837.4,577.5 837.9,579.1 838.4,580.4 838.9,581.3 839.4,581.8 839.9,582.0 840.4,581.8 840.9,581.3 841.4,580.5 841.9,579.3 842.4,577.9 842.9,576.3 843.4,574.4 843.9,572.4 844.4,570.1 844.9,567.8 845.4,565.3 845.9,562.7 846.4,560.1 846.9,557.4 847.4,554.8 847.9,552.1 848.4,549.5 848.9,546.9 849.4,544.4 849.9,542.0 850.4,539.8 850.9,537.7 851.4,535.9 851.9,534.2 852.4,532.8 852.9,531.6 853.4,530.7 853.9,530.1 854.4,529.8 854.9,529.8 855.4,530.1 855.9,530.5 856.4,531.2 856.9,532.2 857.4,533.2 857.9,534.5 858.4,535.9 858.9,537.4 859.4,539.1 859.9,540.8 860.4,542.7 860.9,544.6 861.4,546.6 861.9,548.6 862.4,550.7 862.9,552.8 863.4,554.9 863.9,556.9 864.4,559.0 864.9,561.0 865.4,562.9 865.9,564.8 866.4,566.6 866.9,568.3 867.4,569.9 867.9,571.3 868.4,572.6 868.9,573.8 869.4,574.7 869.9,575.5 870.4,576.1 870.9,576.5 871.4,576.7 871.9,576.7 872.4,576.5 872.9,576.2 873.4,575.8 873.9,575.2 874.4,574.6 874.9,573.8 875.4,573.0 875.9,572.0 876.4,571.0 876.9,569.9 877.4,568.7 877.9,567.5 878.4,566.2 878.9,564.9 879.4,563.5 879.9,562.1 880.4,560.7 880.9,559.3 881.4,557.8 881.9,556.4 882.4,554.9 882.9,553.5 883.4,552.1 883.9,550.7 884.4,549.3 884.9,548.0 885.4,546.7 885.9,545.5 886.4,544.3 886.9,543.2 887.4,542.2 887.9,541.3 888.4,540.4 888.9,539.7 889.4,539.0 889.9,538.4 890.4,538.0 890.9,537.7 891.4,537.5 891.9,537.5 892.4,537.5 892.9,537.7 893.4,538.1 893.9,538.5 894.4,539.0 894.9,539.7 895.4,540.4 895.9,541.3 896.4,542.2 896.9,543.1 897.4,544.2 897.9,545.2 898.4,546.3 898.9,547.5 899.4,548.7 899.9,549.9 900.4,551.1 900.9,552.2 901.4,553.4 901.9,554.6 902.4,555.7 902.9,556.8 903.4,557.9 903.9,558.9 904.4,559.9 904.9,560.7 905.4,561.5 905.9,562.3 906.4,562.9 906.9,563.4 907.4,563.8 907.9,564.1 908.4,564.3 908.9,564.4 909.4,564.4 909.9,564.4 910.4,564.3 910.9,564.2 911.4,564.0 911.9,563.8 912.4,563.6 912.9,563.4 913.4,563.1 913.9,562.8 914.4,562.5 914.9,562.1 915.4,561.8 915.9,561.4 916.4,561.0 916.9,560.6 917.4,560.2 917.9,559.8 918.4,559.4 918.9,559.0 919.4,558.6 919.9,558.2 920.4,557.7 920.9,557.3 921.4,556.9 921.9,556.5 922.4,556.1 922.9,555.8 923.4,555.4 923.9,555.0 924.4,554.7 924.9,554.4 925.4,554.1 925.9,553.8 926.4,553.6 926.9,553.4 927.4,553.2 927.9,553.0 928.4,552.9 928.9,552.8 929.4,552.7 929.9,552.7 930.4,552.7 930.9,552.8 931.4,552.9 931.9,553.0 932.4,553.2 932.9,553.4 933.4,553.6 933.9,553.9 934.4,554.2 934.9,554.5 935.4,554.8 935.9,555.1 936.4,555.4 936.9,555.8 937.4,556.1 937.9,556.4 938.4,556.8 938.9,557.1 939.4,557.4 939.9,557.7 940.4,557.9 940.9,558.2 941.4,558.4 941.9,558.6 942.4,558.8 942.9,558.9 943.4,558.9 943.9,559.0 944.4,558.9 944.9,558.8 945.4,558.6 945.9,558.2 946.4,557.8 946.9,557.4 947.4,556.8 947.9,556.2 948.4,555.5 948.9,554.8 949.4,554.0 949.9,553.2 950.4,552.4 950.9,551.5 951.4,550.6 951.9,549.8 952.4,548.9 952.9,548.0 953.4,547.2 953.9,546.4 954.4,545.6 954.9,544.9 955.4,544.2 955.9,543.6 956.4,543.1 956.9,542.6 957.4,542.2 957.9,542.0 958.4,541.8 958.9,541.8 959.4,542.0 959.9,542.3 960.4,543.0 960.9,543.8 961.4,544.9 961.9,546.2 962.4,547.7 962.9,549.3 963.4,551.1 963.9,553.0 964.4,554.9 964.9,557.0 965.4,559.0 965.9,561.1 966.4,563.2 966.9,565.2 967.4,567.2 967.9,569.1 968.4,570.9 968.9,572.6 969.4,574.1 969.9,575.4 970.4,576.5 970.9,577.4 971.4,578.0 971.9,578.2 972.4,578.2 972.9,577.7 973.4,576.9 973.9,575.7 974.4,574.0 974.9,572.1 975.4,569.8 975.9,567.2 976.4,564.4 976.9,561.5 977.4,558.4 977.9,555.2 978.4,551.9 978.9,548.7 979.4,545.5 979.9,542.3 980.4,539.3 980.9,536.4 981.4,533.8 981.9,531.4 982.4,529.3 982.9,527.5 983.4,526.1 983.9,525.1 984.4,524.6 984.9,524.6 985.4,525.0 985.9,525.9 986.4,527.3 986.9,529.2 987.4,531.4 987.9,533.9 988.4,536.8 988.9,539.9 989.4,543.2 989.9,546.6 990.4,550.2 990.9,553.9 991.4,557.6 991.9,561.2 992.4,564.8 992.9,568.3 993.4,571.7 993.9,574.8 994.4,577.7 994.9,580.4 995.4,582.6 995.9,584.6 996.4,586.1 996.9,587.1 997.4,587.8 997.9,588.0 998.4,587.9 998.9,587.5 999.4,586.9 999.9,586.0 1000.4,584.9 1000.9,583.7 1001.4,582.2 1001.9,580.7 1002.4,578.9 1002.9,577.1 1003.4,575.1 1003.9,573.1 1004.4,570.9 1004.9,568.7 1005.4,566.4 1005.9,564.1 1006.4,561.8 1006.9,559.4 1007.4,557.0 1007.9,554.6 1008.4,552.3 1008.9,550.0 1009.4,547.8 1009.9,545.6 1010.4,543.5 1010.9,541.5 1011.4,539.6 1011.9,537.8 1012.4,536.1 1012.9,534.7 1013.4,533.3 1013.9,532.2 1014.4,531.2 1014.9,530.4 1015.4,529.9 1015.9,529.5 1016.4,529.3 1016.9,529.4 1017.4,529.6 1017.9,529.9 1018.4,530.4 1018.9,531.1 1019.4,531.8 1019.9,532.6 1020.4,533.6 1020.9,534.6 1021.4,535.7 1021.9,536.9 1022.4,538.2 1022.9,539.5 1023.4,540.8 1023.9,542.3 1024.4,543.7 1024.9,545.2 1025.4,546.7 1025.9,548.2 1026.4,549.7 1026.9,551.2 1027.4,552.6 1027.9,554.1 1028.4,555.5 1028.9,556.9 1029.4,558.3 1029.9,559.6 1030.4,560.8 1030.9,562.0 1031.4,563.1 1031.9,564.1 1032.4,565.0 1032.9,565.8 1033.4,566.5 1033.9,567.0 1034.4,567.5 1034.9,567.8 1035.4,568.1 1035.9,568.2 1036.4,568.3 1036.9,568.3 1037.4,568.3 1037.9,568.3 1038.4,568.3 1038.9,568.3 1039.4,568.3 1039.9,568.3 1040.4,568.3 1040.9,568.3 1041.4,568.2 1041.9,568.1 1042.4,567.9 1042.9,567.7 1043.4,567.4 1043.9,567.0 1044.4,566.6 1044.9,566.1 1045.4,565.5 1045.9,564.9 1046.4,564.3 1046.9,563.6 1047.4,562.9 1047.9,562.2 1048.4,561.5 1048.9,560.7 1049.4,560.0 1049.9,559.3 1050.4,558.6 1050.9,557.8 1051.4,557.2 1051.9,556.5 1052.4,555.9 1052.9,555.3 1053.4,554.8 1053.9,554.3 1054.4,553.8 1054.9,553.5 1055.4,553.2 1055.9,553.0 1056.4,552.8 1056.9,552.7 1057.4,552.7 1057.9,552.7 1058.4,552.8 1058.9,552.9 1059.4,553.0 1059.9,553.2 1060.4,553.4 1060.9,553.6 1061.4,553.8 1061.9,554.1 1062.4,554.4 1062.9,554.7 1063.4,555.1 1063.9,555.5 1064.4,555.9" fill="none" stroke="#0000ff" stroke-width="1.7" stroke-linejoin="round" />
<path d="M235 571V624" stroke="#0000ff" stroke-width="2.2"/>
<rect x="1173.5" y="478.5" width="830.0" height="155.0" fill="none" stroke="#000" stroke-width="1.8"/>
<path d="M1256.5 478.5v8.0M1256.5 633.5v-8.0M1339.5 478.5v8.0M1339.5 633.5v-8.0M1422.5 478.5v8.0M1422.5 633.5v-8.0M1505.5 478.5v8.0M1505.5 633.5v-8.0M1588.5 478.5v8.0M1588.5 633.5v-8.0M1671.5 478.5v8.0M1671.5 633.5v-8.0M1754.5 478.5v8.0M1754.5 633.5v-8.0M1837.5 478.5v8.0M1837.5 633.5v-8.0M1920.5 478.5v8.0M1920.5 633.5v-8.0M1173.5 556.0h8.0M2003.5 556.0h-8.0M1173.5 485.5h2.5M2003.5 485.5h-2.5M1173.5 626.5h2.5M2003.5 626.5h-2.5" stroke="#000" stroke-width="1.7" fill="none"/>
<polyline points="1173.4,604.4 1173.9,601.0 1174.4,597.6 1174.9,594.2 1175.4,590.9 1175.9,587.6 1176.4,584.3 1176.9,581.1 1177.4,577.9 1177.9,574.8 1178.4,571.8 1178.9,568.8 1179.4,565.8 1179.9,562.9 1180.4,560.1 1180.9,557.3 1181.4,554.6 1181.9,551.9 1182.4,549.4 1182.9,546.9 1183.4,544.5 1183.9,542.2 1184.4,540.1 1184.9,538.0 1185.4,536.0 1185.9,534.1 1186.4,532.2 1186.9,530.5 1187.4,528.8 1187.9,527.3 1188.4,525.8 1188.9,524.4 1189.4,523.1 1189.9,521.9 1190.4,520.7 1190.9,519.7 1191.4,518.7 1191.9,517.7 1192.4,516.9 1192.9,516.0 1193.4,515.2 1193.9,514.5 1194.4,513.7 1194.9,513.1 1195.4,512.4 1195.9,511.8 1196.4,511.3 1196.9,510.8 1197.4,510.4 1197.9,510.0 1198.4,509.7 1198.9,509.4 1199.4,509.2 1199.9,509.1 1200.4,509.0 1200.9,509.0 1201.4,509.1 1201.9,509.2 1202.4,509.3 1202.9,509.5 1203.4,509.8 1203.9,510.1 1204.4,510.4 1204.9,510.8 1205.4,511.2 1205.9,511.6 1206.4,512.1 1206.9,512.6 1207.4,513.2 1207.9,513.8 1208.4,514.4 1208.9,515.1 1209.4,515.8 1209.9,516.5 1210.4,517.3 1210.9,518.0 1211.4,518.9 1211.9,519.7 1212.4,520.6 1212.9,521.5 1213.4,522.4 1213.9,523.3 1214.4,524.3 1214.9,525.2 1215.4,526.3 1215.9,527.3 1216.4,528.3 1216.9,529.4 1217.4,530.5 1217.9,531.6 1218.4,532.7 1218.9,533.8 1219.4,534.9 1219.9,536.1 1220.4,537.2 1220.9,538.4 1221.4,539.6 1221.9,540.8 1222.4,542.0 1222.9,543.2 1223.4,544.4 1223.9,545.6 1224.4,546.8 1224.9,548.1 1225.4,549.3 1225.9,550.5 1226.4,551.8 1226.9,553.0 1227.4,554.2 1227.9,555.5 1228.4,556.7 1228.9,557.9 1229.4,559.1 1229.9,560.3 1230.4,561.5 1230.9,562.7 1231.4,563.9 1231.9,565.1 1232.4,566.3 1232.9,567.4 1233.4,568.6 1233.9,569.7 1234.4,570.8 1234.9,571.9 1235.4,573.0 1235.9,574.1 1236.4,575.1 1236.9,576.2 1237.4,577.2 1237.9,578.2 1238.4,579.2 1238.9,580.1 1239.4,581.0 1239.9,581.9 1240.4,582.8 1240.9,583.7 1241.4,584.5 1241.9,585.3 1242.4,586.1 1242.9,586.8 1243.4,587.5 1243.9,588.2 1244.4,588.8 1244.9,589.5 1245.4,590.0 1245.9,590.6 1246.4,591.1 1246.9,591.6 1247.4,592.0 1247.9,592.4 1248.4,592.8 1248.9,593.1 1249.4,593.4 1249.9,593.6 1250.4,593.8 1250.9,593.9 1251.4,594.0 1251.9,594.1 1252.4,594.1 1252.9,594.0 1253.4,593.9 1253.9,593.8 1254.4,593.6 1254.9,593.4 1255.4,593.1 1255.9,592.8 1256.4,592.4 1256.9,592.0 1257.4,591.5 1257.9,591.0 1258.4,590.5 1258.9,589.9 1259.4,589.3 1259.9,588.6 1260.4,587.9 1260.9,587.2 1261.4,586.4 1261.9,585.6 1262.4,584.8 1262.9,584.0 1263.4,583.1 1263.9,582.1 1264.4,581.2 1264.9,580.2 1265.4,579.2 1265.9,578.2 1266.4,577.2 1266.9,576.1 1267.4,575.0 1267.9,573.9 1268.4,572.8 1268.9,571.7 1269.4,570.5 1269.9,569.4 1270.4,568.2 1270.9,567.0 1271.4,565.8 1271.9,564.6 1272.4,563.4 1272.9,562.2 1273.4,560.9 1273.9,559.7 1274.4,558.5 1274.9,557.2 1275.4,556.0 1275.9,554.8 1276.4,553.5 1276.9,552.3 1277.4,551.0 1277.9,549.8 1278.4,548.6 1278.9,547.4 1279.4,546.2 1279.9,545.0 1280.4,543.8 1280.9,542.6 1281.4,541.4 1281.9,540.3 1282.4,539.1 1282.9,538.0 1283.4,536.9 1283.9,535.8 1284.4,534.8 1284.9,533.7 1285.4,532.7 1285.9,531.7 1286.5,530.7 1287.0,529.8 1287.5,528.9 1288.0,528.0 1288.5,527.1 1289.0,526.3 1289.5,525.5 1290.0,524.7 1290.5,524.0 1291.0,523.2 1291.5,522.6 1292.0,522.0 1292.5,521.4 1293.0,520.8 1293.5,520.3 1294.0,519.8 1294.5,519.4 1295.0,519.0 1295.5,518.7 1296.0,518.4 1296.5,518.2 1297.0,518.0 1297.5,517.8 1298.0,517.8 1298.5,517.7 1299.0,517.8 1299.5,517.9 1300.0,518.0 1300.5,518.2 1301.0,518.5 1301.5,518.8 1302.0,519.2 1302.5,519.7 1303.0,520.2 1303.5,520.7 1304.0,521.3 1304.5,522.0 1305.0,522.7 1305.5,523.5 1306.0,524.3 1306.5,525.2 1307.0,526.1 1307.5,527.0 1308.0,528.0 1308.5,529.0 1309.0,530.1 1309.5,531.2 1310.0,532.3 1310.5,533.4 1311.0,534.6 1311.5,535.8 1312.0,537.1 1312.5,538.3 1313.0,539.6 1313.5,540.9 1314.0,542.2 1314.5,543.6 1315.0,544.9 1315.5,546.3 1316.0,547.7 1316.5,549.1 1317.0,550.4 1317.5,551.8 1318.0,553.2 1318.5,554.6 1319.0,556.0 1319.5,557.4 1320.0,558.8 1320.5,560.2 1321.0,561.6 1321.5,563.0 1322.0,564.3 1322.5,565.7 1323.0,567.0 1323.5,568.4 1324.0,569.7 1324.5,570.9 1325.0,572.2 1325.5,573.4 1326.0,574.6 1326.5,575.8 1327.0,577.0 1327.5,578.1 1328.0,579.2 1328.5,580.3 1329.0,581.3 1329.5,582.3 1330.0,583.2 1330.5,584.1 1331.0,585.0 1331.5,585.8 1332.0,586.5 1332.5,587.3 1333.0,587.9 1333.5,588.5 1334.0,589.1 1334.5,589.6 1335.0,590.0 1335.5,590.4 1336.0,590.8 1336.5,591.0 1337.0,591.2 1337.5,591.3 1338.0,591.4 1338.5,591.4 1339.0,591.3 1339.5,591.2 1340.0,591.0 1340.5,590.7 1341.0,590.3 1341.5,589.9 1342.0,589.5 1342.5,588.9 1343.0,588.3 1343.5,587.7 1344.0,587.0 1344.5,586.2 1345.0,585.4 1345.5,584.5 1346.0,583.6 1346.5,582.6 1347.0,581.6 1347.5,580.6 1348.0,579.5 1348.5,578.4 1349.0,577.2 1349.5,576.1 1350.0,574.9 1350.5,573.6 1351.0,572.3 1351.5,571.1 1352.0,569.7 1352.5,568.4 1353.0,567.1 1353.5,565.7 1354.0,564.3 1354.5,562.9 1355.0,561.6 1355.5,560.2 1356.0,558.7 1356.5,557.3 1357.0,555.9 1357.5,554.5 1358.0,553.1 1358.5,551.7 1359.0,550.4 1359.5,549.0 1360.0,547.6 1360.5,546.3 1361.0,545.0 1361.5,543.6 1362.0,542.4 1362.5,541.1 1363.0,539.9 1363.5,538.7 1364.0,537.5 1364.5,536.3 1365.0,535.2 1365.5,534.2 1366.0,533.1 1366.5,532.1 1367.0,531.2 1367.5,530.3 1368.0,529.4 1368.5,528.6 1369.0,527.9 1369.5,527.2 1370.0,526.5 1370.5,525.9 1371.0,525.4 1371.5,524.9 1372.0,524.5 1372.5,524.2 1373.0,523.9 1373.5,523.7 1374.0,523.6 1374.5,523.5 1375.0,523.4 1375.5,523.5 1376.0,523.5 1376.5,523.7 1377.0,523.9 1377.5,524.1 1378.0,524.3 1378.5,524.6 1379.0,525.0 1379.5,525.4 1380.0,525.8 1380.5,526.2 1381.0,526.7 1381.5,527.2 1382.0,527.8 1382.5,528.4 1383.0,529.0 1383.5,529.6 1384.0,530.3 1384.5,530.9 1385.0,531.7 1385.5,532.4 1386.0,533.2 1386.5,533.9 1387.0,534.7 1387.5,535.5 1388.0,536.4 1388.5,537.2 1389.0,538.1 1389.5,539.0 1390.0,539.9 1390.5,540.8 1391.0,541.7 1391.5,542.6 1392.0,543.5 1392.5,544.4 1393.0,545.4 1393.5,546.3 1394.0,547.3 1394.5,548.2 1395.0,549.2 1395.5,550.1 1396.0,551.1 1396.5,552.0 1397.0,553.0 1397.5,553.9 1398.0,554.8 1398.5,555.7 1399.0,556.7 1399.5,557.6 1400.0,558.4 1400.5,559.3 1401.0,560.2 1401.5,561.0 1402.0,561.9 1402.5,562.7 1403.0,563.5 1403.5,564.3 1404.0,565.0 1404.5,565.8 1405.0,566.5 1405.5,567.2 1406.0,567.8 1406.5,568.5 1407.0,569.1 1407.5,569.7 1408.0,570.2 1408.5,570.8 1409.0,571.2 1409.5,571.7 1410.0,572.1 1410.5,572.5 1411.0,572.9 1411.5,573.2 1412.0,573.4 1412.5,573.7 1413.0,573.8 1413.5,574.0 1414.0,574.1 1414.5,574.1 1415.0,574.1 1415.5,574.1 1416.0,574.0 1416.5,573.8 1417.0,573.6 1417.5,573.3 1418.0,573.0 1418.5,572.7 1419.0,572.3 1419.5,571.8 1420.0,571.4 1420.5,570.8 1421.0,570.3 1421.5,569.7 1422.0,569.0 1422.5,568.4 1423.0,567.7 1423.5,567.0 1424.0,566.2 1424.5,565.5 1425.0,564.7 1425.5,563.9 1426.0,563.1 1426.5,562.3 1427.0,561.5 1427.5,560.6 1428.0,559.8 1428.5,558.9 1429.0,558.1 1429.5,557.3 1430.0,556.5 1430.5,555.6 1431.0,554.8 1431.5,554.0 1432.0,553.3 1432.5,552.5 1433.0,551.8 1433.5,551.0 1434.0,550.4 1434.5,549.7 1435.0,549.1 1435.5,548.5 1436.0,547.9 1436.5,547.4 1437.0,546.9 1437.5,546.4 1438.0,546.0 1438.5,545.7 1439.0,545.4 1439.5,545.1 1440.0,544.9 1440.5,544.8 1441.0,544.7 1441.5,544.7 1442.0,544.7 1442.5,544.8 1443.0,544.9 1443.5,545.2 1444.0,545.4 1444.5,545.8 1445.0,546.1 1445.5,546.6 1446.0,547.0 1446.5,547.5 1447.0,548.1 1447.5,548.7 1448.0,549.3 1448.5,549.9 1449.0,550.6 1449.5,551.2 1450.0,551.9 1450.5,552.6 1451.0,553.3 1451.5,554.0 1452.0,554.8 1452.5,555.5 1453.0,556.2 1453.5,556.8 1454.0,557.5 1454.5,558.1 1455.0,558.7 1455.5,559.3 1456.0,559.9 1456.5,560.4 1457.0,560.9 1457.5,561.3 1458.0,561.7 1458.5,562.0 1459.0,562.3 1459.5,562.5 1460.0,562.6 1460.5,562.7 1461.0,562.7 1461.5,562.7 1462.0,562.5 1462.5,562.3 1463.0,562.1 1463.5,561.7 1464.0,561.3 1464.5,560.9 1465.0,560.3 1465.5,559.8 1466.0,559.2 1466.5,558.5 1467.0,557.8 1467.5,557.1 1468.0,556.4 1468.5,555.6 1469.0,554.8 1469.5,554.1 1470.0,553.3 1470.5,552.5 1471.0,551.7 1471.5,551.0 1472.0,550.2 1472.5,549.5 1473.0,548.9 1473.5,548.2 1474.0,547.6 1474.5,547.0 1475.0,546.5 1475.5,546.1 1476.0,545.7 1476.5,545.4 1477.0,545.2 1477.6,545.0 1478.1,544.9 1478.6,544.9 1479.1,545.1 1479.6,545.3 1480.1,545.5 1480.6,545.9 1481.1,546.4 1481.6,547.0 1482.1,547.6 1482.6,548.3 1483.1,549.1 1483.6,549.9 1484.1,550.8 1484.6,551.7 1485.1,552.7 1485.6,553.7 1486.1,554.7 1486.6,555.7 1487.1,556.7 1487.6,557.8 1488.1,558.8 1488.6,559.8 1489.1,560.8 1489.6,561.7 1490.1,562.6 1490.6,563.5 1491.1,564.3 1491.6,565.0 1492.1,565.7 1492.6,566.3 1493.1,566.8 1493.6,567.2 1494.1,567.6 1494.6,567.9 1495.1,568.0 1495.6,568.1 1496.1,568.1 1496.6,568.1 1497.1,567.9 1497.6,567.7 1498.1,567.4 1498.6,567.1 1499.1,566.7 1499.6,566.2 1500.1,565.7 1500.6,565.2 1501.1,564.6 1501.6,564.0 1502.1,563.3 1502.6,562.6 1503.1,561.9 1503.6,561.2 1504.1,560.4 1504.6,559.6 1505.1,558.7 1505.6,557.9 1506.1,557.0 1506.6,556.2 1507.1,555.3 1507.6,554.4 1508.1,553.5 1508.6,552.6 1509.1,551.7 1509.6,550.8 1510.1,550.0 1510.6,549.1 1511.1,548.2 1511.6,547.4 1512.1,546.5 1512.6,545.7 1513.1,544.9 1513.6,544.2 1514.1,543.5 1514.6,542.8 1515.1,542.1 1515.6,541.5 1516.1,540.9 1516.6,540.3 1517.1,539.8 1517.6,539.4 1518.1,539.0 1518.6,538.6 1519.1,538.3 1519.6,538.1 1520.1,537.9 1520.6,537.7 1521.1,537.7 1521.6,537.6 1522.1,537.7 1522.6,537.8 1523.1,537.9 1523.6,538.1 1524.1,538.3 1524.6,538.6 1525.1,538.9 1525.6,539.3 1526.1,539.7 1526.6,540.1 1527.1,540.6 1527.6,541.1 1528.1,541.7 1528.6,542.2 1529.1,542.8 1529.6,543.4 1530.1,544.1 1530.6,544.7 1531.1,545.4 1531.6,546.1 1532.1,546.8 1532.6,547.6 1533.1,548.3 1533.6,549.0 1534.1,549.8 1534.6,550.5 1535.1,551.3 1535.6,552.1 1536.1,552.8 1536.6,553.6 1537.1,554.3 1537.6,555.1 1538.1,555.8 1538.6,556.5 1539.1,557.3 1539.6,558.0 1540.1,558.6 1540.6,559.3 1541.1,560.0 1541.6,560.6 1542.1,561.2 1542.6,561.7 1543.1,562.3 1543.6,562.8 1544.1,563.3 1544.6,563.7 1545.1,564.1 1545.6,564.5 1546.1,564.8 1546.6,565.1 1547.1,565.4 1547.6,565.6 1548.1,565.7 1548.6,565.9 1549.1,565.9 1549.6,565.9 1550.1,565.9 1550.6,565.8 1551.1,565.7 1551.6,565.6 1552.1,565.4 1552.6,565.1 1553.1,564.9 1553.6,564.5 1554.1,564.2 1554.6,563.8 1555.1,563.4 1555.6,563.0 1556.1,562.6 1556.6,562.1 1557.1,561.6 1557.6,561.1 1558.1,560.6 1558.6,560.1 1559.1,559.5 1559.6,559.0 1560.1,558.4 1560.6,557.8 1561.1,557.3 1561.6,556.7 1562.1,556.2 1562.6,555.6 1563.1,555.0 1563.6,554.5 1564.1,554.0 1564.6,553.5 1565.1,553.0 1565.6,552.5 1566.1,552.0 1566.6,551.6 1567.1,551.2 1567.6,550.8 1568.1,550.4 1568.6,550.1 1569.1,549.8 1569.6,549.5 1570.1,549.3 1570.6,549.1 1571.1,549.0 1571.6,548.8 1572.1,548.8 1572.6,548.8 1573.1,548.8 1573.6,548.9 1574.1,549.0 1574.6,549.1 1575.1,549.3 1575.6,549.6 1576.1,549.8 1576.6,550.1 1577.1,550.5 1577.6,550.8 1578.1,551.2 1578.6,551.7 1579.1,552.1 1579.6,552.5 1580.1,553.0 1580.6,553.5 1581.1,554.0 1581.6,554.5 1582.1,555.0 1582.6,555.5 1583.1,556.0 1583.6,556.4 1584.1,556.9 1584.6,557.4 1585.1,557.8 1585.6,558.3 1586.1,558.7 1586.6,559.1 1587.1,559.5 1587.6,559.8 1588.1,560.1 1588.6,560.4 1589.1,560.6 1589.6,560.8 1590.1,561.0 1590.6,561.1 1591.1,561.2 1591.6,561.2 1592.1,561.2 1592.6,561.1 1593.1,561.0 1593.6,560.8 1594.1,560.6 1594.6,560.4 1595.1,560.1 1595.6,559.8 1596.1,559.5 1596.6,559.1 1597.1,558.7 1597.6,558.2 1598.1,557.7 1598.6,557.2 1599.1,556.7 1599.6,556.2 1600.1,555.6 1600.6,555.1 1601.1,554.5 1601.6,553.9 1602.1,553.3 1602.6,552.7 1603.1,552.1 1603.6,551.5 1604.1,550.9 1604.6,550.3 1605.1,549.7 1605.6,549.2 1606.1,548.6 1606.6,548.1 1607.1,547.5 1607.6,547.0 1608.1,546.5 1608.6,546.0 1609.1,545.6 1609.6,545.2 1610.1,544.8 1610.6,544.4 1611.1,544.1 1611.6,543.8 1612.1,543.6 1612.6,543.4 1613.1,543.3 1613.6,543.2 1614.1,543.1 1614.6,543.1 1615.1,543.1 1615.6,543.2 1616.1,543.4 1616.6,543.6 1617.1,543.8 1617.6,544.1 1618.1,544.5 1618.6,544.8 1619.1,545.3 1619.6,545.8 1620.1,546.3 1620.6,546.8 1621.1,547.4 1621.6,548.0 1622.1,548.7 1622.6,549.4 1623.1,550.1 1623.6,550.8 1624.1,551.6 1624.6,552.3 1625.1,553.1 1625.6,553.9 1626.1,554.8 1626.6,555.6 1627.1,556.4 1627.6,557.3 1628.1,558.2 1628.6,559.0 1629.1,559.9 1629.6,560.7 1630.1,561.6 1630.6,562.5 1631.1,563.3 1631.6,564.1 1632.1,565.0 1632.6,565.8 1633.1,566.6 1633.6,567.4 1634.1,568.1 1634.6,568.8 1635.1,569.6 1635.6,570.2 1636.1,570.9 1636.6,571.5 1637.1,572.1 1637.6,572.7 1638.1,573.2 1638.6,573.6 1639.1,574.1 1639.6,574.5 1640.1,574.8 1640.6,575.1 1641.1,575.4 1641.6,575.5 1642.1,575.7 1642.6,575.8 1643.1,575.8 1643.6,575.7 1644.1,575.6 1644.6,575.5 1645.1,575.2 1645.6,574.9 1646.1,574.6 1646.6,574.2 1647.1,573.7 1647.6,573.2 1648.1,572.6 1648.6,572.0 1649.1,571.3 1649.6,570.6 1650.1,569.8 1650.6,569.0 1651.1,568.1 1651.6,567.2 1652.1,566.3 1652.6,565.3 1653.1,564.3 1653.6,563.3 1654.1,562.3 1654.6,561.2 1655.1,560.1 1655.6,559.0 1656.1,557.9 1656.6,556.7 1657.1,555.6 1657.6,554.4 1658.1,553.2 1658.6,552.1 1659.1,550.9 1659.6,549.7 1660.1,548.5 1660.6,547.4 1661.1,546.2 1661.6,545.1 1662.1,543.9 1662.6,542.8 1663.1,541.7 1663.6,540.6 1664.1,539.5 1664.6,538.5 1665.1,537.4 1665.6,536.4 1666.1,535.5 1666.6,534.6 1667.1,533.7 1667.6,532.8 1668.2,532.0 1668.7,531.2 1669.2,530.5 1669.7,529.8 1670.2,529.2 1670.7,528.6 1671.2,528.1 1671.7,527.6 1672.2,527.2 1672.7,526.8 1673.2,526.5 1673.7,526.3 1674.2,526.1 1674.7,525.9 1675.2,525.8 1675.7,525.8 1676.2,525.8 1676.7,525.8 1677.2,525.8 1677.7,525.9 1678.2,526.0 1678.7,526.1 1679.2,526.2 1679.7,526.4 1680.2,526.5 1680.7,526.7 1681.2,526.9 1681.7,527.1 1682.2,527.3 1682.7,527.5 1683.2,527.7 1683.7,527.9 1684.2,528.1 1684.7,528.4 1685.2,528.6 1685.7,528.8 1686.2,529.1 1686.7,529.3 1687.2,529.6 1687.7,529.8 1688.2,530.1 1688.7,530.4 1689.2,530.7 1689.7,531.0 1690.2,531.3 1690.7,531.6 1691.2,532.0 1691.7,532.3 1692.2,532.7 1692.7,533.1 1693.2,533.4 1693.7,533.8 1694.2,534.3 1694.7,534.7 1695.2,535.1 1695.7,535.6 1696.2,536.0 1696.7,536.5 1697.2,536.9 1697.7,537.4 1698.2,537.9 1698.7,538.4 1699.2,538.9 1699.7,539.4 1700.2,539.9 1700.7,540.5 1701.2,541.0 1701.7,541.6 1702.2,542.2 1702.7,542.8 1703.2,543.5 1703.7,544.2 1704.2,544.9 1704.7,545.7 1705.2,546.4 1705.7,547.2 1706.2,548.1 1706.7,548.9 1707.2,549.8 1707.7,550.7 1708.2,551.7 1708.7,552.6 1709.2,553.6 1709.7,554.6 1710.2,555.6 1710.7,556.6 1711.2,557.6 1711.7,558.6 1712.2,559.6 1712.7,560.7 1713.2,561.7 1713.7,562.7 1714.2,563.8 1714.7,564.8 1715.2,565.8 1715.7,566.8 1716.2,567.8 1716.7,568.8 1717.2,569.8 1717.7,570.8 1718.2,571.7 1718.7,572.6 1719.2,573.5 1719.7,574.4 1720.2,575.3 1720.7,576.1 1721.2,576.9 1721.7,577.7 1722.2,578.4 1722.7,579.2 1723.2,579.8 1723.7,580.5 1724.2,581.1 1724.7,581.6 1725.2,582.1 1725.7,582.6 1726.2,583.0 1726.7,583.4 1727.2,583.7 1727.7,584.0 1728.2,584.2 1728.7,584.4 1729.2,584.5 1729.7,584.5 1730.2,584.5 1730.7,584.4 1731.2,584.2 1731.7,584.0 1732.2,583.7 1732.7,583.4 1733.2,583.0 1733.7,582.5 1734.2,582.0 1734.7,581.4 1735.2,580.8 1735.7,580.1 1736.2,579.4 1736.7,578.6 1737.2,577.8 1737.7,577.0 1738.2,576.1 1738.7,575.1 1739.2,574.1 1739.7,573.1 1740.2,572.1 1740.7,571.0 1741.2,569.9 1741.7,568.7 1742.2,567.6 1742.7,566.4 1743.2,565.2 1743.7,564.0 1744.2,562.8 1744.7,561.5 1745.2,560.3 1745.7,559.0 1746.2,557.7 1746.7,556.4 1747.2,555.2 1747.7,553.9 1748.2,552.6 1748.7,551.3 1749.2,550.1 1749.7,548.8 1750.2,547.6 1750.7,546.3 1751.2,545.1 1751.7,543.9 1752.2,542.7 1752.7,541.5 1753.2,540.4 1753.7,539.3 1754.2,538.2 1754.7,537.1 1755.2,536.1 1755.7,535.1 1756.2,534.1 1756.7,533.2 1757.2,532.3 1757.7,531.5 1758.2,530.7 1758.7,529.9 1759.2,529.2 1759.7,528.6 1760.2,528.0 1760.7,527.4 1761.2,526.9 1761.7,526.5 1762.2,526.1 1762.7,525.8 1763.2,525.6 1763.7,525.4 1764.2,525.3 1764.7,525.2 1765.2,525.2 1765.7,525.3 1766.2,525.4 1766.7,525.5 1767.2,525.7 1767.7,526.0 1768.2,526.3 1768.7,526.6 1769.2,527.0 1769.7,527.4 1770.2,527.9 1770.7,528.4 1771.2,529.0 1771.7,529.6 1772.2,530.2 1772.7,530.8 1773.2,531.5 1773.7,532.2 1774.2,533.0 1774.7,533.8 1775.2,534.6 1775.7,535.4 1776.2,536.2 1776.7,537.1 1777.2,538.0 1777.7,539.0 1778.2,539.9 1778.7,540.9 1779.2,541.8 1779.7,542.8 1780.2,543.8 1780.7,544.9 1781.2,545.9 1781.7,547.0 1782.2,548.0 1782.7,549.1 1783.2,550.2 1783.7,551.2 1784.2,552.3 1784.7,553.4 1785.2,554.5 1785.7,555.6 1786.2,556.7 1786.7,557.8 1787.2,558.9 1787.7,560.0 1788.2,561.0 1788.7,562.1 1789.2,563.2 1789.7,564.2 1790.2,565.3 1790.7,566.3 1791.2,567.3 1791.7,568.3 1792.2,569.3 1792.7,570.3 1793.2,571.3 1793.7,572.2 1794.2,573.1 1794.7,574.0 1795.2,574.9 1795.7,575.8 1796.2,576.6 1796.7,577.4 1797.2,578.1 1797.7,578.9 1798.2,579.6 1798.7,580.3 1799.2,580.9 1799.7,581.5 1800.2,582.1 1800.7,582.7 1801.2,583.2 1801.7,583.6 1802.2,584.0 1802.7,584.4 1803.2,584.8 1803.7,585.1 1804.2,585.3 1804.7,585.5 1805.2,585.7 1805.7,585.8 1806.2,585.9 1806.7,585.9 1807.2,585.9 1807.7,585.8 1808.2,585.7 1808.7,585.6 1809.2,585.5 1809.7,585.3 1810.2,585.0 1810.7,584.8 1811.2,584.4 1811.7,584.1 1812.2,583.8 1812.7,583.4 1813.2,582.9 1813.7,582.5 1814.2,582.0 1814.7,581.5 1815.2,581.0 1815.7,580.4 1816.2,579.8 1816.7,579.2 1817.2,578.6 1817.7,577.9 1818.2,577.3 1818.7,576.6 1819.2,575.9 1819.7,575.1 1820.2,574.4 1820.7,573.6 1821.2,572.8 1821.7,572.0 1822.2,571.2 1822.7,570.3 1823.2,569.5 1823.7,568.6 1824.2,567.7 1824.7,566.8 1825.2,565.9 1825.7,565.0 1826.2,564.1 1826.7,563.1 1827.2,562.2 1827.7,561.2 1828.2,560.3 1828.7,559.3 1829.2,558.3 1829.7,557.3 1830.2,556.3 1830.7,555.4 1831.2,554.4 1831.7,553.4 1832.2,552.4 1832.7,551.4 1833.2,550.4 1833.7,549.4 1834.2,548.4 1834.7,547.4 1835.2,546.4 1835.7,545.4 1836.2,544.4 1836.7,543.4 1837.2,542.4 1837.7,541.5 1838.2,540.5 1838.7,539.6 1839.2,538.6 1839.7,537.7 1840.2,536.7 1840.7,535.8 1841.2,534.9 1841.7,534.0 1842.2,533.1 1842.7,532.3 1843.2,531.4 1843.7,530.6 1844.2,529.8 1844.7,528.9 1845.2,528.2 1845.7,527.4 1846.2,526.6 1846.7,525.9 1847.2,525.2 1847.7,524.5 1848.2,523.8 1848.7,523.2 1849.2,522.5 1849.7,521.9 1850.2,521.3 1850.7,520.8 1851.2,520.2 1851.7,519.7 1852.2,519.3 1852.7,518.8 1853.2,518.4 1853.7,518.0 1854.2,517.6 1854.7,517.3 1855.2,517.0 1855.7,516.7 1856.2,516.5 1856.7,516.3 1857.2,516.2 1857.7,516.0 1858.2,516.0 1858.7,516.0 1859.3,516.0 1859.8,516.1 1860.3,516.2 1860.8,516.4 1861.3,516.7 1861.8,517.1 1862.3,517.5 1862.8,518.0 1863.3,518.6 1863.8,519.2 1864.3,519.9 1864.8,520.7 1865.3,521.6 1865.8,522.5 1866.3,523.4 1866.8,524.4 1867.3,525.5 1867.8,526.6 1868.3,527.8 1868.8,529.0 1869.3,530.3 1869.8,531.6 1870.3,533.0 1870.8,534.4 1871.3,535.8 1871.8,537.3 1872.3,538.7 1872.8,540.3 1873.3,541.8 1873.8,543.4 1874.3,545.0 1874.8,546.6 1875.3,548.2 1875.8,549.9 1876.3,551.5 1876.8,553.2 1877.3,554.8 1877.8,556.5 1878.3,558.2 1878.8,559.9 1879.3,561.6 1879.8,563.2 1880.3,564.9 1880.8,566.5 1881.3,568.2 1881.8,569.8 1882.3,571.4 1882.8,573.0 1883.3,574.6 1883.8,576.2 1884.3,577.7 1884.8,579.2 1885.3,580.6 1885.8,582.1 1886.3,583.5 1886.8,584.8 1887.3,586.2 1887.8,587.4 1888.3,588.7 1888.8,589.8 1889.3,591.0 1889.8,592.1 1890.3,593.1 1890.8,594.1 1891.3,595.0 1891.8,595.8 1892.3,596.6 1892.8,597.3 1893.3,598.0 1893.8,598.6 1894.3,599.1 1894.8,599.5 1895.3,599.8 1895.8,600.1 1896.3,600.3 1896.8,600.3 1897.3,600.3 1897.8,600.1 1898.3,599.9 1898.8,599.5 1899.3,599.0 1899.8,598.3 1900.3,597.6 1900.8,596.7 1901.3,595.8 1901.8,594.7 1902.3,593.5 1902.8,592.2 1903.3,590.8 1903.8,589.3 1904.3,587.7 1904.8,586.1 1905.3,584.3 1905.8,582.5 1906.3,580.6 1906.8,578.7 1907.3,576.7 1907.8,574.6 1908.3,572.5 1908.8,570.3 1909.3,568.2 1909.8,565.9 1910.3,563.7 1910.8,561.4 1911.3,559.1 1911.8,556.7 1912.3,554.4 1912.8,552.1 1913.3,549.7 1913.8,547.4 1914.3,545.0 1914.8,542.7 1915.3,540.4 1915.8,538.1 1916.3,535.9 1916.8,533.7 1917.3,531.5 1917.8,529.4 1918.3,527.3 1918.8,525.2 1919.3,523.3 1919.8,521.3 1920.3,519.5 1920.8,517.7 1921.3,516.0 1921.8,514.4 1922.3,512.8 1922.8,511.4 1923.3,510.0 1923.8,508.8 1924.3,507.6 1924.8,506.6 1925.3,505.6 1925.8,504.8 1926.3,504.1 1926.8,503.6 1927.3,503.1 1927.8,502.8 1928.3,502.6 1928.8,502.5 1929.3,502.5 1929.8,502.6 1930.3,502.8 1930.8,503.1 1931.3,503.5 1931.8,504.0 1932.3,504.6 1932.8,505.3 1933.3,506.0 1933.8,506.8 1934.3,507.7 1934.8,508.6 1935.3,509.6 1935.8,510.7 1936.3,511.8 1936.8,513.0 1937.3,514.3 1937.8,515.6 1938.3,517.0 1938.8,518.4 1939.3,519.9 1939.8,521.4 1940.3,523.0 1940.8,524.6 1941.3,526.2 1941.8,527.9 1942.3,529.7 1942.8,531.4 1943.3,533.2 1943.8,535.0 1944.3,536.9 1944.8,538.8 1945.3,540.7 1945.8,542.6 1946.3,544.5 1946.8,546.5 1947.3,548.5 1947.8,550.5 1948.3,552.5 1948.8,554.5 1949.3,556.5 1949.8,558.5 1950.3,560.5 1950.8,562.6 1951.3,564.6 1951.8,566.6 1952.3,568.6 1952.8,570.6 1953.3,572.6 1953.8,574.6 1954.3,576.5 1954.8,578.5 1955.3,580.4 1955.8,582.3 1956.3,584.2 1956.8,586.0 1957.3,587.9 1957.8,589.6 1958.3,591.4 1958.8,593.1 1959.3,594.8 1959.8,596.5 1960.3,598.1 1960.8,599.6 1961.3,601.2 1961.8,602.6 1962.3,604.0 1962.8,605.4 1963.3,606.7 1963.8,608.0 1964.3,609.2 1964.8,610.3 1965.3,611.4 1965.8,612.4 1966.3,613.3 1966.8,614.2 1967.3,615.0 1967.8,615.7 1968.3,616.4 1968.8,617.0 1969.3,617.5 1969.8,617.9 1970.3,618.2 1970.8,618.4 1971.3,618.6 1971.8,618.6 1972.3,618.6 1972.8,618.5 1973.3,618.3 1973.8,618.0 1974.3,617.6 1974.8,617.2 1975.3,616.6 1975.8,616.0 1976.3,615.2 1976.8,614.4 1977.3,613.5 1977.8,612.6 1978.3,611.5 1978.8,610.4 1979.3,609.2 1979.8,607.9 1980.3,606.5 1980.8,605.1 1981.3,603.5 1981.8,601.9 1982.3,600.3 1982.8,598.5 1983.3,596.7 1983.8,594.9 1984.3,592.9 1984.8,590.9 1985.3,588.8 1985.8,586.7 1986.3,584.5 1986.8,582.2 1987.3,579.9 1987.8,577.5 1988.3,575.1 1988.8,572.6 1989.3,570.0 1989.8,567.4 1990.3,564.7 1990.8,562.0 1991.3,559.2 1991.8,556.4 1992.3,553.5 1992.8,550.6 1993.3,547.6 1993.8,544.6 1994.3,541.5 1994.8,538.4 1995.3,535.3 1995.8,532.1 1996.3,528.8 1996.8,525.5 1997.3,522.2 1997.8,518.9 1998.3,515.5 1998.8,512.0 1999.3,508.6 1999.8,505.1 2000.3,501.5 2000.8,498.0 2001.3,494.4 2001.8,490.8 2002.3,487.2 2002.8,483.5 2003.3,479.9" fill="none" stroke="#0000ff" stroke-width="1.7" stroke-linejoin="round" />
<text x="192.5" y="506" font-size="46.3" letter-spacing="0.9" text-anchor="middle"  >0.05</text>
<text x="215.6" y="570.8" font-size="46.3" letter-spacing="0.9" text-anchor="middle"  >0</text>
<text x="178.2" y="636.8" font-size="46.3" letter-spacing="0.9" text-anchor="middle"  >−0.05</text>
<text x="230.8" y="680.4" font-size="46.3" letter-spacing="0.9" text-anchor="middle"  >0</text>
<text x="394.8" y="680.4" font-size="46.3" letter-spacing="0.9" text-anchor="middle"  >400</text>
<text x="561.8" y="680.4" font-size="46.3" letter-spacing="0.9" text-anchor="middle"  >800</text>
<text x="729.9" y="680.4" font-size="46.3" letter-spacing="0.9" text-anchor="middle"  >1200</text>
<text x="893.1" y="677.4" font-size="46.3" letter-spacing="0.9" text-anchor="middle"  >1600</text>
<text x="1051.8" y="677.4" font-size="46.3" letter-spacing="0.9" text-anchor="middle"  >2000</text>
<text x="101.9" y="567.3" font-size="70" font-style="italic">c</text>
<text x="131.6" y="584" font-size="42" font-style="italic">5</text>
<text x="1129" y="508.5" font-size="46.3" letter-spacing="0.9" text-anchor="middle"  >0.05</text>
<text x="1151.8" y="573.3" font-size="46.3" letter-spacing="0.9" text-anchor="middle"  >0</text>
<text x="1119.5" y="639.7" font-size="46.3" letter-spacing="0.9" text-anchor="middle"  >−0.05</text>
<text x="1179.8" y="678" font-size="46.3" letter-spacing="0.9" text-anchor="middle"  >0</text>
<text x="1342" y="678" font-size="46.3" letter-spacing="0.9" text-anchor="middle"  >400</text>
<text x="1506.9" y="678" font-size="46.3" letter-spacing="0.9" text-anchor="middle"  >800</text>
<text x="1676.2" y="676.7" font-size="46.3" letter-spacing="0.9" text-anchor="middle"  >1200</text>
<text x="1840.6" y="674.2" font-size="46.3" letter-spacing="0.9" text-anchor="middle"  >1600</text>
<text x="1998.7" y="674.2" font-size="46.3" letter-spacing="0.9" text-anchor="middle"  >2000</text>
<text x="2018" y="577" font-size="70" font-style="italic">c</text>
<text x="2048.1" y="593.2" font-size="42">6</text>
<rect x="235.0" y="695.5" width="830.0" height="155.0" fill="none" stroke="#000" stroke-width="1.8"/>
<path d="M318.0 695.5v8.0M318.0 850.5v-8.0M401.0 695.5v8.0M401.0 850.5v-8.0M484.0 695.5v8.0M484.0 850.5v-8.0M567.0 695.5v8.0M567.0 850.5v-8.0M650.0 695.5v8.0M650.0 850.5v-8.0M733.0 695.5v8.0M733.0 850.5v-8.0M816.0 695.5v8.0M816.0 850.5v-8.0M899.0 695.5v8.0M899.0 850.5v-8.0M982.0 695.5v8.0M982.0 850.5v-8.0M235.0 773.0h8.0M1065.0 773.0h-8.0" stroke="#000" stroke-width="1.7" fill="none"/>
<polyline points="235.2,824.4 235.7,822.2 236.2,820.0 236.7,817.8 237.2,815.6 237.7,813.4 238.2,811.2 238.7,809.1 239.2,807.0 239.7,804.9 240.2,802.8 240.7,800.8 241.2,798.8 241.7,796.8 242.2,794.9 242.7,793.0 243.2,791.2 243.7,789.4 244.2,787.6 244.7,785.9 245.2,784.2 245.7,782.6 246.2,781.0 246.7,779.5 247.2,777.9 247.7,776.5 248.2,775.1 248.7,773.7 249.2,772.3 249.7,771.0 250.2,769.7 250.7,768.5 251.2,767.3 251.7,766.1 252.2,764.9 252.7,763.8 253.2,762.7 253.7,761.6 254.2,760.5 254.7,759.5 255.2,758.4 255.7,757.4 256.2,756.5 256.7,755.5 257.2,754.6 257.7,753.7 258.2,752.8 258.7,752.0 259.2,751.1 259.7,750.4 260.2,749.6 260.7,748.9 261.2,748.2 261.7,747.5 262.2,746.9 262.7,746.3 263.2,745.7 263.7,745.1 264.2,744.6 264.7,744.1 265.2,743.6 265.7,743.1 266.2,742.7 266.7,742.2 267.2,741.8 267.7,741.4 268.2,741.0 268.7,740.5 269.2,740.1 269.7,739.7 270.2,739.4 270.7,739.0 271.2,738.6 271.7,738.3 272.2,737.9 272.7,737.6 273.2,737.2 273.7,736.9 274.2,736.6 274.7,736.3 275.2,736.0 275.7,735.8 276.2,735.5 276.7,735.3 277.2,735.1 277.7,734.9 278.2,734.7 278.7,734.5 279.2,734.3 279.7,734.2 280.2,734.1 280.7,734.0 281.2,733.9 281.7,733.8 282.2,733.8 282.7,733.7 283.2,733.7 283.7,733.7 284.2,733.7 284.7,733.7 285.2,733.8 285.7,733.8 286.2,733.9 286.7,734.0 287.2,734.1 287.7,734.2 288.2,734.3 288.7,734.4 289.2,734.6 289.7,734.7 290.2,734.9 290.7,735.0 291.2,735.2 291.7,735.4 292.2,735.6 292.7,735.8 293.2,736.0 293.7,736.2 294.2,736.5 294.7,736.7 295.2,737.0 295.7,737.2 296.2,737.5 296.7,737.8 297.2,738.1 297.7,738.4 298.2,738.7 298.7,739.0 299.2,739.3 299.7,739.6 300.2,740.0 300.7,740.3 301.2,740.7 301.7,741.0 302.2,741.4 302.7,741.7 303.2,742.1 303.7,742.5 304.2,742.9 304.7,743.3 305.2,743.7 305.7,744.1 306.2,744.5 306.7,744.9 307.2,745.3 307.7,745.8 308.2,746.2 308.7,746.6 309.2,747.1 309.7,747.5 310.2,748.0 310.7,748.4 311.2,748.9 311.7,749.4 312.2,749.8 312.7,750.3 313.2,750.8 313.7,751.3 314.2,751.7 314.7,752.2 315.2,752.7 315.7,753.2 316.2,753.7 316.7,754.2 317.2,754.7 317.7,755.2 318.2,755.7 318.7,756.2 319.2,756.7 319.7,757.2 320.2,757.7 320.7,758.2 321.2,758.7 321.7,759.2 322.2,759.7 322.7,760.2 323.2,760.8 323.7,761.3 324.2,761.8 324.7,762.3 325.2,762.8 325.7,763.3 326.2,763.8 326.7,764.3 327.2,764.8 327.7,765.3 328.2,765.9 328.7,766.4 329.2,766.9 329.7,767.4 330.2,767.9 330.7,768.4 331.2,768.9 331.7,769.4 332.2,769.9 332.7,770.3 333.2,770.8 333.7,771.3 334.2,771.8 334.7,772.3 335.2,772.8 335.7,773.2 336.2,773.7 336.7,774.2 337.2,774.6 337.7,775.1 338.2,775.5 338.7,776.0 339.2,776.4 339.7,776.9 340.2,777.3 340.7,777.7 341.2,778.2 341.7,778.6 342.2,779.0 342.7,779.4 343.2,779.8 343.7,780.2 344.2,780.6 344.7,781.0 345.2,781.4 345.7,781.7 346.2,782.1 346.7,782.5 347.2,782.8 347.7,783.2 348.2,783.5 348.7,783.8 349.2,784.2 349.7,784.5 350.2,784.8 350.7,785.1 351.2,785.4 351.7,785.7 352.2,785.9 352.7,786.2 353.2,786.5 353.7,786.7 354.2,786.9 354.7,787.2 355.2,787.4 355.7,787.6 356.2,787.8 356.7,788.0 357.2,788.2 357.7,788.4 358.2,788.5 358.7,788.7 359.2,788.8 359.7,788.9 360.2,789.1 360.7,789.2 361.2,789.3 361.7,789.4 362.2,789.4 362.7,789.5 363.2,789.6 363.7,789.6 364.2,789.6 364.7,789.7 365.2,789.7 365.7,789.7 366.2,789.7 366.7,789.6 367.2,789.6 367.7,789.6 368.2,789.5 368.7,789.5 369.2,789.4 369.7,789.3 370.2,789.3 370.7,789.2 371.2,789.1 371.7,789.0 372.2,788.9 372.7,788.7 373.2,788.6 373.7,788.5 374.2,788.4 374.7,788.2 375.2,788.1 375.7,787.9 376.2,787.7 376.7,787.6 377.2,787.4 377.7,787.2 378.2,787.0 378.7,786.8 379.2,786.6 379.7,786.4 380.2,786.2 380.7,786.0 381.2,785.8 381.7,785.6 382.2,785.3 382.7,785.1 383.2,784.9 383.7,784.6 384.2,784.4 384.7,784.1 385.2,783.9 385.7,783.6 386.2,783.4 386.7,783.1 387.2,782.9 387.7,782.6 388.2,782.3 388.7,782.1 389.2,781.8 389.7,781.5 390.2,781.2 390.7,781.0 391.2,780.7 391.7,780.4 392.2,780.1 392.7,779.8 393.2,779.5 393.7,779.2 394.2,778.9 394.7,778.7 395.2,778.4 395.7,778.1 396.2,777.8 396.7,777.5 397.2,777.2 397.7,776.9 398.2,776.6 398.7,776.3 399.2,776.0 399.7,775.7 400.2,775.4 400.7,775.2 401.2,774.9 401.7,774.6 402.2,774.3 402.7,774.0 403.2,773.7 403.7,773.4 404.2,773.2 404.7,772.9 405.2,772.6 405.7,772.3 406.2,772.1 406.7,771.8 407.2,771.5 407.7,771.3 408.2,771.0 408.7,770.8 409.2,770.5 409.7,770.2 410.2,770.0 410.7,769.8 411.2,769.5 411.7,769.3 412.2,769.1 412.7,768.8 413.2,768.6 413.7,768.4 414.2,768.2 414.7,768.0 415.2,767.8 415.7,767.6 416.2,767.4 416.7,767.2 417.2,767.0 417.7,766.8 418.2,766.7 418.7,766.5 419.2,766.4 419.7,766.2 420.2,766.1 420.7,765.9 421.2,765.8 421.7,765.7 422.2,765.6 422.7,765.5 423.2,765.3 423.7,765.3 424.2,765.2 424.7,765.1 425.2,765.0 425.7,765.0 426.2,764.9 426.7,764.9 427.2,764.8 427.7,764.8 428.2,764.8 428.7,764.8 429.2,764.8 429.7,764.8 430.2,764.8 430.7,764.9 431.2,764.9 431.7,765.0 432.2,765.0 432.7,765.1 433.2,765.2 433.7,765.3 434.2,765.4 434.7,765.6 435.2,765.7 435.7,765.8 436.2,766.0 436.7,766.1 437.2,766.3 437.7,766.5 438.2,766.7 438.7,766.9 439.2,767.1 439.7,767.3 440.2,767.5 440.7,767.7 441.2,768.0 441.7,768.2 442.2,768.5 442.8,768.7 443.3,769.0 443.8,769.2 444.3,769.5 444.8,769.7 445.3,770.0 445.8,770.3 446.3,770.6 446.8,770.8 447.3,771.1 447.8,771.4 448.3,771.7 448.8,772.0 449.3,772.2 449.8,772.5 450.3,772.8 450.8,773.1 451.3,773.4 451.8,773.7 452.3,774.0 452.8,774.2 453.3,774.5 453.8,774.8 454.3,775.1 454.8,775.3 455.3,775.6 455.8,775.9 456.3,776.1 456.8,776.4 457.3,776.7 457.8,776.9 458.3,777.2 458.8,777.4 459.3,777.6 459.8,777.9 460.3,778.1 460.8,778.3 461.3,778.5 461.8,778.7 462.3,778.9 462.8,779.1 463.3,779.3 463.8,779.4 464.3,779.6 464.8,779.7 465.3,779.9 465.8,780.0 466.3,780.1 466.8,780.2 467.3,780.3 467.8,780.4 468.3,780.5 468.8,780.5 469.3,780.6 469.8,780.6 470.3,780.6 470.8,780.6 471.3,780.6 471.8,780.6 472.3,780.6 472.8,780.5 473.3,780.4 473.8,780.4 474.3,780.3 474.8,780.1 475.3,780.0 475.8,779.9 476.3,779.7 476.8,779.5 477.3,779.3 477.8,779.1 478.3,778.9 478.8,778.7 479.3,778.5 479.8,778.2 480.3,778.0 480.8,777.7 481.3,777.4 481.8,777.1 482.3,776.8 482.8,776.5 483.3,776.2 483.8,775.9 484.3,775.6 484.8,775.2 485.3,774.9 485.8,774.5 486.3,774.2 486.8,773.8 487.3,773.5 487.8,773.1 488.3,772.7 488.8,772.4 489.3,772.0 489.8,771.6 490.3,771.3 490.8,770.9 491.3,770.5 491.8,770.1 492.3,769.8 492.8,769.4 493.3,769.0 493.8,768.7 494.3,768.3 494.8,767.9 495.3,767.6 495.8,767.2 496.3,766.9 496.8,766.5 497.3,766.2 497.8,765.9 498.3,765.5 498.8,765.2 499.3,764.9 499.8,764.6 500.3,764.3 500.8,764.0 501.3,763.7 501.8,763.5 502.3,763.2 502.8,763.0 503.3,762.7 503.8,762.5 504.3,762.3 504.8,762.1 505.3,761.9 505.8,761.7 506.3,761.6 506.8,761.4 507.3,761.3 507.8,761.2 508.3,761.1 508.8,761.0 509.3,761.0 509.8,760.9 510.3,760.9 510.8,760.9 511.3,760.9 511.8,761.0 512.3,761.1 512.8,761.1 513.3,761.3 513.8,761.4 514.3,761.5 514.8,761.7 515.3,761.9 515.8,762.1 516.3,762.4 516.8,762.6 517.3,762.9 517.8,763.2 518.3,763.5 518.8,763.8 519.3,764.2 519.8,764.6 520.3,764.9 520.8,765.3 521.3,765.7 521.8,766.2 522.3,766.6 522.8,767.0 523.3,767.5 523.8,768.0 524.3,768.4 524.8,768.9 525.3,769.4 525.8,769.9 526.3,770.4 526.8,770.9 527.3,771.5 527.8,772.0 528.3,772.5 528.8,773.0 529.3,773.6 529.8,774.1 530.3,774.7 530.8,775.2 531.3,775.7 531.8,776.3 532.3,776.8 532.8,777.3 533.3,777.9 533.8,778.4 534.3,778.9 534.8,779.5 535.3,780.0 535.8,780.5 536.3,781.0 536.8,781.5 537.3,782.0 537.8,782.4 538.3,782.9 538.8,783.4 539.3,783.8 539.8,784.2 540.3,784.7 540.8,785.1 541.3,785.5 541.8,785.9 542.3,786.2 542.8,786.6 543.3,786.9 543.8,787.2 544.3,787.5 544.8,787.8 545.3,788.1 545.8,788.3 546.3,788.5 546.8,788.7 547.3,788.9 547.8,789.0 548.3,789.2 548.8,789.3 549.3,789.3 549.8,789.4 550.3,789.4 550.8,789.4 551.3,789.3 551.8,789.3 552.3,789.1 552.8,789.0 553.3,788.8 553.8,788.6 554.3,788.4 554.8,788.1 555.3,787.8 555.8,787.4 556.3,787.1 556.8,786.7 557.3,786.2 557.8,785.8 558.3,785.3 558.8,784.8 559.3,784.2 559.8,783.7 560.3,783.1 560.8,782.5 561.3,781.9 561.8,781.3 562.3,780.6 562.8,779.9 563.3,779.3 563.8,778.6 564.3,777.9 564.8,777.1 565.3,776.4 565.8,775.7 566.3,774.9 566.8,774.2 567.3,773.4 567.8,772.7 568.3,771.9 568.8,771.1 569.3,770.4 569.8,769.6 570.3,768.8 570.8,768.1 571.3,767.3 571.8,766.6 572.3,765.8 572.8,765.1 573.3,764.3 573.8,763.6 574.3,762.9 574.8,762.2 575.3,761.5 575.8,760.9 576.3,760.2 576.8,759.6 577.3,759.0 577.8,758.4 578.3,757.8 578.8,757.2 579.3,756.7 579.8,756.2 580.3,755.7 580.8,755.3 581.3,754.8 581.8,754.4 582.3,754.1 582.8,753.7 583.3,753.4 583.8,753.1 584.3,752.9 584.8,752.7 585.3,752.5 585.8,752.3 586.3,752.2 586.8,752.2 587.3,752.1 587.8,752.1 588.3,752.1 588.8,752.2 589.3,752.3 589.8,752.4 590.3,752.6 590.8,752.7 591.3,752.9 591.8,753.2 592.3,753.4 592.8,753.7 593.3,754.0 593.8,754.3 594.3,754.7 594.8,755.1 595.3,755.4 595.8,755.9 596.3,756.3 596.8,756.7 597.3,757.2 597.8,757.7 598.3,758.2 598.8,758.7 599.3,759.3 599.8,759.8 600.3,760.4 600.8,760.9 601.3,761.5 601.8,762.1 602.3,762.8 602.8,763.4 603.3,764.0 603.8,764.7 604.3,765.3 604.8,766.0 605.3,766.7 605.8,767.3 606.3,768.0 606.8,768.7 607.3,769.4 607.8,770.1 608.3,770.8 608.8,771.5 609.3,772.2 609.8,772.9 610.3,773.6 610.8,774.3 611.3,775.0 611.8,775.7 612.3,776.4 612.8,777.1 613.3,777.8 613.8,778.5 614.3,779.2 614.8,779.9 615.3,780.5 615.8,781.2 616.3,781.9 616.8,782.5 617.3,783.2 617.8,783.8 618.3,784.4 618.8,785.0 619.3,785.6 619.8,786.2 620.3,786.8 620.8,787.4 621.3,787.9 621.8,788.4 622.3,788.9 622.8,789.4 623.3,789.9 623.8,790.4 624.3,790.8 624.8,791.3 625.3,791.7 625.8,792.0 626.3,792.4 626.8,792.8 627.3,793.1 627.8,793.4 628.3,793.6 628.8,793.9 629.3,794.1 629.8,794.3 630.3,794.5 630.8,794.6 631.3,794.7 631.8,794.8 632.3,794.9 632.8,794.9 633.3,794.9 633.8,794.8 634.3,794.8 634.8,794.7 635.3,794.5 635.8,794.4 636.3,794.2 636.8,793.9 637.3,793.7 637.8,793.4 638.3,793.1 638.8,792.7 639.3,792.4 639.8,792.0 640.3,791.5 640.8,791.1 641.3,790.6 641.8,790.1 642.3,789.6 642.8,789.1 643.3,788.5 643.8,787.9 644.3,787.4 644.8,786.7 645.3,786.1 645.8,785.5 646.3,784.8 646.8,784.1 647.3,783.4 647.8,782.7 648.3,782.0 648.8,781.3 649.3,780.6 649.8,779.8 650.3,779.1 650.8,778.3 651.3,777.6 651.8,776.8 652.3,776.0 652.8,775.3 653.3,774.5 653.8,773.7 654.3,772.9 654.8,772.1 655.3,771.3 655.8,770.6 656.3,769.8 656.8,769.0 657.3,768.2 657.8,767.5 658.3,766.7 658.8,766.0 659.3,765.2 659.8,764.5 660.3,763.7 660.8,763.0 661.3,762.3 661.8,761.6 662.3,760.9 662.8,760.3 663.3,759.6 663.8,759.0 664.3,758.3 664.8,757.7 665.3,757.1 665.8,756.6 666.3,756.0 666.8,755.5 667.3,755.0 667.8,754.5 668.3,754.0 668.8,753.6 669.3,753.2 669.8,752.8 670.3,752.4 670.8,752.1 671.3,751.8 671.8,751.5 672.3,751.2 672.8,751.0 673.3,750.8 673.8,750.7 674.3,750.5 674.8,750.4 675.3,750.3 675.8,750.3 676.3,750.3 676.8,750.3 677.3,750.3 677.8,750.3 678.3,750.4 678.8,750.5 679.3,750.6 679.8,750.7 680.3,750.9 680.8,751.0 681.3,751.2 681.8,751.4 682.3,751.6 682.8,751.8 683.3,752.0 683.8,752.3 684.3,752.5 684.8,752.8 685.3,753.1 685.8,753.4 686.3,753.7 686.8,754.0 687.3,754.4 687.8,754.7 688.3,755.1 688.8,755.5 689.3,755.9 689.8,756.2 690.3,756.7 690.8,757.1 691.3,757.5 691.8,757.9 692.3,758.4 692.8,758.8 693.3,759.3 693.8,759.7 694.3,760.2 694.8,760.7 695.3,761.2 695.8,761.7 696.3,762.1 696.8,762.7 697.3,763.2 697.8,763.7 698.3,764.2 698.8,764.7 699.3,765.2 699.8,765.8 700.3,766.3 700.8,766.8 701.3,767.4 701.8,767.9 702.3,768.5 702.8,769.0 703.3,769.6 703.8,770.1 704.3,770.7 704.8,771.2 705.3,771.8 705.8,772.3 706.3,772.9 706.8,773.4 707.3,774.0 707.8,774.5 708.3,775.1 708.8,775.6 709.3,776.2 709.8,776.7 710.3,777.2 710.8,777.8 711.3,778.3 711.8,778.8 712.3,779.3 712.8,779.9 713.3,780.4 713.8,780.9 714.3,781.4 714.8,781.9 715.3,782.4 715.8,782.8 716.3,783.3 716.8,783.8 717.3,784.2 717.8,784.7 718.3,785.1 718.8,785.6 719.3,786.0 719.8,786.4 720.3,786.8 720.8,787.2 721.3,787.6 721.8,788.0 722.3,788.3 722.8,788.7 723.3,789.0 723.8,789.4 724.3,789.7 724.8,790.0 725.3,790.3 725.8,790.6 726.3,790.8 726.8,791.1 727.3,791.3 727.8,791.6 728.3,791.8 728.8,792.0 729.3,792.2 729.8,792.3 730.3,792.5 730.8,792.6 731.3,792.7 731.8,792.8 732.3,792.9 732.8,793.0 733.3,793.0 733.8,793.1 734.3,793.1 734.8,793.1 735.3,793.1 735.8,793.1 736.3,793.1 736.8,793.0 737.3,793.0 737.8,792.9 738.3,792.9 738.8,792.8 739.3,792.7 739.8,792.6 740.3,792.5 740.8,792.4 741.3,792.2 741.8,792.1 742.3,792.0 742.8,791.8 743.3,791.7 743.8,791.5 744.3,791.3 744.8,791.1 745.3,790.9 745.8,790.7 746.3,790.5 746.8,790.3 747.3,790.1 747.8,789.9 748.3,789.7 748.8,789.4 749.3,789.2 749.8,788.9 750.3,788.7 750.8,788.4 751.3,788.1 751.8,787.9 752.3,787.6 752.8,787.3 753.3,787.0 753.8,786.7 754.3,786.4 754.8,786.1 755.3,785.8 755.8,785.5 756.3,785.1 756.8,784.8 757.3,784.5 757.8,784.2 758.3,783.8 758.8,783.5 759.3,783.1 759.8,782.8 760.3,782.5 760.8,782.1 761.3,781.7 761.8,781.4 762.3,781.0 762.8,780.7 763.3,780.3 763.8,779.9 764.3,779.6 764.8,779.2 765.3,778.8 765.8,778.4 766.3,778.1 766.8,777.7 767.3,777.3 767.8,776.9 768.3,776.5 768.8,776.2 769.3,775.8 769.8,775.4 770.3,775.0 770.8,774.6 771.3,774.2 771.8,773.8 772.3,773.5 772.8,773.1 773.3,772.7 773.8,772.3 774.3,771.9 774.8,771.5 775.3,771.2 775.8,770.8 776.3,770.4 776.8,770.0 777.3,769.7 777.8,769.3 778.3,768.9 778.8,768.5 779.3,768.2 779.8,767.8 780.3,767.5 780.8,767.1 781.3,766.7 781.8,766.4 782.3,766.0 782.8,765.7 783.3,765.3 783.8,765.0 784.3,764.7 784.8,764.3 785.3,764.0 785.8,763.7 786.3,763.4 786.8,763.0 787.3,762.7 787.8,762.4 788.3,762.1 788.8,761.8 789.3,761.5 789.8,761.2 790.3,761.0 790.8,760.7 791.3,760.4 791.8,760.1 792.3,759.9 792.8,759.6 793.3,759.4 793.8,759.1 794.3,758.9 794.8,758.7 795.3,758.5 795.8,758.2 796.3,758.0 796.8,757.8 797.4,757.6 797.9,757.5 798.4,757.3 798.9,757.1 799.4,757.0 799.9,756.8 800.4,756.7 800.9,756.5 801.4,756.4 801.9,756.3 802.4,756.2 802.9,756.1 803.4,756.0 803.9,755.9 804.4,755.8 804.9,755.7 805.4,755.7 805.9,755.6 806.4,755.6 806.9,755.6 807.4,755.5 807.9,755.5 808.4,755.5 808.9,755.5 809.4,755.5 809.9,755.6 810.4,755.6 810.9,755.6 811.4,755.6 811.9,755.7 812.4,755.7 812.9,755.8 813.4,755.9 813.9,755.9 814.4,756.0 814.9,756.1 815.4,756.2 815.9,756.2 816.4,756.3 816.9,756.4 817.4,756.5 817.9,756.6 818.4,756.8 818.9,756.9 819.4,757.0 819.9,757.1 820.4,757.3 820.9,757.4 821.4,757.5 821.9,757.7 822.4,757.8 822.9,758.0 823.4,758.1 823.9,758.3 824.4,758.5 824.9,758.6 825.4,758.8 825.9,759.0 826.4,759.2 826.9,759.3 827.4,759.5 827.9,759.7 828.4,759.9 828.9,760.1 829.4,760.3 829.9,760.5 830.4,760.7 830.9,760.9 831.4,761.1 831.9,761.3 832.4,761.6 832.9,761.8 833.4,762.0 833.9,762.2 834.4,762.4 834.9,762.7 835.4,762.9 835.9,763.1 836.4,763.4 836.9,763.6 837.4,763.8 837.9,764.1 838.4,764.3 838.9,764.6 839.4,764.8 839.9,765.1 840.4,765.3 840.9,765.6 841.4,765.8 841.9,766.1 842.4,766.3 842.9,766.6 843.4,766.8 843.9,767.1 844.4,767.3 844.9,767.6 845.4,767.9 845.9,768.1 846.4,768.4 846.9,768.6 847.4,768.9 847.9,769.2 848.4,769.4 848.9,769.7 849.4,769.9 849.9,770.2 850.4,770.5 850.9,770.7 851.4,771.0 851.9,771.2 852.4,771.5 852.9,771.8 853.4,772.0 853.9,772.3 854.4,772.5 854.9,772.8 855.4,773.0 855.9,773.3 856.4,773.5 856.9,773.8 857.4,774.0 857.9,774.3 858.4,774.5 858.9,774.8 859.4,775.0 859.9,775.3 860.4,775.5 860.9,775.8 861.4,776.0 861.9,776.2 862.4,776.5 862.9,776.7 863.4,776.9 863.9,777.2 864.4,777.4 864.9,777.6 865.4,777.8 865.9,778.0 866.4,778.3 866.9,778.5 867.4,778.7 867.9,778.9 868.4,779.1 868.9,779.3 869.4,779.5 869.9,779.7 870.4,779.9 870.9,780.1 871.4,780.2 871.9,780.4 872.4,780.6 872.9,780.8 873.4,780.9 873.9,781.1 874.4,781.3 874.9,781.4 875.4,781.6 875.9,781.7 876.4,781.9 876.9,782.0 877.4,782.2 877.9,782.3 878.4,782.4 878.9,782.6 879.4,782.7 879.9,782.8 880.4,782.9 880.9,783.0 881.4,783.1 881.9,783.2 882.4,783.3 882.9,783.4 883.4,783.5 883.9,783.5 884.4,783.6 884.9,783.7 885.4,783.7 885.9,783.8 886.4,783.8 886.9,783.9 887.4,783.9 887.9,783.9 888.4,784.0 888.9,784.0 889.4,784.0 889.9,784.0 890.4,784.0 890.9,784.0 891.4,784.0 891.9,784.0 892.4,784.0 892.9,784.0 893.4,783.9 893.9,783.9 894.4,783.9 894.9,783.8 895.4,783.8 895.9,783.8 896.4,783.7 896.9,783.7 897.4,783.6 897.9,783.6 898.4,783.5 898.9,783.5 899.4,783.4 899.9,783.3 900.4,783.3 900.9,783.2 901.4,783.1 901.9,783.0 902.4,783.0 902.9,782.9 903.4,782.8 903.9,782.7 904.4,782.6 904.9,782.5 905.4,782.4 905.9,782.3 906.4,782.2 906.9,782.1 907.4,782.0 907.9,781.9 908.4,781.8 908.9,781.7 909.4,781.5 909.9,781.4 910.4,781.3 910.9,781.2 911.4,781.1 911.9,780.9 912.4,780.8 912.9,780.7 913.4,780.5 913.9,780.4 914.4,780.3 914.9,780.1 915.4,780.0 915.9,779.9 916.4,779.7 916.9,779.6 917.4,779.4 917.9,779.3 918.4,779.2 918.9,779.0 919.4,778.9 919.9,778.7 920.4,778.6 920.9,778.4 921.4,778.3 921.9,778.1 922.4,777.9 922.9,777.8 923.4,777.6 923.9,777.5 924.4,777.3 924.9,777.2 925.4,777.0 925.9,776.9 926.4,776.7 926.9,776.5 927.4,776.4 927.9,776.2 928.4,776.1 928.9,775.9 929.4,775.7 929.9,775.6 930.4,775.4 930.9,775.2 931.4,775.1 931.9,774.9 932.4,774.8 932.9,774.6 933.4,774.4 933.9,774.3 934.4,774.1 934.9,774.0 935.4,773.8 935.9,773.6 936.4,773.5 936.9,773.3 937.4,773.2 937.9,773.0 938.4,772.9 938.9,772.7 939.4,772.6 939.9,772.4 940.4,772.3 940.9,772.1 941.4,772.0 941.9,771.8 942.4,771.7 942.9,771.5 943.4,771.4 943.9,771.2 944.4,771.1 944.9,770.9 945.4,770.8 945.9,770.7 946.4,770.5 946.9,770.4 947.4,770.3 947.9,770.1 948.4,770.0 948.9,769.9 949.4,769.7 949.9,769.6 950.4,769.5 950.9,769.4 951.4,769.2 951.9,769.1 952.4,769.0 952.9,768.9 953.4,768.8 953.9,768.7 954.4,768.6 954.9,768.5 955.4,768.4 955.9,768.3 956.4,768.2 956.9,768.1 957.4,768.0 957.9,767.9 958.4,767.8 958.9,767.7 959.4,767.6 959.9,767.6 960.4,767.5 960.9,767.4 961.4,767.4 961.9,767.3 962.4,767.2 962.9,767.2 963.4,767.1 963.9,767.1 964.4,767.0 964.9,767.0 965.4,766.9 965.9,766.9 966.4,766.8 966.9,766.8 967.4,766.8 967.9,766.8 968.4,766.7 968.9,766.7 969.4,766.7 969.9,766.7 970.4,766.7 970.9,766.7 971.4,766.7 971.9,766.7 972.4,766.7 972.9,766.7 973.4,766.7 973.9,766.7 974.4,766.8 974.9,766.8 975.4,766.8 975.9,766.8 976.4,766.9 976.9,766.9 977.4,766.9 977.9,767.0 978.4,767.0 978.9,767.1 979.4,767.1 979.9,767.2 980.4,767.2 980.9,767.3 981.4,767.4 981.9,767.4 982.4,767.5 982.9,767.5 983.4,767.6 983.9,767.7 984.4,767.8 984.9,767.8 985.4,767.9 985.9,768.0 986.4,768.1 986.9,768.1 987.4,768.2 987.9,768.3 988.4,768.4 988.9,768.5 989.4,768.6 989.9,768.6 990.4,768.7 990.9,768.8 991.4,768.9 991.9,769.0 992.4,769.1 992.9,769.2 993.4,769.3 993.9,769.4 994.4,769.5 994.9,769.6 995.4,769.7 995.9,769.8 996.4,769.8 996.9,769.9 997.4,770.0 997.9,770.1 998.4,770.2 998.9,770.3 999.4,770.4 999.9,770.5 1000.4,770.6 1000.9,770.7 1001.4,770.8 1001.9,770.9 1002.4,771.0 1002.9,771.1 1003.4,771.2 1003.9,771.3 1004.4,771.3 1004.9,771.4 1005.4,771.5 1005.9,771.6 1006.4,771.7 1006.9,771.8 1007.4,771.9 1007.9,771.9 1008.4,772.0 1008.9,772.1 1009.4,772.2 1009.9,772.2 1010.4,772.3 1010.9,772.4 1011.4,772.4 1011.9,772.5 1012.4,772.6 1012.9,772.6 1013.4,772.7 1013.9,772.8 1014.4,772.8 1014.9,772.9 1015.4,772.9 1015.9,773.0 1016.4,773.0 1016.9,773.0 1017.4,773.1 1017.9,773.1 1018.4,773.2 1018.9,773.2 1019.4,773.2 1019.9,773.2 1020.4,773.3 1020.9,773.3 1021.4,773.3 1021.9,773.3 1022.4,773.3 1022.9,773.3 1023.4,773.3 1023.9,773.3 1024.4,773.3 1024.9,773.4 1025.4,773.4 1025.9,773.4 1026.4,773.4 1026.9,773.4 1027.4,773.4 1027.9,773.4 1028.4,773.4 1028.9,773.4 1029.4,773.4 1029.9,773.4 1030.4,773.4 1030.9,773.4 1031.4,773.4 1031.9,773.3 1032.4,773.3 1032.9,773.3 1033.4,773.3 1033.9,773.3 1034.4,773.3 1034.9,773.3 1035.4,773.3 1035.9,773.3 1036.4,773.3 1036.9,773.3 1037.4,773.3 1037.9,773.3 1038.4,773.3 1038.9,773.3 1039.4,773.3 1039.9,773.3 1040.4,773.3 1040.9,773.3 1041.4,773.3 1041.9,773.3 1042.4,773.3 1042.9,773.2 1043.4,773.2 1043.9,773.2 1044.4,773.2 1044.9,773.2 1045.4,773.2 1045.9,773.2 1046.4,773.2 1046.9,773.2 1047.4,773.2 1047.9,773.1 1048.4,773.1 1048.9,773.1 1049.4,773.1 1049.9,773.1 1050.4,773.1 1050.9,773.1 1051.4,773.0 1051.9,773.0 1052.4,773.0 1052.9,773.0 1053.4,773.0 1053.9,772.9 1054.4,772.9 1054.9,772.9 1055.4,772.9 1055.9,772.9 1056.4,772.8 1056.9,772.8 1057.4,772.8 1057.9,772.8 1058.4,772.7 1058.9,772.7 1059.4,772.7 1059.9,772.6 1060.4,772.6 1060.9,772.6 1061.4,772.6 1061.9,772.5 1062.4,772.5 1062.9,772.5 1063.4,772.4 1063.9,772.4 1064.4,772.4" fill="none" stroke="#0000ff" stroke-width="1.7" stroke-linejoin="round" />
<rect x="1173.5" y="695.5" width="830.0" height="155.0" fill="none" stroke="#000" stroke-width="1.8"/>
<path d="M1256.5 695.5v8.0M1256.5 850.5v-8.0M1339.5 695.5v8.0M1339.5 850.5v-8.0M1422.5 695.5v8.0M1422.5 850.5v-8.0M1505.5 695.5v8.0M1505.5 850.5v-8.0M1588.5 695.5v8.0M1588.5 850.5v-8.0M1671.5 695.5v8.0M1671.5 850.5v-8.0M1754.5 695.5v8.0M1754.5 850.5v-8.0M1837.5 695.5v8.0M1837.5 850.5v-8.0M1920.5 695.5v8.0M1920.5 850.5v-8.0M1173.5 773.0h8.0M2003.5 773.0h-8.0M1173.5 702.5h2.5M2003.5 702.5h-2.5M1173.5 843.5h2.5M2003.5 843.5h-2.5" stroke="#000" stroke-width="1.7" fill="none"/>
<polyline points="1173.4,784.6 1173.9,784.1 1174.4,783.7 1174.9,783.2 1175.4,782.8 1175.9,782.3 1176.4,781.9 1176.9,781.4 1177.4,781.0 1177.9,780.6 1178.4,780.1 1178.9,779.7 1179.4,779.2 1179.9,778.8 1180.4,778.4 1180.9,777.9 1181.4,777.5 1181.9,777.1 1182.4,776.6 1182.9,776.2 1183.4,775.8 1183.9,775.3 1184.4,774.9 1184.9,774.5 1185.4,774.1 1185.9,773.7 1186.4,773.2 1186.9,772.8 1187.4,772.4 1187.9,772.0 1188.4,771.6 1188.9,771.2 1189.4,770.8 1189.9,770.4 1190.4,770.0 1190.9,769.6 1191.4,769.3 1191.9,768.9 1192.4,768.5 1192.9,768.1 1193.4,767.8 1193.9,767.4 1194.4,767.0 1194.9,766.7 1195.4,766.3 1195.9,766.0 1196.4,765.6 1196.9,765.3 1197.4,765.0 1197.9,764.7 1198.4,764.3 1198.9,764.0 1199.4,763.7 1199.9,763.4 1200.4,763.1 1200.9,762.8 1201.4,762.5 1201.9,762.3 1202.4,762.0 1202.9,761.7 1203.4,761.4 1203.9,761.2 1204.4,760.9 1204.9,760.7 1205.4,760.5 1205.9,760.2 1206.4,760.0 1206.9,759.8 1207.4,759.6 1207.9,759.4 1208.4,759.2 1208.9,759.0 1209.4,758.8 1209.9,758.7 1210.4,758.5 1210.9,758.4 1211.4,758.2 1211.9,758.1 1212.4,757.9 1212.9,757.8 1213.4,757.7 1213.9,757.6 1214.4,757.5 1214.9,757.4 1215.4,757.3 1215.9,757.2 1216.4,757.2 1216.9,757.1 1217.4,757.0 1217.9,757.0 1218.4,756.9 1218.9,756.9 1219.4,756.9 1219.9,756.8 1220.4,756.8 1220.9,756.8 1221.4,756.8 1221.9,756.8 1222.4,756.8 1222.9,756.9 1223.4,756.9 1223.9,756.9 1224.4,756.9 1224.9,757.0 1225.4,757.0 1225.9,757.1 1226.4,757.1 1226.9,757.2 1227.4,757.2 1227.9,757.3 1228.4,757.4 1228.9,757.5 1229.4,757.6 1229.9,757.6 1230.4,757.7 1230.9,757.8 1231.4,757.9 1231.9,758.0 1232.4,758.2 1232.9,758.3 1233.4,758.4 1233.9,758.5 1234.4,758.6 1234.9,758.8 1235.4,758.9 1235.9,759.0 1236.4,759.2 1236.9,759.3 1237.4,759.5 1237.9,759.6 1238.4,759.8 1238.9,759.9 1239.4,760.1 1239.9,760.3 1240.4,760.4 1240.9,760.6 1241.4,760.8 1241.9,760.9 1242.4,761.1 1242.9,761.3 1243.4,761.5 1243.9,761.7 1244.4,761.9 1244.9,762.1 1245.4,762.3 1245.9,762.5 1246.4,762.7 1246.9,762.9 1247.4,763.1 1247.9,763.3 1248.4,763.5 1248.9,763.7 1249.4,764.0 1249.9,764.2 1250.4,764.4 1250.9,764.6 1251.4,764.9 1251.9,765.1 1252.4,765.3 1252.9,765.6 1253.4,765.8 1253.9,766.0 1254.4,766.3 1254.9,766.5 1255.4,766.8 1255.9,767.0 1256.4,767.3 1256.9,767.5 1257.4,767.8 1257.9,768.0 1258.4,768.3 1258.9,768.5 1259.4,768.8 1259.9,769.0 1260.4,769.3 1260.9,769.6 1261.4,769.8 1261.9,770.1 1262.4,770.4 1262.9,770.6 1263.4,770.9 1263.9,771.2 1264.4,771.4 1264.9,771.7 1265.4,772.0 1265.9,772.3 1266.4,772.5 1266.9,772.8 1267.4,773.1 1267.9,773.4 1268.4,773.6 1268.9,773.9 1269.4,774.2 1269.9,774.5 1270.4,774.7 1270.9,775.0 1271.4,775.3 1271.9,775.6 1272.4,775.9 1272.9,776.2 1273.4,776.4 1273.9,776.7 1274.4,777.0 1274.9,777.3 1275.4,777.6 1275.9,777.8 1276.4,778.1 1276.9,778.4 1277.4,778.7 1277.9,779.0 1278.4,779.3 1278.9,779.5 1279.4,779.8 1279.9,780.1 1280.4,780.4 1280.9,780.7 1281.4,780.9 1281.9,781.2 1282.4,781.5 1282.9,781.8 1283.4,782.1 1283.9,782.3 1284.4,782.6 1284.9,782.9 1285.4,783.2 1285.9,783.4 1286.5,783.7 1287.0,784.0 1287.5,784.2 1288.0,784.5 1288.5,784.8 1289.0,785.0 1289.5,785.3 1290.0,785.6 1290.5,785.8 1291.0,786.1 1291.5,786.4 1292.0,786.6 1292.5,786.9 1293.0,787.1 1293.5,787.4 1294.0,787.6 1294.5,787.9 1295.0,788.1 1295.5,788.4 1296.0,788.6 1296.5,788.9 1297.0,789.1 1297.5,789.3 1298.0,789.6 1298.5,789.8 1299.0,790.0 1299.5,790.3 1300.0,790.5 1300.5,790.7 1301.0,791.0 1301.5,791.2 1302.0,791.4 1302.5,791.6 1303.0,791.8 1303.5,792.0 1304.0,792.3 1304.5,792.5 1305.0,792.7 1305.5,792.9 1306.0,793.1 1306.5,793.3 1307.0,793.5 1307.5,793.6 1308.0,793.8 1308.5,794.0 1309.0,794.2 1309.5,794.4 1310.0,794.6 1310.5,794.7 1311.0,794.9 1311.5,795.1 1312.0,795.2 1312.5,795.4 1313.0,795.5 1313.5,795.7 1314.0,795.8 1314.5,796.0 1315.0,796.1 1315.5,796.3 1316.0,796.4 1316.5,796.5 1317.0,796.7 1317.5,796.8 1318.0,796.9 1318.5,797.0 1319.0,797.1 1319.5,797.2 1320.0,797.3 1320.5,797.4 1321.0,797.5 1321.5,797.6 1322.0,797.7 1322.5,797.8 1323.0,797.9 1323.5,797.9 1324.0,798.0 1324.5,798.1 1325.0,798.1 1325.5,798.2 1326.0,798.2 1326.5,798.3 1327.0,798.3 1327.5,798.3 1328.0,798.3 1328.5,798.4 1329.0,798.4 1329.5,798.4 1330.0,798.4 1330.5,798.4 1331.0,798.4 1331.5,798.4 1332.0,798.3 1332.5,798.3 1333.0,798.3 1333.5,798.2 1334.0,798.2 1334.5,798.1 1335.0,798.1 1335.5,798.0 1336.0,797.9 1336.5,797.8 1337.0,797.7 1337.5,797.7 1338.0,797.6 1338.5,797.4 1339.0,797.3 1339.5,797.2 1340.0,797.1 1340.5,797.0 1341.0,796.8 1341.5,796.7 1342.0,796.5 1342.5,796.4 1343.0,796.2 1343.5,796.1 1344.0,795.9 1344.5,795.7 1345.0,795.5 1345.5,795.3 1346.0,795.1 1346.5,794.9 1347.0,794.7 1347.5,794.5 1348.0,794.3 1348.5,794.1 1349.0,793.8 1349.5,793.6 1350.0,793.4 1350.5,793.1 1351.0,792.9 1351.5,792.6 1352.0,792.3 1352.5,792.1 1353.0,791.8 1353.5,791.5 1354.0,791.2 1354.5,790.9 1355.0,790.6 1355.5,790.2 1356.0,789.9 1356.5,789.6 1357.0,789.2 1357.5,788.9 1358.0,788.5 1358.5,788.1 1359.0,787.8 1359.5,787.4 1360.0,787.0 1360.5,786.6 1361.0,786.2 1361.5,785.7 1362.0,785.3 1362.5,784.9 1363.0,784.4 1363.5,784.0 1364.0,783.5 1364.5,783.1 1365.0,782.6 1365.5,782.1 1366.0,781.7 1366.5,781.2 1367.0,780.7 1367.5,780.2 1368.0,779.7 1368.5,779.2 1369.0,778.7 1369.5,778.2 1370.0,777.7 1370.5,777.2 1371.0,776.7 1371.5,776.2 1372.0,775.7 1372.5,775.2 1373.0,774.6 1373.5,774.1 1374.0,773.6 1374.5,773.1 1375.0,772.6 1375.5,772.1 1376.0,771.5 1376.5,771.0 1377.0,770.5 1377.5,770.0 1378.0,769.5 1378.5,769.0 1379.0,768.4 1379.5,767.9 1380.0,767.4 1380.5,766.9 1381.0,766.3 1381.5,765.8 1382.0,765.3 1382.5,764.8 1383.0,764.2 1383.5,763.7 1384.0,763.2 1384.5,762.7 1385.0,762.1 1385.5,761.6 1386.0,761.1 1386.5,760.5 1387.0,760.0 1387.5,759.4 1388.0,758.9 1388.5,758.4 1389.0,757.8 1389.5,757.3 1390.0,756.8 1390.5,756.2 1391.0,755.7 1391.5,755.2 1392.0,754.6 1392.5,754.1 1393.0,753.6 1393.5,753.0 1394.0,752.5 1394.5,752.0 1395.0,751.5 1395.5,751.0 1396.0,750.5 1396.5,750.0 1397.0,749.5 1397.5,749.0 1398.0,748.5 1398.5,748.1 1399.0,747.6 1399.5,747.2 1400.0,746.7 1400.5,746.3 1401.0,745.9 1401.5,745.4 1402.0,745.0 1402.5,744.6 1403.0,744.3 1403.5,743.9 1404.0,743.5 1404.5,743.2 1405.0,742.8 1405.5,742.5 1406.0,742.2 1406.5,741.9 1407.0,741.6 1407.5,741.4 1408.0,741.1 1408.5,740.9 1409.0,740.7 1409.5,740.5 1410.0,740.3 1410.5,740.1 1411.0,740.0 1411.5,739.8 1412.0,739.7 1412.5,739.6 1413.0,739.5 1413.5,739.5 1414.0,739.4 1414.5,739.4 1415.0,739.4 1415.5,739.4 1416.0,739.4 1416.5,739.5 1417.0,739.5 1417.5,739.6 1418.0,739.7 1418.5,739.8 1419.0,740.0 1419.5,740.1 1420.0,740.3 1420.5,740.5 1421.0,740.7 1421.5,740.9 1422.0,741.1 1422.5,741.4 1423.0,741.7 1423.5,741.9 1424.0,742.2 1424.5,742.6 1425.0,742.9 1425.5,743.2 1426.0,743.6 1426.5,744.0 1427.0,744.4 1427.5,744.8 1428.0,745.2 1428.5,745.7 1429.0,746.1 1429.5,746.6 1430.0,747.0 1430.5,747.5 1431.0,748.0 1431.5,748.5 1432.0,749.1 1432.5,749.6 1433.0,750.2 1433.5,750.7 1434.0,751.3 1434.5,751.9 1435.0,752.5 1435.5,753.1 1436.0,753.7 1436.5,754.3 1437.0,754.9 1437.5,755.6 1438.0,756.2 1438.5,756.9 1439.0,757.5 1439.5,758.2 1440.0,758.9 1440.5,759.6 1441.0,760.3 1441.5,761.0 1442.0,761.7 1442.5,762.4 1443.0,763.1 1443.5,763.9 1444.0,764.6 1444.5,765.3 1445.0,766.1 1445.5,766.8 1446.0,767.6 1446.5,768.3 1447.0,769.1 1447.5,769.8 1448.0,770.6 1448.5,771.4 1449.0,772.1 1449.5,772.9 1450.0,773.7 1450.5,774.5 1451.0,775.3 1451.5,776.0 1452.0,776.8 1452.5,777.6 1453.0,778.4 1453.5,779.2 1454.0,780.0 1454.5,780.7 1455.0,781.5 1455.5,782.3 1456.0,783.1 1456.5,783.9 1457.0,784.6 1457.5,785.4 1458.0,786.2 1458.5,787.0 1459.0,787.7 1459.5,788.5 1460.0,789.3 1460.5,790.0 1461.0,790.8 1461.5,791.5 1462.0,792.3 1462.5,793.0 1463.0,793.8 1463.5,794.5 1464.0,795.2 1464.5,795.9 1465.0,796.7 1465.5,797.4 1466.0,798.1 1466.5,798.8 1467.0,799.5 1467.5,800.1 1468.0,800.8 1468.5,801.5 1469.0,802.1 1469.5,802.8 1470.0,803.4 1470.5,804.1 1471.0,804.7 1471.5,805.3 1472.0,805.9 1472.5,806.5 1473.0,807.1 1473.5,807.6 1474.0,808.2 1474.5,808.8 1475.0,809.3 1475.5,809.8 1476.0,810.3 1476.5,810.8 1477.0,811.3 1477.6,811.8 1478.1,812.3 1478.6,812.7 1479.1,813.2 1479.6,813.6 1480.1,814.0 1480.6,814.4 1481.1,814.8 1481.6,815.1 1482.1,815.5 1482.6,815.8 1483.1,816.1 1483.6,816.5 1484.1,816.7 1484.6,817.0 1485.1,817.3 1485.6,817.5 1486.1,817.7 1486.6,817.9 1487.1,818.1 1487.6,818.3 1488.1,818.4 1488.6,818.6 1489.1,818.7 1489.6,818.8 1490.1,818.9 1490.6,818.9 1491.1,819.0 1491.6,819.0 1492.1,819.0 1492.6,819.0 1493.1,818.9 1493.6,818.9 1494.1,818.8 1494.6,818.7 1495.1,818.6 1495.6,818.5 1496.1,818.4 1496.6,818.2 1497.1,818.0 1497.6,817.8 1498.1,817.6 1498.6,817.4 1499.1,817.1 1499.6,816.8 1500.1,816.5 1500.6,816.2 1501.1,815.9 1501.6,815.6 1502.1,815.2 1502.6,814.8 1503.1,814.4 1503.6,814.0 1504.1,813.6 1504.6,813.1 1505.1,812.7 1505.6,812.2 1506.1,811.7 1506.6,811.2 1507.1,810.7 1507.6,810.2 1508.1,809.6 1508.6,809.1 1509.1,808.5 1509.6,807.9 1510.1,807.3 1510.6,806.7 1511.1,806.0 1511.6,805.4 1512.1,804.8 1512.6,804.1 1513.1,803.4 1513.6,802.7 1514.1,802.0 1514.6,801.3 1515.1,800.6 1515.6,799.9 1516.1,799.1 1516.6,798.4 1517.1,797.6 1517.6,796.9 1518.1,796.1 1518.6,795.3 1519.1,794.5 1519.6,793.7 1520.1,792.9 1520.6,792.1 1521.1,791.2 1521.6,790.4 1522.1,789.6 1522.6,788.7 1523.1,787.9 1523.6,787.0 1524.1,786.1 1524.6,785.3 1525.1,784.4 1525.6,783.5 1526.1,782.6 1526.6,781.7 1527.1,780.8 1527.6,779.9 1528.1,779.0 1528.6,778.1 1529.1,777.2 1529.6,776.3 1530.1,775.4 1530.6,774.5 1531.1,773.6 1531.6,772.7 1532.1,771.7 1532.6,770.8 1533.1,769.9 1533.6,769.0 1534.1,768.0 1534.6,767.1 1535.1,766.2 1535.6,765.3 1536.1,764.3 1536.6,763.4 1537.1,762.5 1537.6,761.6 1538.1,760.7 1538.6,759.7 1539.1,758.8 1539.6,757.9 1540.1,757.0 1540.6,756.1 1541.1,755.2 1541.6,754.3 1542.1,753.4 1542.6,752.5 1543.1,751.6 1543.6,750.7 1544.1,749.8 1544.6,749.0 1545.1,748.1 1545.6,747.2 1546.1,746.4 1546.6,745.5 1547.1,744.7 1547.6,743.9 1548.1,743.0 1548.6,742.2 1549.1,741.4 1549.6,740.6 1550.1,739.8 1550.6,739.0 1551.1,738.2 1551.6,737.4 1552.1,736.7 1552.6,735.9 1553.1,735.2 1553.6,734.4 1554.1,733.7 1554.6,733.0 1555.1,732.3 1555.6,731.6 1556.1,730.9 1556.6,730.2 1557.1,729.6 1557.6,728.9 1558.1,728.3 1558.6,727.6 1559.1,727.0 1559.6,726.4 1560.1,725.9 1560.6,725.3 1561.1,724.7 1561.6,724.2 1562.1,723.7 1562.6,723.1 1563.1,722.6 1563.6,722.2 1564.1,721.7 1564.6,721.2 1565.1,720.8 1565.6,720.4 1566.1,720.0 1566.6,719.6 1567.1,719.2 1567.6,718.8 1568.1,718.5 1568.6,718.2 1569.1,717.9 1569.6,717.6 1570.1,717.3 1570.6,717.1 1571.1,716.8 1571.6,716.6 1572.1,716.4 1572.6,716.2 1573.1,716.1 1573.6,715.9 1574.1,715.8 1574.6,715.7 1575.1,715.6 1575.6,715.5 1576.1,715.4 1576.6,715.4 1577.1,715.4 1577.6,715.4 1578.1,715.4 1578.6,715.4 1579.1,715.5 1579.6,715.5 1580.1,715.6 1580.6,715.7 1581.1,715.8 1581.6,716.0 1582.1,716.1 1582.6,716.3 1583.1,716.5 1583.6,716.7 1584.1,716.9 1584.6,717.1 1585.1,717.3 1585.6,717.6 1586.1,717.9 1586.6,718.2 1587.1,718.5 1587.6,718.8 1588.1,719.1 1588.6,719.4 1589.1,719.8 1589.6,720.2 1590.1,720.6 1590.6,721.0 1591.1,721.4 1591.6,721.8 1592.1,722.2 1592.6,722.7 1593.1,723.1 1593.6,723.6 1594.1,724.1 1594.6,724.6 1595.1,725.1 1595.6,725.6 1596.1,726.1 1596.6,726.7 1597.1,727.2 1597.6,727.8 1598.1,728.4 1598.6,729.0 1599.1,729.6 1599.6,730.2 1600.1,730.8 1600.6,731.4 1601.1,732.0 1601.6,732.7 1602.1,733.3 1602.6,734.0 1603.1,734.7 1603.6,735.3 1604.1,736.0 1604.6,736.7 1605.1,737.4 1605.6,738.1 1606.1,738.9 1606.6,739.6 1607.1,740.3 1607.6,741.1 1608.1,741.8 1608.6,742.6 1609.1,743.3 1609.6,744.1 1610.1,744.9 1610.6,745.7 1611.1,746.4 1611.6,747.2 1612.1,748.0 1612.6,748.8 1613.1,749.6 1613.6,750.5 1614.1,751.3 1614.6,752.1 1615.1,752.9 1615.6,753.8 1616.1,754.6 1616.6,755.5 1617.1,756.3 1617.6,757.2 1618.1,758.0 1618.6,758.9 1619.1,759.7 1619.6,760.6 1620.1,761.5 1620.6,762.3 1621.1,763.2 1621.6,764.1 1622.1,765.0 1622.6,765.9 1623.1,766.7 1623.6,767.6 1624.1,768.5 1624.6,769.4 1625.1,770.3 1625.6,771.2 1626.1,772.1 1626.6,773.0 1627.1,773.9 1627.6,774.7 1628.1,775.6 1628.6,776.5 1629.1,777.4 1629.6,778.3 1630.1,779.2 1630.6,780.1 1631.1,781.0 1631.6,781.9 1632.1,782.8 1632.6,783.7 1633.1,784.6 1633.6,785.4 1634.1,786.3 1634.6,787.2 1635.1,788.1 1635.6,789.0 1636.1,789.8 1636.6,790.7 1637.1,791.6 1637.6,792.5 1638.1,793.3 1638.6,794.2 1639.1,795.0 1639.6,795.9 1640.1,796.7 1640.6,797.6 1641.1,798.4 1641.6,799.3 1642.1,800.1 1642.6,800.9 1643.1,801.7 1643.6,802.6 1644.1,803.4 1644.6,804.2 1645.1,805.0 1645.6,805.8 1646.1,806.6 1646.6,807.3 1647.1,808.1 1647.6,808.9 1648.1,809.7 1648.6,810.4 1649.1,811.2 1649.6,811.9 1650.1,812.6 1650.6,813.4 1651.1,814.1 1651.6,814.8 1652.1,815.5 1652.6,816.2 1653.1,816.9 1653.6,817.6 1654.1,818.3 1654.6,818.9 1655.1,819.6 1655.6,820.2 1656.1,820.9 1656.6,821.5 1657.1,822.1 1657.6,822.7 1658.1,823.3 1658.6,823.9 1659.1,824.5 1659.6,825.0 1660.1,825.6 1660.6,826.1 1661.1,826.7 1661.6,827.2 1662.1,827.7 1662.6,828.2 1663.1,828.7 1663.6,829.2 1664.1,829.6 1664.6,830.1 1665.1,830.5 1665.6,831.0 1666.1,831.4 1666.6,831.8 1667.1,832.2 1667.6,832.6 1668.2,832.9 1668.7,833.3 1669.2,833.6 1669.7,833.9 1670.2,834.2 1670.7,834.5 1671.2,834.8 1671.7,835.1 1672.2,835.3 1672.7,835.6 1673.2,835.8 1673.7,836.0 1674.2,836.2 1674.7,836.4 1675.2,836.6 1675.7,836.7 1676.2,836.9 1676.7,837.0 1677.2,837.1 1677.7,837.2 1678.2,837.3 1678.7,837.4 1679.2,837.5 1679.7,837.5 1680.2,837.6 1680.7,837.6 1681.2,837.6 1681.7,837.6 1682.2,837.6 1682.7,837.6 1683.2,837.6 1683.7,837.5 1684.2,837.4 1684.7,837.4 1685.2,837.3 1685.7,837.2 1686.2,837.1 1686.7,837.0 1687.2,836.9 1687.7,836.7 1688.2,836.6 1688.7,836.4 1689.2,836.3 1689.7,836.1 1690.2,835.9 1690.7,835.7 1691.2,835.5 1691.7,835.3 1692.2,835.1 1692.7,834.9 1693.2,834.6 1693.7,834.4 1694.2,834.1 1694.7,833.9 1695.2,833.6 1695.7,833.3 1696.2,833.0 1696.7,832.8 1697.2,832.5 1697.7,832.1 1698.2,831.8 1698.7,831.5 1699.2,831.2 1699.7,830.8 1700.2,830.5 1700.7,830.1 1701.2,829.7 1701.7,829.4 1702.2,829.0 1702.7,828.6 1703.2,828.2 1703.7,827.8 1704.2,827.4 1704.7,827.0 1705.2,826.6 1705.7,826.1 1706.2,825.7 1706.7,825.3 1707.2,824.8 1707.7,824.4 1708.2,823.9 1708.7,823.4 1709.2,823.0 1709.7,822.5 1710.2,822.0 1710.7,821.5 1711.2,821.0 1711.7,820.5 1712.2,820.0 1712.7,819.5 1713.2,819.0 1713.7,818.5 1714.2,817.9 1714.7,817.4 1715.2,816.9 1715.7,816.3 1716.2,815.8 1716.7,815.2 1717.2,814.6 1717.7,814.1 1718.2,813.5 1718.7,812.9 1719.2,812.4 1719.7,811.8 1720.2,811.2 1720.7,810.6 1721.2,810.0 1721.7,809.4 1722.2,808.8 1722.7,808.2 1723.2,807.6 1723.7,806.9 1724.2,806.3 1724.7,805.7 1725.2,805.1 1725.7,804.4 1726.2,803.8 1726.7,803.2 1727.2,802.5 1727.7,801.9 1728.2,801.2 1728.7,800.6 1729.2,799.9 1729.7,799.2 1730.2,798.6 1730.7,797.9 1731.2,797.2 1731.7,796.6 1732.2,795.9 1732.7,795.2 1733.2,794.6 1733.7,793.9 1734.2,793.2 1734.7,792.5 1735.2,791.8 1735.7,791.1 1736.2,790.4 1736.7,789.7 1737.2,789.0 1737.7,788.3 1738.2,787.6 1738.7,786.9 1739.2,786.2 1739.7,785.5 1740.2,784.8 1740.7,784.1 1741.2,783.4 1741.7,782.7 1742.2,782.0 1742.7,781.3 1743.2,780.6 1743.7,779.9 1744.2,779.1 1744.7,778.4 1745.2,777.7 1745.7,777.0 1746.2,776.3 1746.7,775.6 1747.2,774.8 1747.7,774.1 1748.2,773.4 1748.7,772.7 1749.2,772.0 1749.7,771.3 1750.2,770.5 1750.7,769.8 1751.2,769.1 1751.7,768.4 1752.2,767.7 1752.7,766.9 1753.2,766.2 1753.7,765.5 1754.2,764.8 1754.7,764.1 1755.2,763.4 1755.7,762.7 1756.2,761.9 1756.7,761.2 1757.2,760.5 1757.7,759.8 1758.2,759.1 1758.7,758.4 1759.2,757.7 1759.7,757.0 1760.2,756.3 1760.7,755.6 1761.2,754.9 1761.7,754.2 1762.2,753.5 1762.7,752.8 1763.2,752.1 1763.7,751.4 1764.2,750.8 1764.7,750.1 1765.2,749.4 1765.7,748.7 1766.2,748.0 1766.7,747.4 1767.2,746.7 1767.7,746.0 1768.2,745.4 1768.7,744.7 1769.2,744.0 1769.7,743.4 1770.2,742.7 1770.7,742.1 1771.2,741.4 1771.7,740.8 1772.2,740.2 1772.7,739.5 1773.2,738.9 1773.7,738.3 1774.2,737.6 1774.7,737.0 1775.2,736.4 1775.7,735.8 1776.2,735.2 1776.7,734.6 1777.2,734.0 1777.7,733.4 1778.2,732.8 1778.7,732.2 1779.2,731.6 1779.7,731.0 1780.2,730.4 1780.7,729.9 1781.2,729.3 1781.7,728.7 1782.2,728.2 1782.7,727.6 1783.2,727.1 1783.7,726.6 1784.2,726.0 1784.7,725.5 1785.2,725.0 1785.7,724.5 1786.2,723.9 1786.7,723.4 1787.2,722.9 1787.7,722.4 1788.2,721.9 1788.7,721.5 1789.2,721.0 1789.7,720.5 1790.2,720.0 1790.7,719.6 1791.2,719.1 1791.7,718.7 1792.2,718.2 1792.7,717.8 1793.2,717.4 1793.7,717.0 1794.2,716.5 1794.7,716.1 1795.2,715.7 1795.7,715.3 1796.2,715.0 1796.7,714.6 1797.2,714.2 1797.7,713.8 1798.2,713.5 1798.7,713.1 1799.2,712.8 1799.7,712.5 1800.2,712.1 1800.7,711.8 1801.2,711.5 1801.7,711.2 1802.2,710.9 1802.7,710.6 1803.2,710.3 1803.7,710.1 1804.2,709.8 1804.7,709.6 1805.2,709.3 1805.7,709.1 1806.2,708.9 1806.7,708.6 1807.2,708.4 1807.7,708.2 1808.2,708.0 1808.7,707.8 1809.2,707.7 1809.7,707.5 1810.2,707.3 1810.7,707.2 1811.2,707.1 1811.7,706.9 1812.2,706.8 1812.7,706.7 1813.2,706.6 1813.7,706.5 1814.2,706.4 1814.7,706.4 1815.2,706.3 1815.7,706.3 1816.2,706.2 1816.7,706.2 1817.2,706.2 1817.7,706.2 1818.2,706.2 1818.7,706.2 1819.2,706.2 1819.7,706.2 1820.2,706.3 1820.7,706.3 1821.2,706.4 1821.7,706.5 1822.2,706.6 1822.7,706.7 1823.2,706.8 1823.7,706.9 1824.2,707.0 1824.7,707.2 1825.2,707.3 1825.7,707.5 1826.2,707.6 1826.7,707.8 1827.2,708.0 1827.7,708.2 1828.2,708.4 1828.7,708.6 1829.2,708.9 1829.7,709.1 1830.2,709.4 1830.7,709.6 1831.2,709.9 1831.7,710.2 1832.2,710.5 1832.7,710.8 1833.2,711.1 1833.7,711.4 1834.2,711.7 1834.7,712.1 1835.2,712.4 1835.7,712.8 1836.2,713.1 1836.7,713.5 1837.2,713.9 1837.7,714.3 1838.2,714.7 1838.7,715.1 1839.2,715.5 1839.7,715.9 1840.2,716.4 1840.7,716.8 1841.2,717.2 1841.7,717.7 1842.2,718.2 1842.7,718.6 1843.2,719.1 1843.7,719.6 1844.2,720.1 1844.7,720.6 1845.2,721.1 1845.7,721.6 1846.2,722.1 1846.7,722.7 1847.2,723.2 1847.7,723.7 1848.2,724.3 1848.7,724.8 1849.2,725.4 1849.7,726.0 1850.2,726.5 1850.7,727.1 1851.2,727.7 1851.7,728.3 1852.2,728.9 1852.7,729.5 1853.2,730.1 1853.7,730.7 1854.2,731.3 1854.7,732.0 1855.2,732.6 1855.7,733.2 1856.2,733.9 1856.7,734.5 1857.2,735.2 1857.7,735.8 1858.2,736.5 1858.7,737.2 1859.3,737.8 1859.8,738.5 1860.3,739.2 1860.8,739.9 1861.3,740.5 1861.8,741.2 1862.3,741.9 1862.8,742.6 1863.3,743.3 1863.8,744.0 1864.3,744.7 1864.8,745.4 1865.3,746.2 1865.8,746.9 1866.3,747.6 1866.8,748.3 1867.3,749.0 1867.8,749.8 1868.3,750.5 1868.8,751.2 1869.3,752.0 1869.8,752.7 1870.3,753.5 1870.8,754.2 1871.3,755.0 1871.8,755.7 1872.3,756.4 1872.8,757.2 1873.3,758.0 1873.8,758.7 1874.3,759.5 1874.8,760.2 1875.3,761.0 1875.8,761.7 1876.3,762.5 1876.8,763.3 1877.3,764.0 1877.8,764.8 1878.3,765.6 1878.8,766.3 1879.3,767.1 1879.8,767.9 1880.3,768.6 1880.8,769.4 1881.3,770.2 1881.8,770.9 1882.3,771.7 1882.8,772.5 1883.3,773.3 1883.8,774.0 1884.3,774.8 1884.8,775.6 1885.3,776.3 1885.8,777.1 1886.3,777.9 1886.8,778.6 1887.3,779.4 1887.8,780.1 1888.3,780.9 1888.8,781.7 1889.3,782.4 1889.8,783.2 1890.3,783.9 1890.8,784.7 1891.3,785.4 1891.8,786.2 1892.3,786.9 1892.8,787.7 1893.3,788.4 1893.8,789.2 1894.3,789.9 1894.8,790.7 1895.3,791.4 1895.8,792.1 1896.3,792.9 1896.8,793.6 1897.3,794.3 1897.8,795.0 1898.3,795.7 1898.8,796.5 1899.3,797.2 1899.8,797.9 1900.3,798.6 1900.8,799.3 1901.3,800.0 1901.8,800.7 1902.3,801.4 1902.8,802.1 1903.3,802.7 1903.8,803.4 1904.3,804.1 1904.8,804.8 1905.3,805.4 1905.8,806.1 1906.3,806.7 1906.8,807.4 1907.3,808.0 1907.8,808.7 1908.3,809.3 1908.8,809.9 1909.3,810.6 1909.8,811.2 1910.3,811.8 1910.8,812.4 1911.3,813.0 1911.8,813.6 1912.3,814.2 1912.8,814.8 1913.3,815.4 1913.8,815.9 1914.3,816.5 1914.8,817.1 1915.3,817.6 1915.8,818.2 1916.3,818.7 1916.8,819.3 1917.3,819.8 1917.8,820.3 1918.3,820.8 1918.8,821.3 1919.3,821.8 1919.8,822.3 1920.3,822.8 1920.8,823.3 1921.3,823.8 1921.8,824.2 1922.3,824.7 1922.8,825.1 1923.3,825.6 1923.8,826.0 1924.3,826.4 1924.8,826.9 1925.3,827.3 1925.8,827.7 1926.3,828.1 1926.8,828.4 1927.3,828.8 1927.8,829.2 1928.3,829.5 1928.8,829.9 1929.3,830.2 1929.8,830.5 1930.3,830.9 1930.8,831.2 1931.3,831.5 1931.8,831.8 1932.3,832.0 1932.8,832.3 1933.3,832.6 1933.8,832.8 1934.3,833.1 1934.8,833.3 1935.3,833.5 1935.8,833.7 1936.3,833.9 1936.8,834.1 1937.3,834.3 1937.8,834.4 1938.3,834.6 1938.8,834.7 1939.3,834.9 1939.8,835.0 1940.3,835.1 1940.8,835.2 1941.3,835.3 1941.8,835.3 1942.3,835.4 1942.8,835.4 1943.3,835.5 1943.8,835.5 1944.3,835.5 1944.8,835.5 1945.3,835.5 1945.8,835.4 1946.3,835.4 1946.8,835.3 1947.3,835.2 1947.8,835.1 1948.3,835.0 1948.8,834.9 1949.3,834.8 1949.8,834.6 1950.3,834.5 1950.8,834.3 1951.3,834.1 1951.8,833.9 1952.3,833.7 1952.8,833.5 1953.3,833.3 1953.8,833.0 1954.3,832.8 1954.8,832.5 1955.3,832.2 1955.8,831.9 1956.3,831.6 1956.8,831.3 1957.3,831.0 1957.8,830.7 1958.3,830.3 1958.8,830.0 1959.3,829.6 1959.8,829.2 1960.3,828.8 1960.8,828.4 1961.3,828.0 1961.8,827.6 1962.3,827.1 1962.8,826.7 1963.3,826.2 1963.8,825.8 1964.3,825.3 1964.8,824.8 1965.3,824.3 1965.8,823.8 1966.3,823.2 1966.8,822.7 1967.3,822.1 1967.8,821.6 1968.3,821.0 1968.8,820.4 1969.3,819.8 1969.8,819.1 1970.3,818.5 1970.8,817.8 1971.3,817.1 1971.8,816.4 1972.3,815.7 1972.8,815.0 1973.3,814.2 1973.8,813.5 1974.3,812.7 1974.8,811.9 1975.3,811.1 1975.8,810.2 1976.3,809.4 1976.8,808.5 1977.3,807.6 1977.8,806.7 1978.3,805.8 1978.8,804.8 1979.3,803.9 1979.8,802.9 1980.3,801.9 1980.8,800.8 1981.3,799.8 1981.8,798.7 1982.3,797.6 1982.8,796.5 1983.3,795.4 1983.8,794.3 1984.3,793.1 1984.8,791.9 1985.3,790.7 1985.8,789.4 1986.3,788.2 1986.8,786.9 1987.3,785.6 1987.8,784.3 1988.3,782.9 1988.8,781.5 1989.3,780.1 1989.8,778.7 1990.3,777.3 1990.8,775.8 1991.3,774.3 1991.8,772.8 1992.3,771.3 1992.8,769.7 1993.3,768.1 1993.8,766.5 1994.3,764.9 1994.8,763.3 1995.3,761.6 1995.8,759.9 1996.3,758.2 1996.8,756.5 1997.3,754.8 1997.8,753.0 1998.3,751.3 1998.8,749.5 1999.3,747.7 1999.8,745.9 2000.3,744.1 2000.8,742.2 2001.3,740.4 2001.8,738.6 2002.3,736.7 2002.8,734.9 2003.3,733.0" fill="none" stroke="#0000ff" stroke-width="1.7" stroke-linejoin="round" />
<text x="187.6" y="726.8" font-size="46.3" letter-spacing="0.9" text-anchor="middle"  >0.05</text>
<text x="210.6" y="791" font-size="46.3" letter-spacing="0.9" text-anchor="middle"  >0</text>
<text x="173.6" y="856.7" font-size="46.3" letter-spacing="0.9" text-anchor="middle"  >−0.05</text>
<text x="231.1" y="893.7" font-size="46.3" letter-spacing="0.9" text-anchor="middle"  >0</text>
<text x="398.1" y="893.7" font-size="46.3" letter-spacing="0.9" text-anchor="middle"  >400</text>
<text x="563" y="893.7" font-size="46.3" letter-spacing="0.9" text-anchor="middle"  >800</text>
<text x="733.7" y="892.4" font-size="46.3" letter-spacing="0.9" text-anchor="middle"  >1200</text>
<text x="894.3" y="891.2" font-size="46.3" letter-spacing="0.9" text-anchor="middle"  >1600</text>
<text x="1046.8" y="888.7" font-size="46.3" letter-spacing="0.9" text-anchor="middle"  >2000</text>
<text x="101.9" y="781.4" font-size="70" font-style="italic">c</text>
<text x="129.5" y="799" font-size="42" font-style="italic">7</text>
<text x="1130.9" y="721.8" font-size="46.3" letter-spacing="0.9" text-anchor="middle"  >0.01</text>
<text x="1152.5" y="791" font-size="46.3" letter-spacing="0.9" text-anchor="middle"  >0</text>
<text x="1117.5" y="856.6" font-size="46.3" letter-spacing="0.9" text-anchor="middle"  >−0.01</text>
<text x="1179.8" y="896.2" font-size="46.3" letter-spacing="0.9" text-anchor="middle"  >0</text>
<text x="1342" y="895.5" font-size="46.3" letter-spacing="0.9" text-anchor="middle"  >400</text>
<text x="1506.9" y="895.5" font-size="46.3" letter-spacing="0.9" text-anchor="middle"  >800</text>
<text x="1676.2" y="896.2" font-size="46.3" letter-spacing="0.9" text-anchor="middle"  >1200</text>
<text x="1840.6" y="892.4" font-size="46.3" letter-spacing="0.9" text-anchor="middle"  >1600</text>
<text x="1998.7" y="892.4" font-size="46.3" letter-spacing="0.9" text-anchor="middle"  >2000</text>
<text x="2018" y="793.5" font-size="70" font-style="italic">c</text>
<text x="2047.8" y="809" font-size="42">8</text>
<rect x="235.0" y="911.0" width="830.0" height="155.0" fill="none" stroke="#000" stroke-width="1.8"/>
<path d="M318.0 911.0v8.0M318.0 1066.0v-8.0M401.0 911.0v8.0M401.0 1066.0v-8.0M484.0 911.0v8.0M484.0 1066.0v-8.0M567.0 911.0v8.0M567.0 1066.0v-8.0M650.0 911.0v8.0M650.0 1066.0v-8.0M733.0 911.0v8.0M733.0 1066.0v-8.0M816.0 911.0v8.0M816.0 1066.0v-8.0M899.0 911.0v8.0M899.0 1066.0v-8.0M982.0 911.0v8.0M982.0 1066.0v-8.0M235.0 988.5h8.0M1065.0 988.5h-8.0" stroke="#000" stroke-width="1.7" fill="none"/>
<polyline points="235.0,987.5 235.5,987.3 236.0,987.1 236.5,986.9 237.0,986.7 237.5,986.5 238.0,986.3 238.5,986.1 239.0,985.9 239.5,985.7 240.0,985.5 240.5,985.3 241.0,985.1 241.5,984.9 242.0,984.7 242.5,984.5 243.0,984.3 243.5,984.0 244.0,983.8 244.5,983.6 245.0,983.4 245.5,983.2 246.0,983.0 246.5,982.8 247.0,982.6 247.5,982.4 248.0,982.2 248.5,982.0 249.0,981.8 249.5,981.6 250.0,981.4 250.5,981.2 251.0,981.0 251.5,980.8 252.0,980.6 252.5,980.3 253.0,980.1 253.5,979.9 254.0,979.7 254.5,979.5 255.0,979.3 255.5,979.1 256.0,978.9 256.5,978.7 257.0,978.5 257.5,978.3 258.0,978.1 258.5,977.9 259.0,977.6 259.5,977.4 260.0,977.2 260.5,977.0 261.0,976.8 261.5,976.6 262.0,976.4 262.5,976.2 263.0,976.0 263.5,975.8 264.0,975.6 264.5,975.4 265.0,975.2 265.5,975.0 266.0,974.7 266.5,974.5 267.0,974.3 267.5,974.1 268.0,973.9 268.5,973.7 269.0,973.5 269.5,973.3 270.0,973.1 270.5,972.9 271.0,972.7 271.5,972.5 272.0,972.3 272.5,972.1 273.0,971.9 273.5,971.7 274.0,971.5 274.5,971.3 275.0,971.1 275.5,970.9 276.0,970.7 276.5,970.5 277.0,970.3 277.5,970.1 278.0,969.9 278.5,969.7 279.0,969.5 279.5,969.3 280.0,969.1 280.5,968.9 281.0,968.7 281.5,968.5 282.0,968.3 282.5,968.1 283.0,967.9 283.5,967.7 284.0,967.5 284.5,967.3 285.0,967.1 285.5,966.9 286.0,966.8 286.5,966.6 287.0,966.4 287.5,966.2 288.0,966.0 288.5,965.8 289.0,965.6 289.5,965.4 290.0,965.3 290.5,965.1 291.0,964.9 291.5,964.7 292.0,964.5 292.5,964.3 293.0,964.2 293.5,964.0 294.0,963.8 294.5,963.6 295.0,963.4 295.5,963.3 296.0,963.1 296.5,962.9 297.0,962.7 297.5,962.6 298.0,962.4 298.5,962.2 299.0,962.0 299.5,961.9 300.0,961.7 300.5,961.5 301.0,961.4 301.5,961.2 302.0,961.0 302.5,960.9 303.0,960.7 303.5,960.6 304.0,960.4 304.5,960.2 305.0,960.1 305.5,959.9 306.0,959.8 306.5,959.6 307.0,959.4 307.5,959.3 308.0,959.1 308.5,959.0 309.0,958.8 309.5,958.7 310.0,958.5 310.5,958.4 311.0,958.2 311.5,958.1 312.0,958.0 312.5,957.8 313.0,957.7 313.5,957.5 314.0,957.4 314.5,957.3 315.0,957.1 315.5,957.0 316.0,956.9 316.5,956.7 317.0,956.6 317.5,956.5 318.0,956.3 318.5,956.2 319.0,956.1 319.5,956.0 320.0,955.8 320.5,955.7 321.0,955.6 321.5,955.5 322.0,955.4 322.5,955.2 323.0,955.1 323.5,955.0 324.0,954.9 324.5,954.8 325.0,954.7 325.5,954.6 326.0,954.5 326.5,954.4 327.0,954.3 327.5,954.2 328.0,954.1 328.5,954.0 329.0,953.9 329.5,953.8 330.0,953.7 330.5,953.6 331.0,953.5 331.5,953.4 332.0,953.3 332.5,953.2 333.0,953.1 333.5,953.1 334.0,953.0 334.5,952.9 335.0,952.8 335.5,952.8 336.0,952.7 336.5,952.6 337.0,952.5 337.5,952.5 338.0,952.4 338.5,952.3 339.0,952.3 339.5,952.2 340.0,952.2 340.5,952.1 341.0,952.0 341.5,952.0 342.0,951.9 342.5,951.9 343.0,951.8 343.5,951.8 344.0,951.7 344.5,951.7 345.0,951.7 345.5,951.6 346.0,951.6 346.5,951.5 347.0,951.5 347.5,951.5 348.0,951.4 348.5,951.4 349.0,951.4 349.5,951.4 350.0,951.3 350.5,951.3 351.0,951.3 351.5,951.3 352.0,951.2 352.5,951.2 353.0,951.2 353.5,951.2 354.0,951.2 354.5,951.2 355.0,951.2 355.5,951.2 356.0,951.1 356.5,951.1 357.0,951.1 357.5,951.1 358.0,951.1 358.5,951.1 359.0,951.1 359.5,951.1 360.0,951.1 360.5,951.1 361.0,951.1 361.5,951.1 362.0,951.1 362.5,951.1 363.0,951.1 363.5,951.1 364.0,951.2 364.5,951.2 365.0,951.2 365.5,951.2 366.0,951.2 366.5,951.2 367.0,951.2 367.5,951.2 368.0,951.2 368.5,951.2 369.0,951.3 369.5,951.3 370.0,951.3 370.5,951.3 371.0,951.3 371.5,951.3 372.0,951.3 372.5,951.4 373.0,951.4 373.5,951.4 374.0,951.4 374.5,951.4 375.0,951.5 375.5,951.5 376.0,951.5 376.5,951.5 377.0,951.5 377.5,951.6 378.0,951.6 378.5,951.6 379.0,951.6 379.5,951.6 380.0,951.7 380.5,951.7 381.0,951.7 381.5,951.7 382.0,951.8 382.5,951.8 383.0,951.8 383.5,951.8 384.0,951.9 384.5,951.9 385.0,951.9 385.5,952.0 386.0,952.0 386.5,952.0 387.0,952.0 387.5,952.1 388.0,952.1 388.5,952.1 389.0,952.2 389.5,952.2 390.0,952.2 390.5,952.3 391.0,952.3 391.5,952.3 392.0,952.4 392.5,952.4 393.0,952.4 393.5,952.5 394.0,952.5 394.5,952.5 395.0,952.6 395.5,952.6 396.0,952.7 396.5,952.7 397.0,952.7 397.5,952.8 398.0,952.8 398.5,952.9 399.0,952.9 399.5,952.9 400.0,953.0 400.5,953.0 401.0,953.1 401.5,953.1 402.0,953.1 402.5,953.2 403.0,953.2 403.5,953.3 404.0,953.3 404.5,953.4 405.0,953.4 405.5,953.5 406.0,953.5 406.5,953.5 407.0,953.6 407.5,953.6 408.0,953.7 408.5,953.7 409.0,953.8 409.5,953.8 410.0,953.9 410.5,953.9 411.0,954.0 411.5,954.0 412.0,954.1 412.5,954.1 413.0,954.2 413.5,954.2 414.0,954.3 414.5,954.3 415.0,954.4 415.5,954.4 416.0,954.5 416.5,954.6 417.0,954.6 417.5,954.7 418.0,954.7 418.5,954.8 419.0,954.8 419.5,954.9 420.0,954.9 420.5,955.0 421.0,955.1 421.5,955.1 422.0,955.2 422.5,955.2 423.0,955.3 423.5,955.4 424.0,955.4 424.5,955.5 425.0,955.5 425.5,955.6 426.0,955.7 426.5,955.7 427.0,955.8 427.5,955.8 428.0,955.9 428.5,956.0 429.0,956.0 429.5,956.1 430.0,956.2 430.5,956.2 431.0,956.3 431.5,956.4 432.0,956.4 432.5,956.5 433.0,956.6 433.5,956.6 434.0,956.7 434.5,956.8 435.0,956.8 435.5,956.9 436.0,957.0 436.5,957.0 437.0,957.1 437.5,957.2 438.0,957.2 438.5,957.3 439.0,957.4 439.5,957.4 440.0,957.5 440.5,957.6 441.0,957.7 441.5,957.7 442.0,957.8 442.5,957.9 443.0,958.0 443.5,958.0 444.0,958.1 444.5,958.2 445.0,958.2 445.5,958.3 446.0,958.4 446.5,958.5 447.0,958.5 447.5,958.6 448.0,958.7 448.5,958.8 449.0,958.9 449.5,958.9 450.0,959.0 450.5,959.1 451.0,959.2 451.5,959.2 452.0,959.3 452.5,959.4 453.0,959.5 453.5,959.6 454.0,959.6 454.5,959.7 455.0,959.8 455.5,959.9 456.0,960.0 456.5,960.0 457.0,960.1 457.5,960.2 458.0,960.3 458.5,960.4 459.0,960.5 459.5,960.5 460.0,960.6 460.5,960.7 461.0,960.8 461.5,960.9 462.0,961.0 462.5,961.1 463.0,961.1 463.5,961.2 464.0,961.3 464.5,961.4 465.0,961.5 465.5,961.6 466.0,961.7 466.5,961.7 467.0,961.8 467.5,961.9 468.0,962.0 468.5,962.1 469.0,962.2 469.5,962.3 470.0,962.4 470.5,962.5 471.0,962.5 471.5,962.6 472.0,962.7 472.5,962.8 473.0,962.9 473.5,963.0 474.0,963.1 474.5,963.2 475.0,963.3 475.5,963.4 476.0,963.5 476.5,963.6 477.0,963.7 477.5,963.7 478.0,963.8 478.5,963.9 479.0,964.0 479.5,964.1 480.0,964.2 480.5,964.3 481.0,964.4 481.5,964.5 482.0,964.6 482.5,964.7 483.0,964.8 483.5,964.9 484.0,965.0 484.5,965.1 485.0,965.2 485.5,965.3 486.0,965.4 486.5,965.5 487.0,965.6 487.5,965.7 488.0,965.8 488.5,965.9 489.0,966.0 489.5,966.1 490.0,966.2 490.5,966.3 491.0,966.4 491.5,966.5 492.0,966.6 492.5,966.7 493.0,966.8 493.5,966.9 494.0,967.0 494.5,967.1 495.0,967.2 495.5,967.3 496.0,967.4 496.5,967.5 497.0,967.6 497.5,967.7 498.0,967.8 498.5,967.9 499.0,968.0 499.5,968.1 500.0,968.2 500.5,968.3 501.0,968.4 501.5,968.5 502.0,968.6 502.5,968.7 503.0,968.9 503.5,969.0 504.0,969.1 504.5,969.2 505.0,969.3 505.5,969.4 506.0,969.5 506.5,969.6 507.0,969.7 507.5,969.8 508.0,969.9 508.5,970.0 509.0,970.1 509.5,970.2 510.0,970.4 510.5,970.5 511.0,970.6 511.5,970.7 512.0,970.8 512.5,970.9 513.0,971.0 513.5,971.1 514.0,971.2 514.5,971.3 515.0,971.5 515.5,971.6 516.0,971.7 516.5,971.8 517.0,971.9 517.5,972.0 518.0,972.1 518.5,972.2 519.0,972.4 519.5,972.5 520.0,972.6 520.5,972.7 521.0,972.8 521.5,972.9 522.0,973.0 522.5,973.1 523.0,973.3 523.5,973.4 524.0,973.5 524.5,973.6 525.0,973.7 525.5,973.8 526.0,973.9 526.5,974.1 527.0,974.2 527.5,974.3 528.0,974.4 528.5,974.5 529.0,974.6 529.5,974.8 530.0,974.9 530.5,975.0 531.0,975.1 531.5,975.2 532.0,975.3 532.5,975.4 533.0,975.6 533.5,975.7 534.0,975.8 534.5,975.9 535.0,976.0 535.5,976.2 536.0,976.3 536.5,976.4 537.0,976.5 537.5,976.6 538.0,976.7 538.5,976.9 539.0,977.0 539.5,977.1 540.0,977.2 540.5,977.3 541.0,977.5 541.5,977.6 542.0,977.7 542.5,977.8 543.0,977.9 543.5,978.1 544.0,978.2 544.5,978.3 545.0,978.4 545.5,978.5 546.0,978.7 546.5,978.8 547.0,978.9 547.5,979.0 548.0,979.1 548.5,979.3 549.0,979.4 549.5,979.5 550.0,979.6 550.5,979.8 551.0,979.9 551.5,980.0 552.0,980.1 552.5,980.2 553.0,980.4 553.5,980.5 554.0,980.6 554.5,980.7 555.0,980.9 555.5,981.0 556.0,981.1 556.5,981.2 557.0,981.3 557.5,981.5 558.0,981.6 558.5,981.7 559.0,981.8 559.5,982.0 560.0,982.1 560.5,982.2 561.0,982.3 561.5,982.5 562.0,982.6 562.5,982.7 563.0,982.8 563.5,983.0 564.0,983.1 564.5,983.2 565.0,983.3 565.5,983.5 566.0,983.6 566.5,983.7 567.0,983.8 567.5,984.0 568.0,984.1 568.5,984.2 569.0,984.3 569.5,984.5 570.0,984.6 570.5,984.7 571.0,984.8 571.5,985.0 572.0,985.1 572.5,985.2 573.0,985.4 573.5,985.5 574.0,985.6 574.5,985.7 575.0,985.9 575.5,986.0 576.0,986.1 576.5,986.2 577.0,986.4 577.5,986.5 578.0,986.6 578.5,986.7 579.0,986.9 579.5,987.0 580.0,987.1 580.5,987.3 581.0,987.4 581.5,987.5 582.0,987.6 582.5,987.8 583.0,987.9 583.5,988.0 584.0,988.1 584.5,988.3 585.0,988.4 585.5,988.5 586.0,988.7 586.5,988.8 587.0,988.9 587.5,989.0 588.0,989.2 588.5,989.3 589.0,989.4 589.5,989.6 590.0,989.7 590.5,989.8 591.0,989.9 591.5,990.1 592.0,990.2 592.5,990.3 593.0,990.5 593.5,990.6 594.0,990.7 594.5,990.8 595.0,991.0 595.5,991.1 596.0,991.2 596.5,991.4 597.0,991.5 597.5,991.6 598.0,991.7 598.5,991.9 599.0,992.0 599.5,992.1 600.0,992.3 600.5,992.4 601.0,992.5 601.5,992.7 602.0,992.8 602.5,992.9 603.0,993.0 603.5,993.2 604.0,993.3 604.5,993.4 605.0,993.6 605.5,993.7 606.0,993.8 606.5,993.9 607.0,994.1 607.5,994.2 608.0,994.3 608.5,994.5 609.0,994.6 609.5,994.7 610.0,994.9 610.5,995.0 611.0,995.1 611.5,995.2 612.0,995.4 612.5,995.5 613.0,995.6 613.5,995.8 614.0,995.9 614.5,996.0 615.0,996.1 615.5,996.3 616.0,996.4 616.5,996.5 617.0,996.7 617.5,996.8 618.0,996.9 618.5,997.1 619.0,997.2 619.5,997.3 620.0,997.4 620.5,997.6 621.0,997.7 621.5,997.8 622.0,998.0 622.5,998.1 623.0,998.2 623.5,998.3 624.0,998.5 624.5,998.6 625.0,998.7 625.5,998.9 626.0,999.0 626.5,999.1 627.0,999.3 627.5,999.4 628.0,999.5 628.5,999.6 629.0,999.8 629.5,999.9 630.0,1000.0 630.5,1000.2 631.0,1000.3 631.5,1000.4 632.0,1000.5 632.5,1000.7 633.0,1000.8 633.5,1000.9 634.0,1001.1 634.5,1001.2 635.0,1001.3 635.5,1001.4 636.0,1001.6 636.5,1001.7 637.0,1001.8 637.5,1002.0 638.0,1002.1 638.5,1002.2 639.0,1002.3 639.5,1002.5 640.0,1002.6 640.5,1002.7 641.0,1002.9 641.5,1003.0 642.0,1003.1 642.5,1003.2 643.0,1003.4 643.5,1003.5 644.0,1003.6 644.5,1003.7 645.0,1003.9 645.5,1004.0 646.0,1004.1 646.5,1004.3 647.0,1004.4 647.5,1004.5 648.0,1004.6 648.5,1004.8 649.0,1004.9 649.5,1005.0 650.0,1005.1 650.5,1005.3 651.0,1005.4 651.5,1005.5 652.0,1005.6 652.5,1005.8 653.0,1005.9 653.5,1006.0 654.0,1006.2 654.5,1006.3 655.0,1006.4 655.5,1006.5 656.0,1006.7 656.5,1006.8 657.0,1006.9 657.5,1007.0 658.0,1007.2 658.5,1007.3 659.0,1007.4 659.5,1007.5 660.0,1007.7 660.5,1007.8 661.0,1007.9 661.5,1008.0 662.0,1008.2 662.5,1008.3 663.0,1008.4 663.5,1008.5 664.0,1008.7 664.5,1008.8 665.0,1008.9 665.5,1009.0 666.0,1009.2 666.5,1009.3 667.0,1009.4 667.5,1009.5 668.0,1009.7 668.5,1009.8 669.0,1009.9 669.5,1010.0 670.0,1010.1 670.5,1010.3 671.0,1010.4 671.5,1010.5 672.0,1010.6 672.5,1010.8 673.0,1010.9 673.5,1011.0 674.0,1011.1 674.5,1011.2 675.0,1011.4 675.5,1011.5 676.0,1011.6 676.5,1011.7 677.0,1011.9 677.5,1012.0 678.0,1012.1 678.5,1012.2 679.0,1012.3 679.5,1012.5 680.0,1012.6 680.5,1012.7 681.0,1012.8 681.5,1012.9 682.0,1013.1 682.5,1013.2 683.0,1013.3 683.5,1013.4 684.0,1013.5 684.5,1013.7 685.0,1013.8 685.5,1013.9 686.0,1014.0 686.5,1014.1 687.0,1014.3 687.5,1014.4 688.0,1014.5 688.5,1014.6 689.0,1014.7 689.5,1014.8 690.0,1015.0 690.5,1015.1 691.0,1015.2 691.5,1015.3 692.0,1015.4 692.5,1015.6 693.0,1015.7 693.5,1015.8 694.0,1015.9 694.5,1016.0 695.0,1016.1 695.5,1016.2 696.0,1016.4 696.5,1016.5 697.0,1016.6 697.5,1016.7 698.0,1016.8 698.5,1016.9 699.0,1017.1 699.5,1017.2 700.0,1017.3 700.5,1017.4 701.0,1017.5 701.5,1017.6 702.0,1017.7 702.5,1017.9 703.0,1018.0 703.5,1018.1 704.0,1018.2 704.5,1018.3 705.0,1018.4 705.5,1018.5 706.0,1018.6 706.5,1018.8 707.0,1018.9 707.5,1019.0 708.0,1019.1 708.5,1019.2 709.0,1019.3 709.5,1019.4 710.0,1019.5 710.5,1019.7 711.0,1019.8 711.5,1019.9 712.0,1020.0 712.5,1020.1 713.0,1020.2 713.5,1020.3 714.0,1020.4 714.5,1020.5 715.0,1020.6 715.5,1020.8 716.0,1020.9 716.5,1021.0 717.0,1021.1 717.5,1021.2 718.0,1021.3 718.5,1021.4 719.0,1021.5 719.5,1021.6 720.0,1021.7 720.5,1021.8 721.0,1021.9 721.5,1022.0 722.0,1022.1 722.5,1022.3 723.0,1022.4 723.5,1022.5 724.0,1022.6 724.5,1022.7 725.0,1022.8 725.5,1022.9 726.0,1023.0 726.5,1023.1 727.0,1023.2 727.5,1023.3 728.0,1023.4 728.5,1023.5 729.0,1023.6 729.5,1023.7 730.0,1023.8 730.5,1023.9 731.0,1024.0 731.5,1024.1 732.0,1024.2 732.5,1024.3 733.0,1024.4 733.5,1024.5 734.0,1024.6 734.5,1024.7 735.0,1024.8 735.5,1024.9 736.0,1025.0 736.5,1025.1 737.0,1025.2 737.5,1025.3 738.0,1025.4 738.5,1025.5 739.0,1025.6 739.5,1025.7 740.0,1025.8 740.5,1025.9 741.0,1026.0 741.5,1026.1 742.0,1026.2 742.5,1026.3 743.0,1026.4 743.5,1026.5 744.0,1026.6 744.5,1026.7 745.0,1026.8 745.5,1026.9 746.0,1027.0 746.5,1027.1 747.0,1027.2 747.5,1027.3 748.0,1027.3 748.5,1027.4 749.0,1027.5 749.5,1027.6 750.0,1027.7 750.5,1027.8 751.0,1027.9 751.5,1028.0 752.0,1028.1 752.5,1028.2 753.0,1028.3 753.5,1028.4 754.0,1028.5 754.5,1028.5 755.0,1028.6 755.5,1028.7 756.0,1028.8 756.5,1028.9 757.0,1029.0 757.5,1029.1 758.0,1029.2 758.5,1029.3 759.0,1029.3 759.5,1029.4 760.0,1029.5 760.5,1029.6 761.0,1029.7 761.5,1029.8 762.0,1029.9 762.5,1029.9 763.0,1030.0 763.5,1030.1 764.0,1030.2 764.5,1030.3 765.0,1030.4 765.5,1030.5 766.0,1030.5 766.5,1030.6 767.0,1030.7 767.5,1030.8 768.0,1030.9 768.5,1031.0 769.0,1031.0 769.5,1031.1 770.0,1031.2 770.5,1031.3 771.0,1031.4 771.5,1031.4 772.0,1031.5 772.5,1031.6 773.0,1031.7 773.5,1031.8 774.0,1031.8 774.5,1031.9 775.0,1032.0 775.5,1032.1 776.0,1032.1 776.5,1032.2 777.0,1032.3 777.5,1032.4 778.0,1032.5 778.5,1032.5 779.0,1032.6 779.5,1032.7 780.0,1032.8 780.5,1032.8 781.0,1032.9 781.5,1033.0 782.0,1033.0 782.5,1033.1 783.0,1033.2 783.5,1033.3 784.0,1033.3 784.5,1033.4 785.0,1033.5 785.5,1033.6 786.0,1033.6 786.5,1033.7 787.0,1033.8 787.5,1033.8 788.0,1033.9 788.5,1034.0 789.0,1034.0 789.5,1034.1 790.0,1034.2 790.5,1034.2 791.0,1034.3 791.5,1034.4 792.0,1034.4 792.5,1034.5 793.0,1034.6 793.5,1034.6 794.0,1034.7 794.5,1034.8 795.0,1034.8 795.5,1034.9 796.0,1035.0 796.5,1035.0 797.0,1035.1 797.5,1035.2 798.0,1035.2 798.5,1035.3 799.0,1035.3 799.5,1035.4 800.0,1035.5 800.5,1035.5 801.0,1035.6 801.5,1035.6 802.0,1035.7 802.5,1035.8 803.0,1035.8 803.5,1035.9 804.0,1035.9 804.5,1036.0 805.0,1036.1 805.5,1036.1 806.0,1036.2 806.5,1036.2 807.0,1036.3 807.5,1036.3 808.0,1036.4 808.5,1036.4 809.0,1036.5 809.5,1036.6 810.0,1036.6 810.5,1036.7 811.0,1036.7 811.5,1036.8 812.0,1036.8 812.5,1036.9 813.0,1036.9 813.5,1037.0 814.0,1037.0 814.5,1037.1 815.0,1037.1 815.5,1037.2 816.0,1037.2 816.5,1037.3 817.0,1037.3 817.5,1037.4 818.0,1037.4 818.5,1037.5 819.0,1037.5 819.5,1037.5 820.0,1037.6 820.5,1037.6 821.0,1037.7 821.5,1037.7 822.0,1037.8 822.5,1037.8 823.0,1037.9 823.5,1037.9 824.0,1037.9 824.5,1038.0 825.0,1038.0 825.5,1038.1 826.0,1038.1 826.5,1038.1 827.0,1038.2 827.5,1038.2 828.0,1038.3 828.5,1038.3 829.0,1038.3 829.5,1038.4 830.0,1038.4 830.5,1038.5 831.0,1038.5 831.5,1038.5 832.0,1038.6 832.5,1038.6 833.0,1038.6 833.5,1038.7 834.0,1038.7 834.5,1038.7 835.0,1038.8 835.5,1038.8 836.0,1038.8 836.5,1038.9 837.0,1038.9 837.5,1038.9 838.0,1039.0 838.5,1039.0 839.0,1039.0 839.5,1039.0 840.0,1039.1 840.5,1039.1 841.0,1039.1 841.5,1039.2 842.0,1039.2 842.5,1039.2 843.0,1039.2 843.5,1039.3 844.0,1039.3 844.5,1039.3 845.0,1039.3 845.5,1039.4 846.0,1039.4 846.5,1039.4 847.0,1039.4 847.5,1039.4 848.0,1039.5 848.5,1039.5 849.0,1039.5 849.5,1039.5 850.0,1039.5 850.5,1039.6 851.0,1039.6 851.5,1039.6 852.0,1039.6 852.5,1039.6 853.0,1039.7 853.5,1039.7 854.0,1039.7 854.5,1039.7 855.0,1039.7 855.5,1039.7 856.0,1039.7 856.5,1039.8 857.0,1039.8 857.5,1039.8 858.0,1039.8 858.5,1039.8 859.0,1039.8 859.5,1039.8 860.0,1039.8 860.5,1039.8 861.0,1039.9 861.5,1039.9 862.0,1039.9 862.5,1039.9 863.0,1039.9 863.5,1039.9 864.0,1039.9 864.5,1039.9 865.0,1039.9 865.5,1039.9 866.0,1039.9 866.5,1039.9 867.0,1039.9 867.5,1039.9 868.0,1039.9 868.5,1039.9 869.0,1039.9 869.5,1039.9 870.0,1039.9 870.5,1039.9 871.0,1039.9 871.5,1039.9 872.0,1039.9 872.5,1039.9 873.0,1039.9 873.5,1039.9 874.0,1039.9 874.5,1039.8 875.0,1039.8 875.5,1039.8 876.0,1039.8 876.5,1039.8 877.0,1039.8 877.5,1039.8 878.0,1039.7 878.5,1039.7 879.0,1039.7 879.5,1039.7 880.0,1039.7 880.5,1039.7 881.0,1039.6 881.5,1039.6 882.0,1039.6 882.5,1039.6 883.0,1039.5 883.5,1039.5 884.0,1039.5 884.5,1039.5 885.0,1039.4 885.5,1039.4 886.0,1039.4 886.5,1039.3 887.0,1039.3 887.5,1039.3 888.0,1039.2 888.5,1039.2 889.0,1039.2 889.5,1039.1 890.0,1039.1 890.5,1039.0 891.0,1039.0 891.5,1039.0 892.0,1038.9 892.5,1038.9 893.0,1038.8 893.5,1038.8 894.0,1038.7 894.5,1038.7 895.0,1038.6 895.5,1038.6 896.0,1038.6 896.5,1038.5 897.0,1038.5 897.5,1038.4 898.0,1038.3 898.5,1038.3 899.0,1038.2 899.5,1038.2 900.0,1038.1 900.5,1038.1 901.0,1038.0 901.5,1038.0 902.0,1037.9 902.5,1037.8 903.0,1037.8 903.5,1037.7 904.0,1037.6 904.5,1037.6 905.0,1037.5 905.5,1037.5 906.0,1037.4 906.5,1037.3 907.0,1037.2 907.5,1037.2 908.0,1037.1 908.5,1037.0 909.0,1037.0 909.5,1036.9 910.0,1036.8 910.5,1036.7 911.0,1036.7 911.5,1036.6 912.0,1036.5 912.5,1036.4 913.0,1036.4 913.5,1036.3 914.0,1036.2 914.5,1036.1 915.0,1036.0 915.5,1036.0 916.0,1035.9 916.5,1035.8 917.0,1035.7 917.5,1035.6 918.0,1035.5 918.5,1035.5 919.0,1035.4 919.5,1035.3 920.0,1035.2 920.5,1035.1 921.0,1035.0 921.5,1034.9 922.0,1034.8 922.5,1034.7 923.0,1034.6 923.5,1034.6 924.0,1034.5 924.5,1034.4 925.0,1034.3 925.5,1034.2 926.0,1034.1 926.5,1034.0 927.0,1033.9 927.5,1033.8 928.0,1033.7 928.5,1033.6 929.0,1033.5 929.5,1033.4 930.0,1033.3 930.5,1033.2 931.0,1033.1 931.5,1033.0 932.0,1032.8 932.5,1032.7 933.0,1032.6 933.5,1032.5 934.0,1032.4 934.5,1032.3 935.0,1032.2 935.5,1032.1 936.0,1032.0 936.5,1031.9 937.0,1031.7 937.5,1031.6 938.0,1031.5 938.5,1031.4 939.0,1031.3 939.5,1031.2 940.0,1031.1 940.5,1030.9 941.0,1030.8 941.5,1030.7 942.0,1030.6 942.5,1030.5 943.0,1030.3 943.5,1030.2 944.0,1030.1 944.5,1030.0 945.0,1029.9 945.5,1029.7 946.0,1029.6 946.5,1029.5 947.0,1029.4 947.5,1029.2 948.0,1029.1 948.5,1029.0 949.0,1028.8 949.5,1028.7 950.0,1028.6 950.5,1028.5 951.0,1028.3 951.5,1028.2 952.0,1028.1 952.5,1027.9 953.0,1027.8 953.5,1027.7 954.0,1027.5 954.5,1027.4 955.0,1027.3 955.5,1027.1 956.0,1027.0 956.5,1026.9 957.0,1026.7 957.5,1026.6 958.0,1026.4 958.5,1026.3 959.0,1026.2 959.5,1026.0 960.0,1025.9 960.5,1025.7 961.0,1025.6 961.5,1025.5 962.0,1025.3 962.5,1025.2 963.0,1025.0 963.5,1024.9 964.0,1024.7 964.5,1024.6 965.0,1024.5 965.5,1024.3 966.0,1024.2 966.5,1024.0 967.0,1023.9 967.5,1023.7 968.0,1023.6 968.5,1023.4 969.0,1023.3 969.5,1023.1 970.0,1023.0 970.5,1022.8 971.0,1022.7 971.5,1022.5 972.0,1022.4 972.5,1022.2 973.0,1022.1 973.5,1021.9 974.0,1021.8 974.5,1021.6 975.0,1021.4 975.5,1021.3 976.0,1021.1 976.5,1021.0 977.0,1020.8 977.5,1020.7 978.0,1020.5 978.5,1020.3 979.0,1020.2 979.5,1020.0 980.0,1019.9 980.5,1019.7 981.0,1019.6 981.5,1019.4 982.0,1019.2 982.5,1019.1 983.0,1018.9 983.5,1018.7 984.0,1018.6 984.5,1018.4 985.0,1018.3 985.5,1018.1 986.0,1017.9 986.5,1017.8 987.0,1017.6 987.5,1017.4 988.0,1017.3 988.5,1017.1 989.0,1016.9 989.5,1016.8 990.0,1016.6 990.5,1016.4 991.0,1016.3 991.5,1016.1 992.0,1015.9 992.5,1015.8 993.0,1015.6 993.5,1015.4 994.0,1015.3 994.5,1015.1 995.0,1014.9 995.5,1014.7 996.0,1014.6 996.5,1014.4 997.0,1014.2 997.5,1014.1 998.0,1013.9 998.5,1013.7 999.0,1013.5 999.5,1013.4 1000.0,1013.2 1000.5,1013.0 1001.0,1012.8 1001.5,1012.7 1002.0,1012.5 1002.5,1012.3 1003.0,1012.1 1003.5,1012.0 1004.0,1011.8 1004.5,1011.6 1005.0,1011.4 1005.5,1011.3 1006.0,1011.1 1006.5,1010.9 1007.0,1010.7 1007.5,1010.5 1008.0,1010.4 1008.5,1010.2 1009.0,1010.0 1009.5,1009.8 1010.0,1009.6 1010.5,1009.5 1011.0,1009.3 1011.5,1009.1 1012.0,1008.9 1012.5,1008.7 1013.0,1008.6 1013.5,1008.4 1014.0,1008.2 1014.5,1008.0 1015.0,1007.8 1015.5,1007.7 1016.0,1007.5 1016.5,1007.3 1017.0,1007.1 1017.5,1006.9 1018.0,1006.7 1018.5,1006.6 1019.0,1006.4 1019.5,1006.2 1020.0,1006.0 1020.5,1005.8 1021.0,1005.6 1021.5,1005.5 1022.0,1005.3 1022.5,1005.1 1023.0,1004.9 1023.5,1004.7 1024.0,1004.5 1024.5,1004.3 1025.0,1004.2 1025.5,1004.0 1026.0,1003.8 1026.5,1003.6 1027.0,1003.4 1027.5,1003.2 1028.0,1003.0 1028.5,1002.9 1029.0,1002.7 1029.5,1002.5 1030.0,1002.3 1030.5,1002.1 1031.0,1001.9 1031.5,1001.7 1032.0,1001.5 1032.5,1001.4 1033.0,1001.2 1033.5,1001.0 1034.0,1000.8 1034.5,1000.6 1035.0,1000.4 1035.5,1000.2 1036.0,1000.0 1036.5,999.8 1037.0,999.7 1037.5,999.5 1038.0,999.3 1038.5,999.1 1039.0,998.9 1039.5,998.7 1040.0,998.5 1040.5,998.3 1041.0,998.1 1041.5,998.0 1042.0,997.8 1042.5,997.6 1043.0,997.4 1043.5,997.2 1044.0,997.0 1044.5,996.8 1045.0,996.6 1045.5,996.4 1046.0,996.2 1046.5,996.1 1047.0,995.9 1047.5,995.7 1048.0,995.5 1048.5,995.3 1049.0,995.1 1049.5,994.9 1050.0,994.7 1050.5,994.5 1051.0,994.3 1051.5,994.2 1052.0,994.0 1052.5,993.8 1053.0,993.6 1053.5,993.4 1054.0,993.2 1054.5,993.0 1055.0,992.8 1055.5,992.6 1056.0,992.4 1056.5,992.2 1057.0,992.1 1057.5,991.9 1058.0,991.7 1058.5,991.5 1059.0,991.3 1059.5,991.1 1060.0,990.9 1060.5,990.7 1061.0,990.5 1061.5,990.3 1062.0,990.1 1062.5,990.0 1063.0,989.8 1063.5,989.6 1064.0,989.4 1064.5,989.2 1065.0,989.0" fill="none" stroke="#0000ff" stroke-width="1.7" stroke-linejoin="round" />
<rect x="1173.5" y="911.0" width="830.0" height="155.0" fill="none" stroke="#000" stroke-width="1.8"/>
<path d="M1256.5 911.0v8.0M1256.5 1066.0v-8.0M1339.5 911.0v8.0M1339.5 1066.0v-8.0M1422.5 911.0v8.0M1422.5 1066.0v-8.0M1505.5 911.0v8.0M1505.5 1066.0v-8.0M1588.5 911.0v8.0M1588.5 1066.0v-8.0M1671.5 911.0v8.0M1671.5 1066.0v-8.0M1754.5 911.0v8.0M1754.5 1066.0v-8.0M1837.5 911.0v8.0M1837.5 1066.0v-8.0M1920.5 911.0v8.0M1920.5 1066.0v-8.0M1173.5 988.5h8.0M2003.5 988.5h-8.0M1173.5 918.0h2.5M2003.5 918.0h-2.5M1173.5 1059.0h2.5M2003.5 1059.0h-2.5" stroke="#000" stroke-width="1.7" fill="none"/>
<polyline points="1174.0,1031.0 1174.5,1030.9 1175.0,1030.8 1175.5,1030.7 1176.0,1030.6 1176.5,1030.5 1177.0,1030.4 1177.5,1030.3 1178.0,1030.2 1178.5,1030.1 1179.0,1030.0 1179.5,1029.9 1180.0,1029.8 1180.5,1029.6 1181.0,1029.5 1181.5,1029.4 1182.0,1029.3 1182.5,1029.2 1183.0,1029.1 1183.5,1029.0 1184.0,1028.9 1184.5,1028.8 1185.0,1028.7 1185.5,1028.6 1186.0,1028.5 1186.5,1028.4 1187.0,1028.3 1187.5,1028.2 1188.0,1028.1 1188.5,1028.0 1189.0,1027.9 1189.5,1027.8 1190.0,1027.7 1190.5,1027.6 1191.0,1027.5 1191.5,1027.4 1192.0,1027.3 1192.5,1027.2 1193.0,1027.1 1193.5,1027.0 1194.0,1026.9 1194.5,1026.8 1195.0,1026.7 1195.5,1026.6 1196.0,1026.5 1196.5,1026.4 1197.0,1026.3 1197.5,1026.2 1198.0,1026.1 1198.5,1026.0 1199.0,1025.9 1199.5,1025.8 1200.0,1025.7 1200.5,1025.5 1201.0,1025.4 1201.5,1025.3 1202.0,1025.2 1202.5,1025.1 1203.0,1025.0 1203.5,1024.9 1204.0,1024.8 1204.5,1024.7 1205.0,1024.6 1205.5,1024.5 1206.0,1024.4 1206.5,1024.3 1207.0,1024.2 1207.5,1024.1 1208.0,1024.0 1208.5,1023.9 1209.0,1023.8 1209.5,1023.7 1210.0,1023.6 1210.5,1023.5 1211.0,1023.4 1211.5,1023.3 1212.0,1023.2 1212.5,1023.2 1213.0,1023.1 1213.5,1023.0 1214.0,1022.9 1214.5,1022.8 1215.0,1022.7 1215.5,1022.6 1216.0,1022.5 1216.5,1022.4 1217.0,1022.3 1217.5,1022.2 1218.0,1022.1 1218.5,1022.0 1219.0,1021.9 1219.5,1021.8 1220.0,1021.7 1220.5,1021.6 1221.0,1021.5 1221.5,1021.4 1222.0,1021.3 1222.5,1021.2 1223.0,1021.1 1223.5,1021.0 1224.0,1020.9 1224.5,1020.8 1225.0,1020.7 1225.5,1020.6 1226.0,1020.5 1226.5,1020.4 1227.0,1020.3 1227.5,1020.2 1228.0,1020.1 1228.5,1020.0 1229.0,1019.9 1229.5,1019.8 1230.0,1019.7 1230.5,1019.6 1231.0,1019.6 1231.5,1019.5 1232.0,1019.4 1232.5,1019.3 1233.0,1019.2 1233.5,1019.1 1234.0,1019.0 1234.5,1018.9 1235.0,1018.8 1235.5,1018.7 1236.0,1018.6 1236.5,1018.5 1237.0,1018.4 1237.5,1018.3 1238.0,1018.2 1238.5,1018.1 1239.0,1018.0 1239.5,1017.9 1240.0,1017.8 1240.5,1017.8 1241.0,1017.7 1241.5,1017.6 1242.0,1017.5 1242.5,1017.4 1243.0,1017.3 1243.5,1017.2 1244.0,1017.1 1244.5,1017.0 1245.0,1016.9 1245.5,1016.8 1246.0,1016.7 1246.5,1016.6 1247.0,1016.5 1247.5,1016.4 1248.0,1016.4 1248.5,1016.3 1249.0,1016.2 1249.5,1016.1 1250.0,1016.0 1250.5,1015.9 1251.0,1015.8 1251.5,1015.7 1252.0,1015.6 1252.5,1015.5 1253.0,1015.4 1253.5,1015.3 1254.0,1015.2 1254.5,1015.2 1255.0,1015.1 1255.5,1015.0 1256.0,1014.9 1256.5,1014.8 1257.0,1014.7 1257.5,1014.6 1258.0,1014.5 1258.5,1014.4 1259.0,1014.3 1259.5,1014.2 1260.0,1014.2 1260.5,1014.1 1261.0,1014.0 1261.5,1013.9 1262.0,1013.8 1262.5,1013.7 1263.0,1013.6 1263.5,1013.5 1264.0,1013.4 1264.5,1013.3 1265.0,1013.3 1265.5,1013.2 1266.0,1013.1 1266.5,1013.0 1267.0,1012.9 1267.5,1012.8 1268.0,1012.7 1268.5,1012.6 1269.0,1012.5 1269.5,1012.5 1270.0,1012.4 1270.5,1012.3 1271.0,1012.2 1271.5,1012.1 1272.0,1012.0 1272.5,1011.9 1273.0,1011.8 1273.5,1011.8 1274.0,1011.7 1274.5,1011.6 1275.0,1011.5 1275.5,1011.4 1276.0,1011.3 1276.5,1011.2 1277.0,1011.1 1277.5,1011.1 1278.0,1011.0 1278.5,1010.9 1279.0,1010.8 1279.5,1010.7 1280.0,1010.6 1280.5,1010.5 1281.0,1010.4 1281.5,1010.4 1282.0,1010.3 1282.5,1010.2 1283.0,1010.1 1283.5,1010.0 1284.0,1009.9 1284.5,1009.8 1285.0,1009.8 1285.5,1009.7 1286.0,1009.6 1286.5,1009.5 1287.0,1009.4 1287.5,1009.3 1288.0,1009.2 1288.5,1009.2 1289.0,1009.1 1289.5,1009.0 1290.0,1008.9 1290.5,1008.8 1291.0,1008.7 1291.5,1008.6 1292.0,1008.6 1292.5,1008.5 1293.0,1008.4 1293.5,1008.3 1294.0,1008.2 1294.5,1008.1 1295.0,1008.1 1295.5,1008.0 1296.0,1007.9 1296.5,1007.8 1297.0,1007.7 1297.5,1007.6 1298.0,1007.6 1298.5,1007.5 1299.0,1007.4 1299.5,1007.3 1300.0,1007.2 1300.5,1007.1 1301.0,1007.1 1301.5,1007.0 1302.0,1006.9 1302.5,1006.8 1303.0,1006.7 1303.5,1006.6 1304.0,1006.6 1304.5,1006.5 1305.0,1006.4 1305.5,1006.3 1306.0,1006.2 1306.5,1006.2 1307.0,1006.1 1307.5,1006.0 1308.0,1005.9 1308.5,1005.8 1309.0,1005.8 1309.5,1005.7 1310.0,1005.6 1310.5,1005.5 1311.0,1005.4 1311.5,1005.3 1312.0,1005.3 1312.5,1005.2 1313.0,1005.1 1313.5,1005.0 1314.0,1004.9 1314.5,1004.9 1315.0,1004.8 1315.5,1004.7 1316.0,1004.6 1316.5,1004.5 1317.0,1004.5 1317.5,1004.4 1318.0,1004.3 1318.5,1004.2 1319.0,1004.1 1319.5,1004.1 1320.0,1004.0 1320.5,1003.9 1321.0,1003.8 1321.5,1003.8 1322.0,1003.7 1322.5,1003.6 1323.0,1003.5 1323.5,1003.4 1324.0,1003.4 1324.5,1003.3 1325.0,1003.2 1325.5,1003.1 1326.0,1003.0 1326.5,1003.0 1327.0,1002.9 1327.5,1002.8 1328.0,1002.7 1328.5,1002.7 1329.0,1002.6 1329.5,1002.5 1330.0,1002.4 1330.5,1002.4 1331.0,1002.3 1331.5,1002.2 1332.0,1002.1 1332.5,1002.0 1333.0,1002.0 1333.5,1001.9 1334.0,1001.8 1334.5,1001.7 1335.0,1001.7 1335.5,1001.6 1336.0,1001.5 1336.5,1001.4 1337.0,1001.4 1337.5,1001.3 1338.0,1001.2 1338.5,1001.1 1339.0,1001.1 1339.5,1001.0 1340.0,1000.9 1340.5,1000.8 1341.0,1000.8 1341.5,1000.7 1342.0,1000.6 1342.5,1000.5 1343.0,1000.5 1343.5,1000.4 1344.0,1000.3 1344.5,1000.2 1345.0,1000.2 1345.5,1000.1 1346.0,1000.0 1346.5,999.9 1347.0,999.9 1347.5,999.8 1348.0,999.7 1348.5,999.6 1349.0,999.6 1349.5,999.5 1350.0,999.4 1350.5,999.4 1351.0,999.3 1351.5,999.2 1352.0,999.1 1352.5,999.1 1353.0,999.0 1353.5,998.9 1354.0,998.8 1354.5,998.8 1355.0,998.7 1355.5,998.6 1356.0,998.6 1356.5,998.5 1357.0,998.4 1357.5,998.3 1358.0,998.3 1358.5,998.2 1359.0,998.1 1359.5,998.1 1360.0,998.0 1360.5,997.9 1361.0,997.8 1361.5,997.8 1362.0,997.7 1362.5,997.6 1363.0,997.6 1363.5,997.5 1364.0,997.4 1364.5,997.4 1365.0,997.3 1365.5,997.2 1366.0,997.1 1366.5,997.1 1367.0,997.0 1367.5,996.9 1368.0,996.9 1368.5,996.8 1369.0,996.7 1369.5,996.7 1370.0,996.6 1370.5,996.5 1371.0,996.5 1371.5,996.4 1372.0,996.3 1372.5,996.2 1373.0,996.2 1373.5,996.1 1374.0,996.0 1374.5,996.0 1375.0,995.9 1375.5,995.8 1376.0,995.8 1376.5,995.7 1377.0,995.6 1377.5,995.6 1378.0,995.5 1378.5,995.4 1379.0,995.4 1379.5,995.3 1380.0,995.2 1380.5,995.2 1381.0,995.1 1381.5,995.0 1382.0,995.0 1382.5,994.9 1383.0,994.8 1383.5,994.8 1384.0,994.7 1384.5,994.6 1385.0,994.6 1385.5,994.5 1386.0,994.4 1386.5,994.4 1387.0,994.3 1387.5,994.2 1388.0,994.2 1388.5,994.1 1389.0,994.0 1389.5,994.0 1390.0,993.9 1390.5,993.8 1391.0,993.8 1391.5,993.7 1392.0,993.7 1392.5,993.6 1393.0,993.5 1393.5,993.5 1394.0,993.4 1394.5,993.3 1395.0,993.3 1395.5,993.2 1396.0,993.1 1396.5,993.1 1397.0,993.0 1397.5,993.0 1398.0,992.9 1398.5,992.8 1399.0,992.8 1399.5,992.7 1400.0,992.6 1400.5,992.6 1401.0,992.5 1401.5,992.5 1402.0,992.4 1402.5,992.3 1403.0,992.3 1403.5,992.2 1404.0,992.1 1404.5,992.1 1405.0,992.0 1405.5,992.0 1406.0,991.9 1406.5,991.8 1407.0,991.8 1407.5,991.7 1408.0,991.6 1408.5,991.6 1409.0,991.5 1409.5,991.5 1410.0,991.4 1410.5,991.3 1411.0,991.3 1411.5,991.2 1412.0,991.2 1412.5,991.1 1413.0,991.0 1413.5,991.0 1414.0,990.9 1414.5,990.9 1415.0,990.8 1415.5,990.7 1416.0,990.7 1416.5,990.6 1417.0,990.6 1417.5,990.5 1418.0,990.4 1418.5,990.4 1419.0,990.3 1419.5,990.3 1420.0,990.2 1420.5,990.2 1421.0,990.1 1421.5,990.0 1422.0,990.0 1422.5,989.9 1423.0,989.9 1423.5,989.8 1424.0,989.7 1424.5,989.7 1425.0,989.6 1425.5,989.6 1426.0,989.5 1426.5,989.5 1427.0,989.4 1427.5,989.3 1428.0,989.3 1428.5,989.2 1429.0,989.2 1429.5,989.1 1430.0,989.1 1430.5,989.0 1431.0,989.0 1431.5,988.9 1432.0,988.8 1432.5,988.8 1433.0,988.7 1433.5,988.7 1434.0,988.6 1434.5,988.6 1435.0,988.5 1435.5,988.5 1436.0,988.4 1436.5,988.3 1437.0,988.3 1437.5,988.2 1438.0,988.2 1438.5,988.1 1439.0,988.1 1439.5,988.0 1440.0,988.0 1440.5,987.9 1441.0,987.8 1441.5,987.8 1442.0,987.7 1442.5,987.7 1443.0,987.6 1443.5,987.6 1444.0,987.5 1444.5,987.5 1445.0,987.4 1445.5,987.4 1446.0,987.3 1446.5,987.3 1447.0,987.2 1447.5,987.1 1448.0,987.1 1448.5,987.0 1449.0,987.0 1449.5,986.9 1450.0,986.9 1450.5,986.8 1451.0,986.8 1451.5,986.7 1452.0,986.7 1452.5,986.6 1453.0,986.6 1453.5,986.5 1454.0,986.5 1454.5,986.4 1455.0,986.3 1455.5,986.3 1456.0,986.2 1456.5,986.2 1457.0,986.1 1457.5,986.1 1458.0,986.0 1458.5,986.0 1459.0,985.9 1459.5,985.9 1460.0,985.8 1460.5,985.8 1461.0,985.7 1461.5,985.7 1462.0,985.6 1462.5,985.6 1463.0,985.5 1463.5,985.5 1464.0,985.4 1464.5,985.4 1465.0,985.3 1465.5,985.3 1466.0,985.2 1466.5,985.2 1467.0,985.1 1467.5,985.0 1468.0,985.0 1468.5,984.9 1469.0,984.9 1469.5,984.8 1470.0,984.8 1470.5,984.7 1471.0,984.7 1471.5,984.6 1472.0,984.6 1472.5,984.5 1473.0,984.5 1473.5,984.4 1474.0,984.4 1474.5,984.3 1475.0,984.3 1475.5,984.2 1476.0,984.2 1476.5,984.1 1477.0,984.1 1477.5,984.0 1478.0,984.0 1478.5,983.9 1479.0,983.9 1479.5,983.8 1480.0,983.8 1480.5,983.7 1481.0,983.7 1481.5,983.6 1482.0,983.6 1482.5,983.5 1483.0,983.5 1483.5,983.4 1484.0,983.4 1484.5,983.3 1485.0,983.3 1485.5,983.2 1486.0,983.2 1486.5,983.1 1487.0,983.1 1487.5,983.0 1488.0,983.0 1488.5,982.9 1489.0,982.9 1489.5,982.8 1490.0,982.8 1490.5,982.8 1491.0,982.7 1491.5,982.7 1492.0,982.6 1492.5,982.6 1493.0,982.5 1493.5,982.5 1494.0,982.4 1494.5,982.4 1495.0,982.3 1495.5,982.3 1496.0,982.2 1496.5,982.2 1497.0,982.1 1497.5,982.1 1498.0,982.0 1498.5,982.0 1499.0,981.9 1499.5,981.9 1500.0,981.8 1500.5,981.8 1501.0,981.8 1501.5,981.7 1502.0,981.7 1502.5,981.6 1503.0,981.6 1503.5,981.5 1504.0,981.5 1504.5,981.4 1505.0,981.4 1505.5,981.3 1506.0,981.3 1506.5,981.2 1507.0,981.2 1507.5,981.2 1508.0,981.1 1508.5,981.1 1509.0,981.0 1509.5,981.0 1510.0,980.9 1510.5,980.9 1511.0,980.8 1511.5,980.8 1512.0,980.7 1512.5,980.7 1513.0,980.7 1513.5,980.6 1514.0,980.6 1514.5,980.5 1515.0,980.5 1515.5,980.4 1516.0,980.4 1516.5,980.3 1517.0,980.3 1517.5,980.3 1518.0,980.2 1518.5,980.2 1519.0,980.1 1519.5,980.1 1520.0,980.0 1520.5,980.0 1521.0,980.0 1521.5,979.9 1522.0,979.9 1522.5,979.8 1523.0,979.8 1523.5,979.7 1524.0,979.7 1524.5,979.7 1525.0,979.6 1525.5,979.6 1526.0,979.5 1526.5,979.5 1527.0,979.4 1527.5,979.4 1528.0,979.4 1528.5,979.3 1529.0,979.3 1529.5,979.2 1530.0,979.2 1530.5,979.2 1531.0,979.1 1531.5,979.1 1532.0,979.0 1532.5,979.0 1533.0,979.0 1533.5,978.9 1534.0,978.9 1534.5,978.8 1535.0,978.8 1535.5,978.8 1536.0,978.7 1536.5,978.7 1537.0,978.6 1537.5,978.6 1538.0,978.6 1538.5,978.5 1539.0,978.5 1539.5,978.4 1540.0,978.4 1540.5,978.4 1541.0,978.3 1541.5,978.3 1542.0,978.2 1542.5,978.2 1543.0,978.2 1543.5,978.1 1544.0,978.1 1544.5,978.1 1545.0,978.0 1545.5,978.0 1546.0,977.9 1546.5,977.9 1547.0,977.9 1547.5,977.8 1548.0,977.8 1548.5,977.8 1549.0,977.7 1549.5,977.7 1550.0,977.7 1550.5,977.6 1551.0,977.6 1551.5,977.5 1552.0,977.5 1552.5,977.5 1553.0,977.4 1553.5,977.4 1554.0,977.4 1554.5,977.3 1555.0,977.3 1555.5,977.3 1556.0,977.2 1556.5,977.2 1557.0,977.2 1557.5,977.1 1558.0,977.1 1558.5,977.1 1559.0,977.0 1559.5,977.0 1560.0,977.0 1560.5,976.9 1561.0,976.9 1561.5,976.9 1562.0,976.8 1562.5,976.8 1563.0,976.8 1563.5,976.7 1564.0,976.7 1564.5,976.7 1565.0,976.6 1565.5,976.6 1566.0,976.6 1566.5,976.5 1567.0,976.5 1567.5,976.5 1568.0,976.4 1568.5,976.4 1569.0,976.4 1569.5,976.4 1570.0,976.3 1570.5,976.3 1571.0,976.3 1571.5,976.2 1572.0,976.2 1572.5,976.2 1573.0,976.1 1573.5,976.1 1574.0,976.1 1574.5,976.1 1575.0,976.0 1575.5,976.0 1576.0,976.0 1576.5,975.9 1577.0,975.9 1577.5,975.9 1578.0,975.9 1578.5,975.8 1579.0,975.8 1579.5,975.8 1580.0,975.7 1580.5,975.7 1581.0,975.7 1581.5,975.7 1582.0,975.6 1582.5,975.6 1583.0,975.6 1583.5,975.6 1584.0,975.5 1584.5,975.5 1585.0,975.5 1585.5,975.5 1586.0,975.4 1586.5,975.4 1587.0,975.4 1587.5,975.3 1588.0,975.3 1588.5,975.3 1589.0,975.3 1589.5,975.2 1590.0,975.2 1590.5,975.2 1591.0,975.2 1591.5,975.1 1592.0,975.1 1592.5,975.1 1593.0,975.1 1593.5,975.0 1594.0,975.0 1594.5,975.0 1595.0,975.0 1595.5,975.0 1596.0,974.9 1596.5,974.9 1597.0,974.9 1597.5,974.9 1598.0,974.8 1598.5,974.8 1599.0,974.8 1599.5,974.8 1600.0,974.7 1600.5,974.7 1601.0,974.7 1601.5,974.7 1602.0,974.6 1602.5,974.6 1603.0,974.6 1603.5,974.6 1604.0,974.6 1604.5,974.5 1605.0,974.5 1605.5,974.5 1606.0,974.5 1606.5,974.4 1607.0,974.4 1607.5,974.4 1608.0,974.4 1608.5,974.4 1609.0,974.3 1609.5,974.3 1610.0,974.3 1610.5,974.3 1611.0,974.2 1611.5,974.2 1612.0,974.2 1612.5,974.2 1613.0,974.1 1613.5,974.1 1614.0,974.1 1614.5,974.1 1615.0,974.1 1615.5,974.0 1616.0,974.0 1616.5,974.0 1617.0,974.0 1617.5,973.9 1618.0,973.9 1618.5,973.9 1619.0,973.9 1619.5,973.9 1620.0,973.8 1620.5,973.8 1621.0,973.8 1621.5,973.8 1622.0,973.8 1622.5,973.7 1623.0,973.7 1623.5,973.7 1624.0,973.7 1624.5,973.6 1625.0,973.6 1625.5,973.6 1626.0,973.6 1626.5,973.6 1627.0,973.5 1627.5,973.5 1628.0,973.5 1628.5,973.5 1629.0,973.4 1629.5,973.4 1630.0,973.4 1630.5,973.4 1631.0,973.4 1631.5,973.3 1632.0,973.3 1632.5,973.3 1633.0,973.3 1633.5,973.2 1634.0,973.2 1634.5,973.2 1635.0,973.2 1635.5,973.2 1636.0,973.1 1636.5,973.1 1637.0,973.1 1637.5,973.1 1638.0,973.1 1638.5,973.0 1639.0,973.0 1639.5,973.0 1640.0,973.0 1640.5,972.9 1641.0,972.9 1641.5,972.9 1642.0,972.9 1642.5,972.9 1643.0,972.8 1643.5,972.8 1644.0,972.8 1644.5,972.8 1645.0,972.8 1645.5,972.7 1646.0,972.7 1646.5,972.7 1647.0,972.7 1647.5,972.7 1648.0,972.6 1648.5,972.6 1649.0,972.6 1649.5,972.6 1650.0,972.6 1650.5,972.5 1651.0,972.5 1651.5,972.5 1652.0,972.5 1652.5,972.4 1653.0,972.4 1653.5,972.4 1654.0,972.4 1654.5,972.4 1655.0,972.3 1655.5,972.3 1656.0,972.3 1656.5,972.3 1657.0,972.3 1657.5,972.2 1658.0,972.2 1658.5,972.2 1659.0,972.2 1659.5,972.2 1660.0,972.1 1660.5,972.1 1661.0,972.1 1661.5,972.1 1662.0,972.1 1662.5,972.0 1663.0,972.0 1663.5,972.0 1664.0,972.0 1664.5,972.0 1665.0,971.9 1665.5,971.9 1666.0,971.9 1666.5,971.9 1667.0,971.9 1667.5,971.8 1668.0,971.8 1668.5,971.8 1669.0,971.8 1669.5,971.8 1670.0,971.8 1670.5,971.7 1671.0,971.7 1671.5,971.7 1672.0,971.7 1672.5,971.7 1673.0,971.6 1673.5,971.6 1674.0,971.6 1674.5,971.6 1675.0,971.6 1675.5,971.5 1676.0,971.5 1676.5,971.5 1677.0,971.5 1677.5,971.5 1678.0,971.5 1678.5,971.4 1679.0,971.4 1679.5,971.4 1680.0,971.4 1680.5,971.4 1681.0,971.3 1681.5,971.3 1682.0,971.3 1682.5,971.3 1683.0,971.3 1683.5,971.3 1684.0,971.2 1684.5,971.2 1685.0,971.2 1685.5,971.2 1686.0,971.2 1686.5,971.1 1687.0,971.1 1687.5,971.1 1688.0,971.1 1688.5,971.1 1689.0,971.1 1689.5,971.0 1690.0,971.0 1690.5,971.0 1691.0,971.0 1691.5,971.0 1692.0,971.0 1692.5,970.9 1693.0,970.9 1693.5,970.9 1694.0,970.9 1694.5,970.9 1695.0,970.9 1695.5,970.8 1696.0,970.8 1696.5,970.8 1697.0,970.8 1697.5,970.8 1698.0,970.8 1698.5,970.7 1699.0,970.7 1699.5,970.7 1700.0,970.7 1700.5,970.7 1701.0,970.7 1701.5,970.6 1702.0,970.6 1702.5,970.6 1703.0,970.6 1703.5,970.6 1704.0,970.6 1704.5,970.5 1705.0,970.5 1705.5,970.5 1706.0,970.5 1706.5,970.5 1707.0,970.5 1707.5,970.5 1708.0,970.4 1708.5,970.4 1709.0,970.4 1709.5,970.4 1710.0,970.4 1710.5,970.4 1711.0,970.4 1711.5,970.3 1712.0,970.3 1712.5,970.3 1713.0,970.3 1713.5,970.3 1714.0,970.3 1714.5,970.3 1715.0,970.2 1715.5,970.2 1716.0,970.2 1716.5,970.2 1717.0,970.2 1717.5,970.2 1718.0,970.2 1718.5,970.1 1719.0,970.1 1719.5,970.1 1720.0,970.1 1720.5,970.1 1721.0,970.1 1721.5,970.1 1722.0,970.0 1722.5,970.0 1723.0,970.0 1723.5,970.0 1724.0,970.0 1724.5,970.0 1725.0,970.0 1725.5,970.0 1726.0,969.9 1726.5,969.9 1727.0,969.9 1727.5,969.9 1728.0,969.9 1728.5,969.9 1729.0,969.9 1729.5,969.9 1730.0,969.8 1730.5,969.8 1731.0,969.8 1731.5,969.8 1732.0,969.8 1732.5,969.8 1733.0,969.8 1733.5,969.8 1734.0,969.8 1734.5,969.7 1735.0,969.7 1735.5,969.7 1736.0,969.7 1736.5,969.7 1737.0,969.7 1737.5,969.7 1738.0,969.7 1738.5,969.7 1739.0,969.6 1739.5,969.6 1740.0,969.6 1740.5,969.6 1741.0,969.6 1741.5,969.6 1742.0,969.6 1742.5,969.6 1743.0,969.6 1743.5,969.5 1744.0,969.5 1744.5,969.5 1745.0,969.5 1745.5,969.5 1746.0,969.5 1746.5,969.5 1747.0,969.5 1747.5,969.5 1748.0,969.5 1748.5,969.5 1749.0,969.4 1749.5,969.4 1750.0,969.4 1750.5,969.4 1751.0,969.4 1751.5,969.4 1752.0,969.4 1752.5,969.4 1753.0,969.4 1753.5,969.4 1754.0,969.4 1754.5,969.4 1755.0,969.3 1755.5,969.3 1756.0,969.3 1756.5,969.3 1757.0,969.3 1757.5,969.3 1758.0,969.3 1758.5,969.3 1759.0,969.3 1759.5,969.3 1760.0,969.3 1760.5,969.3 1761.0,969.3 1761.5,969.3 1762.0,969.2 1762.5,969.2 1763.0,969.2 1763.5,969.2 1764.0,969.2 1764.5,969.2 1765.0,969.2 1765.5,969.2 1766.0,969.2 1766.5,969.2 1767.0,969.2 1767.5,969.2 1768.0,969.2 1768.5,969.2 1769.0,969.2 1769.5,969.2 1770.0,969.2 1770.5,969.1 1771.0,969.1 1771.5,969.1 1772.0,969.1 1772.5,969.1 1773.0,969.1 1773.5,969.1 1774.0,969.1 1774.5,969.1 1775.0,969.1 1775.5,969.1 1776.0,969.1 1776.5,969.1 1777.0,969.1 1777.5,969.1 1778.0,969.1 1778.5,969.1 1779.0,969.1 1779.5,969.1 1780.0,969.1 1780.5,969.1 1781.0,969.1 1781.5,969.1 1782.0,969.1 1782.5,969.1 1783.0,969.1 1783.5,969.1 1784.0,969.1 1784.5,969.0 1785.0,969.0 1785.5,969.0 1786.0,969.0 1786.5,969.0 1787.0,969.0 1787.5,969.0 1788.0,969.0 1788.5,969.0 1789.0,969.0 1789.5,969.0 1790.0,969.0 1790.5,969.0 1791.0,969.0 1791.5,969.0 1792.0,969.0 1792.5,969.0 1793.0,969.0 1793.5,969.0 1794.0,969.0 1794.5,969.0 1795.0,969.0 1795.5,969.0 1796.0,969.0 1796.5,969.0 1797.0,969.0 1797.5,969.0 1798.0,969.0 1798.5,969.0 1799.0,969.0 1799.5,969.0 1800.0,969.0 1800.5,969.0 1801.0,969.0 1801.5,969.0 1802.0,969.0 1802.5,969.0 1803.0,969.0 1803.5,969.0 1804.0,969.0 1804.5,969.0 1805.0,969.0 1805.5,969.0 1806.0,969.0 1806.5,969.0 1807.0,969.0 1807.5,969.0 1808.0,969.0 1808.5,969.0 1809.0,969.0 1809.5,969.0 1810.0,969.0 1810.5,969.0 1811.0,969.0 1811.5,969.0 1812.0,969.0 1812.5,969.0 1813.0,969.1 1813.5,969.1 1814.0,969.1 1814.5,969.1 1815.0,969.1 1815.5,969.1 1816.0,969.1 1816.5,969.1 1817.0,969.1 1817.5,969.1 1818.0,969.1 1818.5,969.1 1819.0,969.1 1819.5,969.1 1820.0,969.1 1820.5,969.1 1821.0,969.1 1821.5,969.1 1822.0,969.1 1822.5,969.1 1823.0,969.1 1823.5,969.1 1824.0,969.1 1824.5,969.1 1825.0,969.1 1825.5,969.1 1826.0,969.1 1826.5,969.1 1827.0,969.1 1827.5,969.1 1828.0,969.1 1828.5,969.1 1829.0,969.1 1829.5,969.1 1830.0,969.1 1830.5,969.1 1831.0,969.2 1831.5,969.2 1832.0,969.2 1832.5,969.2 1833.0,969.2 1833.5,969.2 1834.0,969.2 1834.5,969.2 1835.0,969.2 1835.5,969.2 1836.0,969.2 1836.5,969.2 1837.0,969.2 1837.5,969.2 1838.0,969.2 1838.5,969.2 1839.0,969.2 1839.5,969.2 1840.0,969.2 1840.5,969.2 1841.0,969.2 1841.5,969.2 1842.0,969.2 1842.5,969.3 1843.0,969.3 1843.5,969.3 1844.0,969.3 1844.5,969.3 1845.0,969.3 1845.5,969.3 1846.0,969.3 1846.5,969.3 1847.0,969.3 1847.5,969.3 1848.0,969.3 1848.5,969.3 1849.0,969.3 1849.5,969.3 1850.0,969.3 1850.5,969.3 1851.0,969.3 1851.5,969.4 1852.0,969.4 1852.5,969.4 1853.0,969.4 1853.5,969.4 1854.0,969.4 1854.5,969.4 1855.0,969.4 1855.5,969.4 1856.0,969.4 1856.5,969.4 1857.0,969.4 1857.5,969.4 1858.0,969.4 1858.5,969.4 1859.0,969.4 1859.5,969.5 1860.0,969.5 1860.5,969.5 1861.0,969.5 1861.5,969.5 1862.0,969.5 1862.5,969.5 1863.0,969.5 1863.5,969.5 1864.0,969.5 1864.5,969.5 1865.0,969.5 1865.5,969.5 1866.0,969.6 1866.5,969.6 1867.0,969.6 1867.5,969.6 1868.0,969.6 1868.5,969.6 1869.0,969.6 1869.5,969.6 1870.0,969.6 1870.5,969.6 1871.0,969.6 1871.5,969.6 1872.0,969.6 1872.5,969.7 1873.0,969.7 1873.5,969.7 1874.0,969.7 1874.5,969.7 1875.0,969.7 1875.5,969.7 1876.0,969.7 1876.5,969.7 1877.0,969.7 1877.5,969.7 1878.0,969.8 1878.5,969.8 1879.0,969.8 1879.5,969.8 1880.0,969.8 1880.5,969.8 1881.0,969.8 1881.5,969.8 1882.0,969.8 1882.5,969.8 1883.0,969.8 1883.5,969.9 1884.0,969.9 1884.5,969.9 1885.0,969.9 1885.5,969.9 1886.0,969.9 1886.5,969.9 1887.0,969.9 1887.5,969.9 1888.0,969.9 1888.5,970.0 1889.0,970.0 1889.5,970.0 1890.0,970.0 1890.5,970.0 1891.0,970.0 1891.5,970.0 1892.0,970.0 1892.5,970.0 1893.0,970.0 1893.5,970.1 1894.0,970.1 1894.5,970.1 1895.0,970.1 1895.5,970.1 1896.0,970.1 1896.5,970.1 1897.0,970.1 1897.5,970.1 1898.0,970.2 1898.5,970.2 1899.0,970.2 1899.5,970.2 1900.0,970.2 1900.5,970.2 1901.0,970.2 1901.5,970.2 1902.0,970.3 1902.5,970.3 1903.0,970.3 1903.5,970.3 1904.0,970.3 1904.5,970.3 1905.0,970.3 1905.5,970.3 1906.0,970.4 1906.5,970.4 1907.0,970.4 1907.5,970.4 1908.0,970.4 1908.5,970.4 1909.0,970.4 1909.5,970.4 1910.0,970.5 1910.5,970.5 1911.0,970.5 1911.5,970.5 1912.0,970.5 1912.5,970.5 1913.0,970.5 1913.5,970.5 1914.0,970.6 1914.5,970.6 1915.0,970.6 1915.5,970.6 1916.0,970.6 1916.5,970.6 1917.0,970.6 1917.5,970.7 1918.0,970.7 1918.5,970.7 1919.0,970.7 1919.5,970.7 1920.0,970.7 1920.5,970.7 1921.0,970.8 1921.5,970.8 1922.0,970.8 1922.5,970.8 1923.0,970.8 1923.5,970.8 1924.0,970.8 1924.5,970.9 1925.0,970.9 1925.5,970.9 1926.0,970.9 1926.5,970.9 1927.0,970.9 1927.5,970.9 1928.0,971.0 1928.5,971.0 1929.0,971.0 1929.5,971.0 1930.0,971.0 1930.5,971.0 1931.0,971.1 1931.5,971.1 1932.0,971.1 1932.5,971.1 1933.0,971.1 1933.5,971.1 1934.0,971.2 1934.5,971.2 1935.0,971.2 1935.5,971.2 1936.0,971.2 1936.5,971.2 1937.0,971.2 1937.5,971.3 1938.0,971.3 1938.5,971.3 1939.0,971.3 1939.5,971.3 1940.0,971.3 1940.5,971.4 1941.0,971.4 1941.5,971.4 1942.0,971.4 1942.5,971.4 1943.0,971.4 1943.5,971.5 1944.0,971.5 1944.5,971.5 1945.0,971.5 1945.5,971.5 1946.0,971.6 1946.5,971.6 1947.0,971.6 1947.5,971.6 1948.0,971.6 1948.5,971.6 1949.0,971.7 1949.5,971.7 1950.0,971.7 1950.5,971.7 1951.0,971.7 1951.5,971.8 1952.0,971.8 1952.5,971.8 1953.0,971.8 1953.5,971.8 1954.0,971.8 1954.5,971.9 1955.0,971.9 1955.5,971.9 1956.0,971.9 1956.5,971.9 1957.0,972.0 1957.5,972.0 1958.0,972.0 1958.5,972.0 1959.0,972.0 1959.5,972.1 1960.0,972.1 1960.5,972.1 1961.0,972.1 1961.5,972.1 1962.0,972.2 1962.5,972.2 1963.0,972.2 1963.5,972.2 1964.0,972.2 1964.5,972.3 1965.0,972.3 1965.5,972.3 1966.0,972.3 1966.5,972.3 1967.0,972.4 1967.5,972.4 1968.0,972.4 1968.5,972.4 1969.0,972.4 1969.5,972.5 1970.0,972.5 1970.5,972.5 1971.0,972.5 1971.5,972.5 1972.0,972.6 1972.5,972.6 1973.0,972.6 1973.5,972.6 1974.0,972.7 1974.5,972.7 1975.0,972.7 1975.5,972.7 1976.0,972.7 1976.5,972.8 1977.0,972.8 1977.5,972.8 1978.0,972.8 1978.5,972.8 1979.0,972.9 1979.5,972.9 1980.0,972.9 1980.5,972.9 1981.0,973.0 1981.5,973.0 1982.0,973.0 1982.5,973.0 1983.0,973.0 1983.5,973.1 1984.0,973.1 1984.5,973.1 1985.0,973.1 1985.5,973.2 1986.0,973.2 1986.5,973.2 1987.0,973.2 1987.5,973.3 1988.0,973.3 1988.5,973.3 1989.0,973.3 1989.5,973.4 1990.0,973.4 1990.5,973.4 1991.0,973.4 1991.5,973.4 1992.0,973.5 1992.5,973.5 1993.0,973.5 1993.5,973.5 1994.0,973.6 1994.5,973.6 1995.0,973.6 1995.5,973.6 1996.0,973.7 1996.5,973.7 1997.0,973.7 1997.5,973.7 1998.0,973.8 1998.5,973.8 1999.0,973.8 1999.5,973.8 2000.0,973.9 2000.5,973.9 2001.0,973.9 2001.5,973.9 2002.0,974.0 2002.5,974.0 2003.0,974.0" fill="none" stroke="#0000ff" stroke-width="1.7" stroke-linejoin="round" />
<text x="186.7" y="941" font-size="46.3" letter-spacing="0.9" text-anchor="middle"  >0.05</text>
<text x="210.4" y="1007.5" font-size="46.3" letter-spacing="0.9" text-anchor="middle"  >0</text>
<text x="172.4" y="1072.5" font-size="46.3" letter-spacing="0.9" text-anchor="middle"  >−0.05</text>
<text x="237.4" y="1107.5" font-size="46.3" letter-spacing="0.9" text-anchor="middle"  >0</text>
<text x="400.4" y="1106" font-size="46.3" letter-spacing="0.9" text-anchor="middle"  >400</text>
<text x="566.7" y="1106" font-size="46.3" letter-spacing="0.9" text-anchor="middle"  >800</text>
<text x="735" y="1106" font-size="46.3" letter-spacing="0.9" text-anchor="middle"  >1200</text>
<text x="898.7" y="1102.5" font-size="46.3" letter-spacing="0.9" text-anchor="middle"  >1600</text>
<text x="1058.7" y="1102.5" font-size="46.3" letter-spacing="0.9" text-anchor="middle"  >2000</text>
<text x="99.8" y="1004.4" font-size="70" font-style="italic">c</text>
<text x="130.1" y="1021.1" font-size="42">9</text>
<text x="1134.5" y="941" font-size="46.3" letter-spacing="0.9" text-anchor="middle"  >0.1</text>
<text x="1153.2" y="1009" font-size="46.3" letter-spacing="0.9" text-anchor="middle"  >0</text>
<text x="1127" y="1080" font-size="46.3" letter-spacing="0.9" text-anchor="middle"  >−0.1</text>
<text x="1173.5" y="1112.5" font-size="46.3" letter-spacing="0.9" text-anchor="middle"  >0</text>
<text x="1337" y="1112" font-size="46.3" letter-spacing="0.9" text-anchor="middle"  >400</text>
<text x="1502.2" y="1112" font-size="46.3" letter-spacing="0.9" text-anchor="middle"  >800</text>
<text x="1670.7" y="1110" font-size="46.3" letter-spacing="0.9" text-anchor="middle"  >1200</text>
<text x="1834" y="1107.5" font-size="46.3" letter-spacing="0.9" text-anchor="middle"  >1600</text>
<text x="1993.2" y="1107.5" font-size="46.3" letter-spacing="0.9" text-anchor="middle"  >2000</text>
<text x="1996.8" y="1019.2" font-size="70" font-style="italic">c</text>
<text x="2022.8" y="1036" font-size="42">10</text>
<text transform="translate(73 615.2) rotate(-90)" font-size="72" letter-spacing="-0.85" text-anchor="middle">Amplitude</text>
<text x="1098" y="1191" font-size="72" text-anchor="middle">Length</text>
</svg>
</body></html>
